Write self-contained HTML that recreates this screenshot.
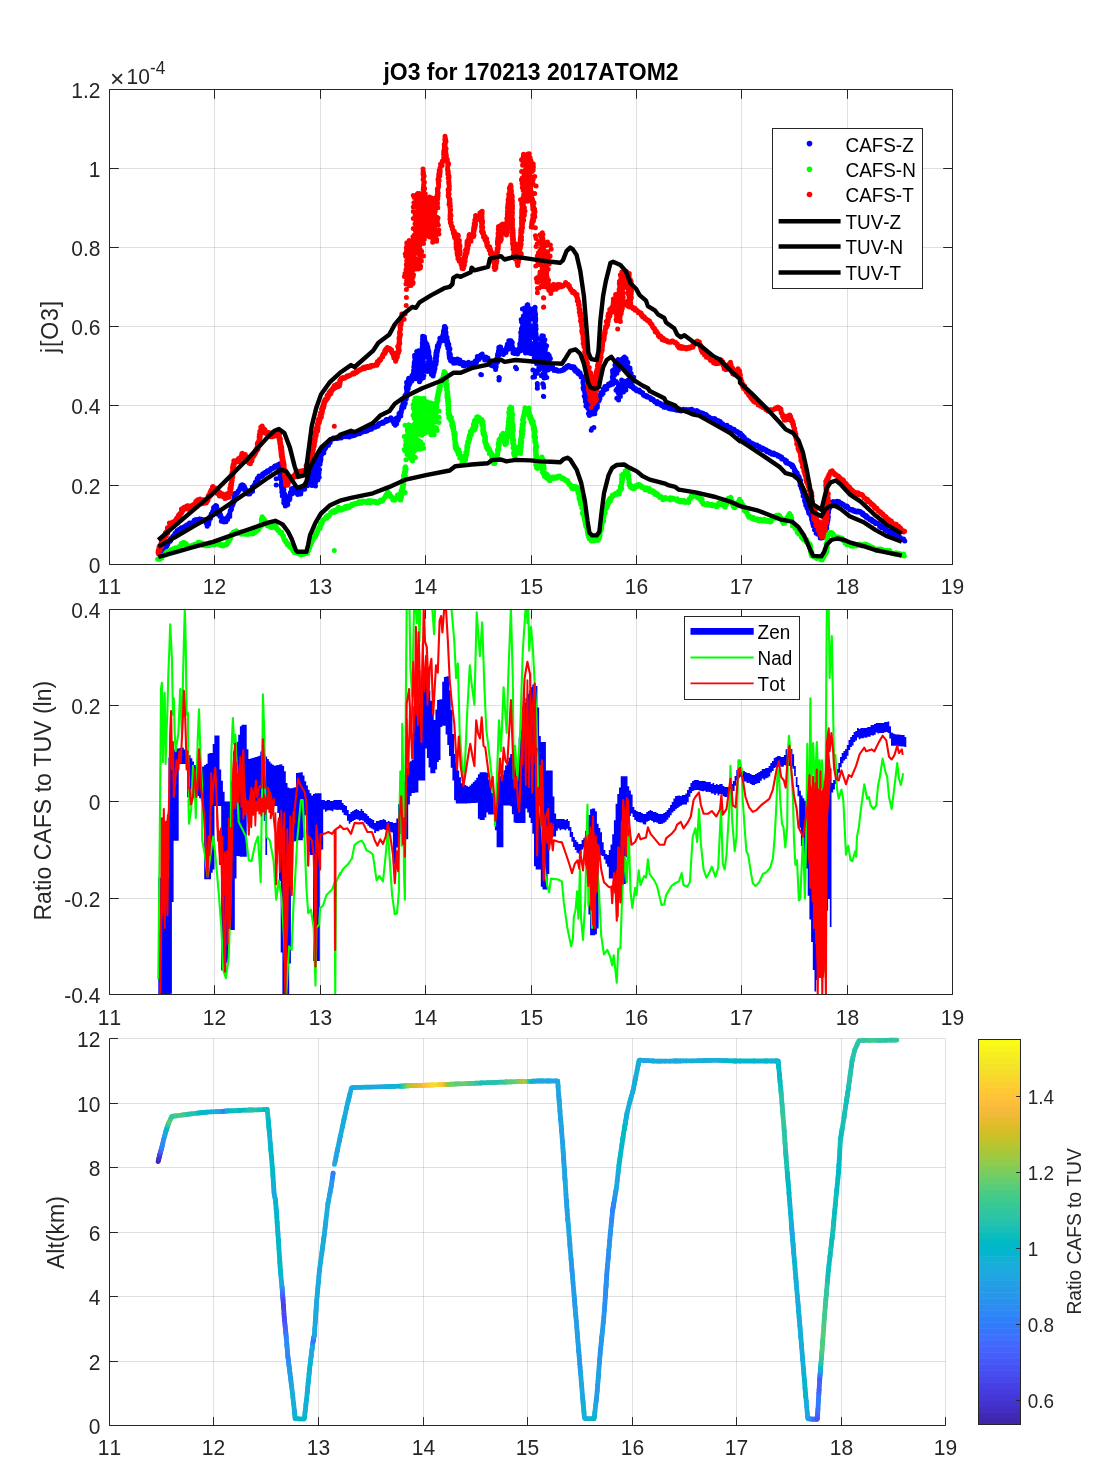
<!DOCTYPE html>
<html lang="en"><head><meta charset="utf-8"><title>jO3 for 170213 2017ATOM2</title>
<style>html,body{margin:0;padding:0;background:#fff}body{width:1094px;height:1484px;overflow:hidden}</style>
</head><body>
<svg width="1094" height="1484" viewBox="0 0 1094 1484" font-family='"Liberation Sans", sans-serif' style="display:block;font-kerning:none">
<rect width="1094" height="1484" fill="#fff"/>
<path d="M109.5 89.5V564.5M214.5 89.5V564.5M320.5 89.5V564.5M425.5 89.5V564.5M531.5 89.5V564.5M636.5 89.5V564.5M741.5 89.5V564.5M847.5 89.5V564.5M952.5 89.5V564.5" stroke="#262626" stroke-opacity=".15" stroke-width="1" fill="none"/>
<path d="M109.5 564.5H952.5M109.5 485.5H952.5M109.5 405.5H952.5M109.5 326.5H952.5M109.5 247.5H952.5M109.5 168.5H952.5M109.5 89.5H952.5" stroke="#262626" stroke-opacity=".15" stroke-width="1" fill="none"/>
<clipPath id="c1"><rect x="109" y="89" width="844" height="476"/></clipPath>
<g clip-path="url(#c1)">
<path d="M158.8 553.1h0m-.1 .7h0m.3-1.3h0m1-.1h0m-.5-.4h0m1.6-1.3h0m.5 .3h0m.1-.9h0m0 0h0m1.6-.4h0m-.2-1.8h0m0 0h0m1.3-.6h0m.3-.7h0m1.6-.7h0m-.3 1.1h0m-.3-.4h0m1.2-.6h0m0-1.2h0m.9-.6h0m.2-.6h0m.4-.9h0m0-.7h0m1.4-.5h0m-.1-1.1h0m.5 0h0m.5 .1h0m-.1-1.2h0m.1-.9h0m.5 .1h0m1.1-1h0m.3-.6h0m0-.1h0m.3-.6h0m.3 .1h0m.5-.5h0m1.1-.8h0m.1-1.6h0m.4-.5h0m.6 .1h0m0-.5h0m1.1-1.3h0m.2-.7h0m1.2 .3h0m.4-.6h0m.4-.9h0m.8 1.3h0m.2-1.2h0m.3-.7h0m1.1-.8h0m-.4-.1h0m1.9 .8h0m-.6-.8h0m1.7-.4h0m.1-.8h0m1.5-.8h0m.2 1.3h0m.6-2.1h0m.6-.2h0m0 1.2h0m.8-1.5h0m.8-.3h0m.6-1.1h0m.7 1.4h0m-.4-1.1h0m.9 .2h0m1-.5h0m0-.4h0m1-.2h0m1.2 .1h0m.4-2.3h0m.2 1.3h0m1.2-1.3h0m.4 .7h0m.1-1.5h0m2 1.2h0m.2-.8h0m.8 0h0m.1-.9h0m.5 0h0m.7 1.3h0m1.2-1.1h0m.5 .5h0m.2 .2h0m.8 1.1h0m.9 0h0m.6-1.2h0m0 .3h0m.5-.1h0m0 1.3h0m1.5 .4h0m-.2 1.7h0m.8 2.9h0m.2-2.6h0m-.1 .8h0m1.4-.3h0m-.4-1.7h0m.2-2.2h0m.3 2h0m-.3-1.4h0m.5-2h0m0 2.9h0m.2-4.3h0m1.3 .9h0m-.8-1.5h0m.5-.3h0m.6-.7h0m1-1.6h0m-.3 1.1h0m-.3-1.5h0m.8-.2h0m1 1h0m.1-1.3h0m-.5-1.9h0m.5-.7h0m-.3 .7h0m1.4-1.7h0m-.7-2h0m.9 1.9h0m.2 .2h0m.5-.7h0m-.7-2.4h0m1.4-1.3h0m0 1.3h0m0 1h0m.8-1.8h0m-.4 2.5h0m.8-.8h0m.1 3.8h0m.7-.5h0m0-1.2h0m0 3.4h0m.5 1.4h0m1.1-2.8h0m0 2.3h0m.4-1.3h0m-.8 1.1h0m.8 1.4h0m.3 1.3h0m.6-1.7h0m1 3.8h0m.3-.2h0m-.7 2.8h0m.3-3.8h0m.5 3.6h0m1.5-2.1h0m.4 2.9h0m-.8-.5h0m1.5-.5h0m.2-.2h0m.5-.3h0m-.3-1.6h0m1.4 1.4h0m-.5 1.5h0m.9-2.5h0m.7-.1h0m-.2-.3h0m.2 .7h0m.4-2.8h0m-.1-.2h0m.9-.6h0m.3-1.5h0m.5 1.5h0m.2 .6h0m0-2.5h0m0 .1h0m.3-2.9h0m.9-1.5h0m-.7 .8h0m.7-.5h0m.5-.7h0m-.1-2.8h0m.9-.7h0m-1.1 2h0m.2 .8h0m0-3.1h0m1.3-.6h0m.2-2h0m.3 .9h0m.3-1.9h0m-1.2 1.4h0m.3-1.4h0m.6 .1h0m1-.4h0m.1-3.1h0m-.5 .4h0m1.1 0h0m-1-.5h0m0-3.9h0m.1 1.3h0m1.6-2.1h0m-.8-.1h0m.8 3.3h0m0-2.2h0m.3-.7h0m1.6-1.5h0m-.3 .7h0m.9-1.4h0m0-.7h0m.6-.2h0m.5-.8h0m.7-2h0m.5-.4h0m.6 1h0m0-.9h0m-.1-2.4h0m1 .1h0m.2-.8h0m-.1 .6h0m.7 2.7h0m.7-2.8h0m1 1.4h0m.8 1.9h0m-.5 1.7h0m.5 .6h0m.3 .4h0m1.1 1.1h0m.3-1.7h0m.1 .3h0m.8 1.1h0m.1 1.9h0m1.2-1.3h0m.6 1.4h0m.6-1.2h0m-.2 .2h0m.3-1.4h0m0 .5h0m1-.4h0m.8-2.1h0m.4 1.7h0m-.3-4.2h0m-.3 2.6h0m.9-2.8h0m.5-.7h0m.7 .1h0m.2-1.4h0m.5 .1h0m-.3 .4h0m.6-1.9h0m.9-.4h0m.6-.3h0m-1.3-.2h0m1.2-1.4h0m-.7 .5h0m1.1-1.2h0m.3-2h0m.8 .6h0m.6-.3h0m.1-1.6h0m-.3 .3h0m.6-1.6h0m1 1h0m1-.2h0m.1-1h0m1.9-.4h0m-.7 .5h0m.4-2h0m1.3 .1h0m.3-.2h0m.5-1.2h0m.5 1h0m.8-1.1h0m.3 .3h0m.3-1h0m.6-.9h0m.9 .9h0m.5-.6h0m.8-.8h0m.6 .3h0m.2-1.4h0m.8 0h0m-.2-.6h0m1.2 .2h0m.6-.5h0m.8-.7h0m.6 .4h0m.9-.6h0m-.2-1.5h0m1 1.2h0m.8-1.1h0m.5-.8h0m.3-.1h0m.6 0h0m1.7-1.3h0m-.8 1.3h0m1.5-.5h0m-.9 .8h0m-.3 .1h0m0 2.5h0m-.2-.9h0m.7 2.3h0m-.2-.1h0m.7-1h0m-.6 1.6h0m.6 .7h0m-.6 1h0m.2 3h0m1-2.1h0m.4 1.8h0m-.5 2.7h0m-.4-2.9h0m.1 2.9h0m-.2 .1h0m1.7 .8h0m-1.2 1h0m.7-2.1h0m.4 3.2h0m-1.2-3.1h0m1.1 4.8h0m.8 1.2h0m-.5 1.3h0m-.5 3h0m-.1-4.7h0m-.3 2.7h0m.7-.1h0m1.3-1.8h0m-1.3 5.8h0m1.1-4.8h0m-.2 1.2h0m.9 2.2h0m-.9-.5h0m-.3-1.7h0m-.6 6.5h0m.9-.8h0m1.2-1.4h0m-1.1 3.7h0m-.4 1.2h0m1-5.7h0m-.2 2.3h0m-.2-.8h0m-1.1 1.3h0m.1-3.3h0m1.7 6.4h0m0-3h0m-1.4 4.2h0m.8-4.7h0m.1 2.2h0m.6 3.6h0m-.8-6.6h0m1.6 4.5h0m.7 .6h0m-1-1h0m-.5 5.4h0m-.6-6.4h0m-.3 2.3h0m2.7 1.1h0m-1.2 3.4h0m.3 1.5h0m0-8.1h0m.1 5h0m.3-2.1h0m.8 2.5h0m-1.3-3.3h0m-.9 6.8h0m2.2-1h0m-.6 .3h0m.7-3.5h0m-1.3-.7h0m.2-.3h0m.3 5.7h0m.5-2.2h0m-.7 3.4h0m.1-1.2h0m0 1.3h0m.2 .5h0m1.7 0h0m-.9-1.6h0m1.1 1.1h0m.4-2.2h0m.2 2h0m-.3 0h0m.7-4.6h0m-1 2h0m.2 1.7h0m1-4.7h0m-.7 1.8h0m.9-2h0m.2-.4h0m-.7-.7h0m1.4 2.2h0m.4-2.5h0m0 1.4h0m.6-4.2h0m-.1-1.9h0m.2 2.3h0m-.7 .2h0m1.9-.9h0m-1-.3h0m.7-5h0m.5 .2h0m.3-.2h0m.1 .8h0m.4 3.5h0m1.8-5.5h0m-.7 1.5h0m0 3.5h0m1.6 .2h0m.4-.3h0m1.7-1h0m.1 3.1h0m-.3-2.2h0m.9-1.4h0m.5 3h0m.9-2.3h0m1.2 1.4h0m-.2 .9h0m0-2.6h0m.9-2.8h0m1-.5h0m0-.7h0m.5-1.4h0m.4 .6h0m-.9 3h0m.7-3.1h0m.9-1.1h0m.4 3.9h0m.2-3h0m.7-2.7h0m.9 1.2h0m-.5-1.3h0m1.5 2.3h0m.4-2.1h0m1.2-3h0m-.4 4.3h0m-1.3-.8h0m.1-1h0m2.6-1.2h0m-2.8 0h0m3.7 1.4h0m-1.1 .5h0m-.9-7.9h0m.4-.5h0m2.2 5.8h0m-1.8-1.7h0m-.9-3h0m1.6 4.9h0m1.7-1.7h0m.6-1.1h0m-1.4 .6h0m-.6 3.5h0m-.1-1.5h0m1.6 .5h0m-.2 3.6h0m-1.9-4.5h0m2.3-.2h0m1.8-6.1h0m-1.5-.6h0m-2.1 5.2h0m.5-1.4h0m.6 6.1h0m3.7-6h0m-4.4-1.3h0m3.2-.7h0m2 1.2h0m-4.2-7.6h0m1.8 5.8h0m-1.5 5.9h0m3.5-14.4h0m-3.9 8.8h0m.1 8.1h0m2.3-8.4h0m.4 8.9h0m2.6-13.2h0m-4.2 4.5h0m3.1-7h0m-1.6-2.1h0m2.2 10.8h0m-3.4-.5h0m3.2-12h0m-.6 8.3h0m-2.4-5.3h0m3.4 1h0m-2.8 .4h0m1 9.4h0m.7-.2h0m-.6-4.9h0m.3-.7h0m2.7 .4h0m-1.6 .2h0m-3.1 .1h0m2.2-4.9h0m2 11.4h0m-1-1.7h0m-.5-1h0m2.9 .1h0m-2.6-4.8h0m2.4 .7h0m-1.2-3.2h0m-.5-7.2h0m.9 5.3h0m-.7-.8h0m2 2.2h0m-4.5 5.3h0m3.5 0h0m-.1-11.5h0m-2.1 11.6h0m-.5-6.5h0m1.6-1.3h0m-1.4 .6h0m-.6 6.8h0m1.3-10.9h0m-1.1 1.2h0m1 1.4h0m-.5-.8h0m2.9 5.9h0m-3-11.8h0m1 7.9h0m1.1-3h0m-1.5 6.6h0m2.7-7.2h0m-1.5 1.4h0m-1-1.1h0m2.4-1h0m-.6-5.3h0m-1 2.5h0m.3 1h0m.2-2.4h0m1.2 5.2h0m.8 .1h0m-1.8-1.4h0m.3-2h0m1.2 1.6h0m.7-1.1h0m-1.5-3h0m1.6 2.5h0m.3-5.6h0m-1.6 2.8h0m1.7 1.3h0m-.9-4.4h0m.2 4.1h0m.6-2.1h0m-1.1-.6h0m.7 .9h0m1.2-2.7h0m-.2-.9h0m.2 .1h0m.6-1.5h0m.2-1.1h0m0-.4h0m1.3 2.4h0m-.1-.7h0m1-3.2h0m-.3-.6h0m.1 .3h0m1.1-.8h0m-.2-.3h0m.2-1.9h0m.9 .3h0m.2-.8h0m.2-1.3h0m1.6 1.2h0m-.9-2h0m1-.3h0m-.3-.7h0m.7-.6h0m1.2 .7h0m-.5-.6h0m-.3-.9h0m1.2-1.4h0m.3 .1h0m1.4-.7h0m.9 .2h0m1.2-.7h0m-1.1-.4h0m1.4-.1h0m.7 .5h0m.5-.3h0m1.1 .4h0m.5 .1h0m.9-2.1h0m.6 1.4h0m.6 0h0m.4-.2h0m.3-.6h0m.2 .9h0m.7 0h0m.4-1.4h0m.5 .2h0m1.4 0h0m.7-.3h0m.9 .1h0m.5-.1h0m.1 .2h0m1.2-.3h0m.5-.8h0m.9 .1h0m.7 1.2h0m.3 0h0m.5-.9h0m.9-.2h0m.1-.9h0m1.3 1.2h0m.3-.8h0m1.1-1h0m.9 1.2h0m0-1.9h0m1.3 1.2h0m.4-.9h0m.4 .2h0m1.4-.6h0m-.4-1h0m1 1.3h0m1.1 0h0m.4-1.1h0m.4-.9h0m1.3-.1h0m.7 .5h0m.1-1.3h0m1.3 .4h0m.2-.7h0m1 .1h0m.3 .6h0m.4 .2h0m1.4-.4h0m1-1.2h0m-.4-.8h0m.8 .2h0m.9 .5h0m1-.9h0m-.5 0h0m1.6 .3h0m0-1.7h0m1 .4h0m.4-1.2h0m1.6 0h0m-.5 .3h0m1.1 .3h0m1-1h0m-.5-.4h0m1.2 .5h0m1-.2h0m.6-.6h0m.2-1.8h0m.8 .5h0m.5-.8h0m1.8-.4h0m-1 .5h0m.9-.2h0m.8-1.3h0m1 1.1h0m0-.3h0m1.8-2h0m-.2 .5h0m1.2 .2h0m-.1-.7h0m.1-1.3h0m1.2 .1h0m.4 1h0m1-.4h0m1.7-1.7h0m-1.1 .4h0m1.3-.1h0m.2-1.2h0m.9 1.9h0m0-.7h0m-.5 1.1h0m1.7-.5h0m.2-.2h0m.7 4.5h0m-.6-1.8h0m1.4 1.5h0m.6 1.8h0m-.1-1h0m0-1.7h0m.8 .9h0m.7 .2h0m-.6-3.5h0m.3-2.1h0m1.7 1.5h0m-1-.7h0m1 1.4h0m.7-2h0m.1-2.6h0m-.2 .5h0m.6-2.3h0m-.3-.5h0m1.1 1.8h0m.7 .7h0m.1-2.2h0m-.2-2h0m-.5 2.7h0m.4-1.5h0m.9-4.1h0m-.1 3.3h0m.3-3.4h0m.5-.6h0m-.3-1.5h0m.3 2.3h0m.6-1.2h0m0-3.3h0m1 .1h0m.1 2.8h0m.7-2.8h0m-1.4-2.3h0m1-.5h0m-.6 1.9h0m1 1.1h0m.7-1.8h0m.5-5.1h0m-.4 1.3h0m-.2 .5h0m.3-2.5h0m.7 1.9h0m.5-1.9h0m.3-2.6h0m-1.9 .8h0m1.1-.2h0m.3-2h0m1 1.5h0m-.7-5.1h0m-.5 6.2h0m.1-1.2h0m.3-2.4h0m.7-1.4h0m-1.1-3.6h0m.1 1.7h0m1.2 1.4h0m.6-5.8h0m.1 4.1h0m-1.7-6.3h0m.1 .9h0m2.3 2.2h0m-1.9-.1h0m.9 .9h0m1.1-3.5h0m.6-.3h0m-1.3-2.8h0m.3-1.3h0m-.1 1.8h0m141.9-12.8h0m.7-.2h0m.1-.4h0m.8-.3h0m.1 2.4h0m.4-1.7h0m-.1 1.1h0m1 .8h0m.5 1.5h0m.8-1.2h0m.4 1.1h0m1.4-.5h0m-.4 .3h0m1.1 1h0m.5-.7h0m.7 .8h0m.9-.3h0m1.2 .1h0m.9-.3h0m-.3 0h0m.3-.4h0m1.6-.8h0m-1 1.1h0m1.6-.6h0m.4-1.5h0m.5-.6h0m0 .9h0m1-.3h0m.6-1.4h0m.3 .4h0m.6-1.6h0m.4 .7h0m1.3-1.2h0m.1 1.5h0m.4-.6h0m.5 .5h0m1.9 .1h0m.6 .2h0m-.9 .7h0m.4-1.3h0m2.1 .3h0m.1 .9h0m.3 .2h0m.2 2.1h0m.8-1.4h0m.1 2.7h0m1.1 .3h0m.7-1h0m.4 2.1h0m.5-1.7h0m.1 1.6h0m.4 1.5h0m1.4-1.3h0m-.4 1.7h0m.9-.3h0m.4 1.7h0m.2 1.2h0m.1-1.1h0m.7 .5h0m1 .3h0m-.1 .6h0m.8 1.2h0m.4 1.8h0m.5-1.6h0m-.7 1.8h0m-.7 .4h0m.2 1.7h0m.4-2.1h0m-.8 1.8h0m.3 1.4h0m.9 2h0m-1 1.9h0m.5-1h0m-.4 1.9h0m.8-1.9h0m-.3 2h0m0 1h0m1.7-.4h0m-.3 .9h0m-.6 1.5h0m.7-.7h0m-.4 .4h0m-.6 4.7h0m.5-3.9h0m1.8 1.5h0m.2 1.5h0m.3-2.8h0m-.1 5.9h0m-1.8-1.7h0m.1 2.1h0m.2 2.9h0m.9-3.5h0m-.8-2.7h0m.6 3.2h0m.6 .3h0m.3 2h0m-.2-1.5h0m-.7 1.8h0m1.2 .5h0m-1 0h0m1.1-2h0m-.8-2.2h0m-.6 3.5h0m2.7 1.9h0m-2.8 3.2h0m1-3.1h0m.9 4.7h0m-1.8-1.6h0m.7-2.3h0m1-.1h0m-.3 1.6h0m.1 2.4h0m.4-4.6h0m1.8 6h0m-2.5-7h0m.2 .1h0m1.7 7.6h0m.4-.6h0m-1.1-3.4h0m.6 .9h0m0-3.1h0m.4 4.4h0m1.2 4.2h0m-2.4-3.7h0m.2 5.1h0m.1-.2h0m.5-4.1h0m1-.8h0m.8 1.7h0m.8 .7h0m-1.3 1h0m1.8 1.9h0m-.1-5.3h0m-.4 5.8h0m-.4-3.5h0m1.1 1.2h0m.9-1.3h0m1 3.1h0m-.9-4h0m1.5-3.8h0m-2 3.9h0m.9 1h0m.3-1h0m.4 1.2h0m1.5-6.2h0m-1.3 7.3h0m.9-2.4h0m.4-.8h0m-1.4-4.1h0m1.9 3.2h0m-1.9 .7h0m1.6-3.8h0m-.3 4.5h0m-.9-3.5h0m.4-3.2h0m-.2 4.1h0m2.3-1.6h0m0 1.9h0m-.3-2h0m-.9-1h0m.5 1.8h0m.4-3.4h0m-1.5 5h0m1.6-5.2h0m-.5 3.8h0m-.4-6.1h0m.5 2h0m0-4.2h0m.4 7.4h0m-.3-4.7h0m1.1-.8h0m.3-2.3h0m-.1 3.6h0m0-4.7h0m.9 4.4h0m.8-2h0m-.1-2.3h0m-.3-1h0m.4-.4h0m1.3-.5h0m.3 .5h0m-.5-2.6h0m.5 2.6h0m-.1-2.7h0m1.6 1.1h0m-.6-1.2h0m.8-3.3h0m-.1 2.7h0m1.5-4.3h0m.1 2.6h0m-.2-1.7h0m.4-1.8h0m1.6-.2h0m.2 .7h0m.1 1.9h0m1.3-2.9h0m-.3-.1h0m.7-2h0m.2 .2h0m.7-.4h0m.5 1.6h0m1.5-1.8h0m-.4-1.1h0m.9 .5h0m.1-.7h0m.7 2.1h0m1.2-2.2h0m.1-2.4h0m-.9-.6h0m-.3-.2h0m-.3-1.6h0m.2 1.8h0m.2-2.6h0m-.5 .2h0m0 .7h0m1.5-2.1h0m-1.3-2.3h0m.9 2.1h0m-1-4.6h0m2 4.8h0m.3-3.7h0m-1.5-1h0m.9-1.4h0m-.2 3.2h0m2.6-2.9h0m-.9-1h0m1.2 1.8h0m0 3h0m.6-4.3h0m-2.6-4h0m2 4.6h0m.2-1.9h0m1.3 2.5h0m-.8-1.6h0m-.3-.7h0m-.7-1h0m.8 .3h0m1.8-5.5h0m-.5 4.6h0m-1.1 1.4h0m2.6-2.9h0m-1.9-1.3h0m.1 5.1h0m-.3-6.9h0m.6 0h0m-.6-2.2h0m2.5 5.2h0m-.7 .4h0m1.3-2h0m-.1 .8h0m-.2 1.9h0m0 .8h0m.6-2.1h0m0 1.4h0m.4-6.6h0m.5 .5h0m.4 5.2h0m-.6-4.8h0m-.3 2h0m.6-2.1h0m2-3h0m-.9 .6h0m.2 3h0m2.2 2.8h0m.1-5h0m-.2 3.8h0m0 .7h0m1.1 .5h0m.9-.9h0m-1.5 4h0m.9-4.9h0m-.3 2.7h0m.2 3.6h0m.6-1.4h0m1.6 2.9h0m-.9-.8h0m.4 0h0m.6 .6h0m.5-1.3h0m-.9 4.9h0m1-3.7h0m-.3 2.2h0m.4 1.5h0m-.1 3.1h0m.6-.4h0m.5-2h0m-.1 3.6h0m.8-.8h0m-.5 1.4h0m1.4 1.8h0m-.7 0h0m1.1 1.7h0m.5-4h0m-1.7 2.8h0m-.3-1.3h0m-.8 2.5h0m-.7-1.6h0m-.5 1.6h0m.8-1.1h0m-2 3.4h0m-.5 1.6h0m.1-5.1h0m-1 3h0m-1.1 3.7h0m-.9-3.1h0m1.2 .7h0m-2.5-1.5h0m.5-.1h0m-.5 1.6h0m.5-3.1h0m-1.7 3h0m.4 3.8h0m-.3-4.2h0m1.6 4.9h0m-.5-6.9h0m-1.7 3.2h0m.7 4.5h0m.7-7h0m-1.6 3.5h0m-.9-.9h0m.6-5.1h0m-.2 6h0m-.4-.9h0m.8-2.7h0m-2.8 6.1h0m-.8-1.6h0m2.1 0h0m-.6 1.6h0m-2.8 .5h0m2.1-4.2h0m-2.2-2.1h0m-.5-1.4h0m1.8 7.3h0m.3 4.8h0m.2-3.4h0m-.8 1.8h0m.6-3.6h0m-2.4 1.9h0m2.1 2.2h0m-.2-3.5h0m2.2-3.7h0m-2.4 5h0m1.4-1.5h0m.5-2h0m1.2 3.4h0m-.2 3.1h0m-.2-2.5h0m-.9-1.7h0m2.7-2.8h0m-1.9 3.6h0m2.6 .5h0m-.4 1.4h0m-1.7-4.7h0m2.8-.8h0m-1.3 4.3h0m.8-.8h0m.4 2.2h0m-1.9-.6h0m3.5-5.2h0m-1.7 5.8h0m-.2-3.9h0m.9-2.7h0m1.5-.3h0m-1.1 3.5h0m.2 1.9h0m.5-5.7h0m.3 4.4h0m1.4-5.6h0m-.4 2.5h0m.6-1.4h0m.6 .6h0m-.4-.2h0m1.4-1.8h0m.7 1.7h0m0-.8h0m.2-.1h0m1.1 2.5h0m.6-1.6h0m.7 1.8h0m1 .5h0m.2 .8h0m0-1.4h0m.8 2.2h0m.8 .2h0m.8-.5h0m.1 1.4h0m.7 .7h0m1 0h0m-.3 .5h0m1.9-1h0m-.2 .6h0m.9 .1h0m.5 1.4h0m.8 .1h0m-.1 0h0m1.3 .7h0m.5-.2h0m-.1 .2h0m.8 2h0m.4 .3h0m1 .6h0m.8 0h0m-.3-.3h0m1.2 .8h0m.5-.7h0m-.1 1.3h0m1.1 .3h0m.8 .2h0m.1-.2h0m1.6 .5h0m-.1 .4h0m.6 1.2h0m1 .4h0m.6-.7h0m.3 .6h0m.4-.1h0m.9 1.4h0m1.3 1h0m-.5-.1h0m1.1 0h0m1-.3h0m0 1.2h0m-.1 1h0m1.9 .3h0m.7-.8h0m.5-.1h0m.3 .2h0m1.1 2h0m.1-1.3h0m1.3 .9h0m.3-.2h0m1.2 1h0m-.5 1.5h0m1.2 .2h0m.6-1.4h0m1 .6h0m.6 .8h0m-.4-.2h0m2.3-.3h0m-.5 1.5h0m1.1-.9h0m.4 .2h0m.2 1.1h0m1.8-.6h0m0 1h0m1.7 .3h0m0-1.3h0m.5 .4h0m-.3 .5h0m1.5 .5h0m.8 .5h0m.8-1.1h0m.7 1.2h0m1.1-1.5h0m0 1.6h0m.7-.1h0m1.4 .7h0m-.1-.1h0m1.1-1.3h0m1.3 0h0m.1-.4h0m.3 1.4h0m.4-1h0m1 1.5h0m1.1-1.7h0m.3 1.7h0m.1-.9h0m1.7-.5h0m-.3 1.3h0m1.8-.1h0m.3-1.3h0m.3 .8h0m1.3-1.1h0m0 1.5h0m1.3 .1h0m.5-.5h0m1 .5h0m.2 0h0m1 0h0m1-.3h0m.3 1.4h0m1 .3h0m-.7-.5h0m1.1-.3h0m1.8 1.7h0m-.4-.3h0m.9 .1h0m.8-.3h0m.5 1.1h0m-.2-.3h0m1.6 .1h0m1 .9h0m.5 .3h0m.1 .6h0m.9-.8h0m.9 1.3h0m.1-.4h0m.9 1.1h0m.6 .6h0m.3-.3h0m.2 0h0m.4 1.3h0m1-.3h0m1.2 .8h0m.5-.2h0m.7 .8h0m1 .8h0m.8-1.6h0m.4 1.7h0m.3 .4h0m.5 .7h0m.7 .1h0m.5-1.1h0m1 .3h0m1 .5h0m-.5 1.2h0m1.7-.7h0m0 .8h0m.1 .3h0m.7 1.3h0m1.7-.3h0m-.2 .7h0m.9 .8h0m.5-.2h0m-.2 .6h0m.6 .8h0m1.3-.1h0m1.4-1h0m-.3 .8h0m.3 1.5h0m.7-.1h0m.9-.6h0m.6 .8h0m1.2-.2h0m-.7 1.8h0m1.8-.8h0m-.2 .9h0m.7 .6h0m.6 .5h0m1.5-1.2h0m.2 .2h0m.2 1.2h0m.9 .6h0m1.5 .7h0m.4 .6h0m-.1-.8h0m.6-.1h0m.8 1.2h0m1.3 .2h0m.6 .1h0m-.9 1.3h0m.6-1.2h0m.9 2.2h0m-1-.5h0m1.7 .9h0m.5-.6h0m-.4 1.2h0m1.3 .1h0m1.1 .7h0m.3 1.2h0m.7 .9h0m-.3 .6h0m.5-.1h0m1.7 .2h0m-.5 .3h0m.4 1.1h0m.6 .7h0m1.2-1.3h0m-.6 1.7h0m1.8-.2h0m.2 .1h0m.9 1.3h0m-.2-1.1h0m.8 1.3h0m1.6-.1h0m.3 .2h0m.5 .7h0m.7 .2h0m.4 1.1h0m.3-.8h0m1.3-.2h0m0 1.2h0m.8-.3h0m.3 .5h0m1.5 1.6h0m0-1.5h0m.9 2h0m1.1 .3h0m0-.4h0m1.3-.6h0m-.1 1.9h0m.6 0h0m.7-.7h0m.8 .2h0m1.2 .5h0m-.2 .6h0m1 1.1h0m.5 .6h0m.1-1.1h0m1.3 .3h0m1.5 1.9h0m-.1 .1h0m0-1.4h0m1 1.1h0m.9 1.2h0m1-.5h0m.6-.6h0m.5 1.5h0m.2-1h0m.1 1.1h0m2.1-.2h0m.2-.1h0m0 .1h0m1.2 1.8h0m.3-1h0m.5 .5h0m.8 .3h0m.3 .4h0m.5 .8h0m1.3-.2h0m.1 1.8h0m.1-.9h0m.7 1.3h0m.6-.2h0m1.8 .7h0m.4 1.5h0m0-1.3h0m.4 2.2h0m.9-1.1h0m-.1 1.8h0m.8 .2h0m.8 .3h0m0 .2h0m1.3-.2h0m-.2 .6h0m1-.1h0m.8 1h0m.5-.5h0m.8 1.8h0m.3-.9h0m-.4 1.4h0m1.4 .3h0m-.1 .3h0m.5 1.1h0m.5 .8h0m-.1 1.5h0m.4-1.1h0m.2 1.3h0m.4 1h0m.6-.1h0m.7 .6h0m.1 1.1h0m.4-.4h0m.2 2.4h0m.8 .2h0m.2 .5h0m.8 1h0m-.7-.4h0m.6 .1h0m0 .9h0m.3 .8h0m.3 1.9h0m.1 .6h0m.8-.5h0m-.5 2.1h0m.5 .2h0m-.5 .3h0m.9 .7h0m-.9 1.3h0m.2-.2h0m.7 1h0m.3 .8h0m.4 .2h0m-.4 1.2h0m1 1.4h0m0-.1h0m-.4 .2h0m.5 .5h0m.6 .3h0m-.4 1.8h0m0-.4h0m1 1.2h0m-.1 1h0m-.2 1.5h0m-.2 .3h0m.9 .2h0m.2 0h0m-.1 .6h0m.6 1.1h0m.5-.1h0m-.3 1.6h0m-.4 1h0m.8 1.1h0m-.4 .4h0m.6 1h0m.1-.4h0m.4 2h0m-.1 .6h0m-.2 .3h0m.6-.4h0m1.1 1.7h0m-.4-.4h0m0 1.8h0m.5-.1h0m.7 1h0m-.6-.1h0m1 .8h0m-.6-.3h0m.3 1.9h0m1.1-1h0m-.6 3h0m.4-.8h0m.9 1.3h0m.5 1.2h0m.1 .3h0m.5 .6h0m0 .7h0m.7 .1h0m-.1 3.3h0m-.2-1h0m.1-.8h0m1.2 1.7h0m-.8-.6h0m.5 4h0m.6-.4h0m-.7-.8h0m1.3-1h0m-.6 4.8h0m.5-.7h0m.1 .5h0m1.1 1.1h0m0-.3h0m-.2-.3h0m-.2 3.7h0m.3-3.3h0m1.2 2h0m-.4-.3h0m.6 3h0m-.1 2h0m.7-3.7h0m.9 3.6h0m.1 .8h0m-.1 .4h0m1.8-.8h0m-.8-.3h0m1.7 .8h0m0 3.5h0m-.2 .6h0m.8-1.1h0m-.2-1.2h0m.9 2h0m.2 .1h0m1.2-1.4h0m-1 .7h0m.5-.9h0m1-.9h0m-.3 2h0m.6-4.5h0m.1-1.7h0m-.3 1.7h0m.2-2.8h0m1-.4h0m.4 .7h0m0 .8h0m.5 1h0m-.5-2.8h0m.4-1.1h0m-.3-.7h0m1.1-.7h0m-1-1.9h0m1.3 3.2h0m-.4-2.9h0m.2-1.4h0m.6-2.6h0m.3 .8h0m-.4 2.3h0m.2-3.4h0m.2-1.3h0m.1 1.2h0m-.4-3.1h0m.8 2.1h0m-.2-1.9h0m.3 .4h0m.3-1.6h0m-.6-.6h0m-.4-1.7h0m.1 .9h0m-.2-1.6h0m.2 .1h0m1-2.3h0m0 1.2h0m.1-2.4h0m0-.2h0m.3-1.2h0m-.2-.1h0m0-.8h0m.7 .3h0m.4-1.6h0m-.4 .3h0m.8-2.4h0m-1.4 1h0m1.4-1.7h0m-.2-.3h0m-.1-.5h0m.4-1.3h0m.5 .7h0m1.6 .1h0m.6-1h0m.1-.1h0m1.4 .9h0m.5-.6h0m.8 .8h0m.8-.9h0m.2-.5h0m.2 1.6h0m1.9-1.3h0m0 1.1h0m.4 .9h0m1.1 .2h0m1 .3h0m-.3-1h0m.9 1h0m.7 0h0m.3 1.1h0m.5-.6h0m1 1h0m.6 .2h0m.4 1h0m.5-.3h0m.9-.5h0m.7 .7h0m.1 1.5h0m-.2-.8h0m1.4 1.1h0m.9 .4h0m.4 1h0m.6-.6h0m.8 .3h0m.6 0h0m.2-.1h0m1.3 .4h0m-.4 1h0m1.2 .7h0m.6-.8h0m1.4 1.2h0m.6-.2h0m.9-.4h0m0-.3h0m.6 .7h0m.8 .5h0m.9-.7h0m1.2 1.2h0m.5 1h0m.7-.9h0m.1 1.8h0m.1-.3h0m1.2 0h0m.4 1.3h0m.2-.7h0m1.4 .5h0m0 .4h0m-.2 1.4h0m1.5-.6h0m.4 1.6h0m-.1-.1h0m.3-.3h0m1.7 1.6h0m-.3-.8h0m1.5 .4h0m-.5 .8h0m1.4-.3h0m.7 1.8h0m.2 .1h0m.8-.6h0m0 .3h0m.9 .3h0m1 1.9h0m-.4-.6h0m1.6 .5h0m.4-.2h0m.8 .2h0m.1 .4h0m.7 .3h0m1 1.2h0m0 1.2h0m.9-1.2h0m.2 1.9h0m.8 .6h0m-.1-.1h0m1.9-.7h0m-.3 .3h0m1.2 .6h0m.8 .4h0m-.1 1.8h0m1 .2h0m.1 .2h0m.5-.9h0m1.8 2h0m.1-.6h0m.7 1h0m.5-.4h0m0 1.3h0m.9-1.3h0m.9 1.1h0m1 1.3h0m-.3 .6h0m.7 .1h0m1.5-1.3h0m.4 1.2h0m1.2-.1h0m-.4 .6h0m.4 1.5h0m1.5-.9h0m-.3 1.2h0m.3 .3h0m1.1 0h0m.4-.2h0m.7 .6h0m-.3 1.3h0m1.1-1.3h0m.9 1.3h0m.8 .6h0m.1 .1h0m1.5-.5h0m.3 1h0m.8 1h0m-496.1-158.3h0m.1-.2h0m.5-.8h0m-.2 1.8h0m1.5-1.4h0m-.6-.2h0m0 1.5h0m.1-2.6h0m.7 .3h0m.8-.4h0m.2 .4h0m-.5-1.2h0m.4-1.4h0m.5 .2h0m.3-1.4h0m-.5-1.7h0m.9 1.6h0m.4-.2h0m.1-.8h0m.6-2.4h0m-.6 1.5h0m1.1-1h0m-.2 .7h0m-.6-.8h0m-.2-.7h0m1 1.6h0m-.3-3h0m.7-.5h0m-.6-.5h0m-.4 .2h0m-.3-.8h0m.1 .7h0m1.4-2.1h0m-.2 .3h0m-1.1-2.5h0m1.3 2.6h0m-.2-1.8h0m0 .4h0m-.5-1.8h0m.7-.2h0m-1.1 0h0m.5-1.2h0m-.3-1h0m.7-.4h0m-.6-1.3h0m1.1-.6h0m-.6 .9h0m.5-.5h0m-.3-1.9h0m-.3 1.1h0m.8-1.9h0m.1 2.2h0m-.5-3.8h0m-.5-.5h0m1.1 .1h0m.5-1.3h0m.4-.5h0m-1.3 2.2h0m.7-.3h0m.5 .2h0m.2-2h0m.1 2h0m.9-2.9h0m-1.2 2.3h0m1.5-2.8h0m-1.3 .7h0m1 .4h0m-1.1 1h0m.4-2.5h0m.2 2h0m.2 2.2h0m.6-.8h0m.2 1.2h0m-.5-.3h0m-.4 2.9h0m.1-2.8h0m.2 1.5h0m-.5 2.7h0m.5-1.6h0m.5 .8h0m.6-1.7h0m-.8 1.1h0m0 2.3h0m.9-.5h0m-.1 1.4h0m-.1-.3h0m.1 1.1h0m0 1h0m-.2-.2h0m.5-.1h0m-.8 3.8h0m-.1-3.9h0m.4 2.5h0m.1-1.3h0m.1 0h0m.7 3.4h0m0 .3h0m-1.3-2.4h0m1.1 2.6h0m.3 0h0m-.4 .8h0m-.6 1.6h0m1-.1h0m.1 2.3h0m-.3 .1h0m.3 .8h0m-.2-3.2h0m-.4 1.8h0m.6 .8h0m-.9 1.4h0m.4-.8h0m.8 .3h0m-.8-.9h0m.1 2.7h0m.1 3h0m0-.5h0m.5-2h0m.6 .5h0m-1 1.8h0m.7-.4h0m-.5-.6h0m-.1-.4h0m.6-.2h0m-.6-2.3h0m1.4 1.2h0m-.5-2.3h0m.3 2.6h0m.1-3.4h0m-.5 .6h0m-.2 1.6h0m.5-.8h0m0 .1h0m-.5-2.5h0m.5-.6h0m-.3-.7h0m.6 1.5h0m-.3-3h0m1-.7h0m-.1 1.7h0m0-2.1h0m0-.8h0m.2 1.5h0m-1.2-3.4h0m.2 1.7h0m.9 .2h0m.1-2.9h0m-.3 0h0m.6 .2h0m-.2-1h0m-.4-.2h0m.4-2.4h0m.2 1.5h0m-.3-.5h0m.3 1.5h0m-.1-1.3h0m-.5-3h0m1.1 .7h0m-.5 .2h0m-.4-1.4h0m-.3-1.9h0m.7 1.4h0m.5-.1h0m-.7-3.3h0m.8 .2h0m-.9 .5h0m.7-.2h0m-.2-3h0m.5 3.3h0m-.4-2h0m-.8-1.2h0m.2-.7h0m-.1 2.2h0m.6-1.2h0m-.3-1.4h0m-.1-.7h0m.9-.4h0m-.2-3h0m-.4-.3h0m-.2 1.4h0m.8 1.3h0m.2-.8h0m.4-2.1h0m-1.2-1.2h0m.2-.1h0m.8 1.5h0m-.3-1.6h0m.1-1h0m0 .1h0m-.4-.7h0m-.1-.7h0m.8-.9h0m-.1 1.5h0m-.8-3.1h0m.6 2.3h0m.4-1.5h0m-.1-1.5h0m-.7-2.5h0m.4-.1h0m.8 .1h0m-1-.3h0m.4-1h0m.2 2h0m.4-1.6h0m-.2-1.5h0m-.8 1h0m-.1-2h0m1.8 .5h0m-1.1 1.8h0m.6-.8h0m.1 .8h0m.2 .6h0m.4-.9h0m.5 3h0m.2 1.7h0m-.5-2.7h0m.6 1.8h0m.4 3.2h0m.7-.6h0m-.1 .7h0m.5-1.3h0m-.4 3.2h0m.4-2.3h0m-.4 .8h0m.3-1.4h0m1 2.6h0m-.4-1h0m.2 .6h0m.2 2.8h0m.3-.4h0m-.4 1.1h0m0 .7h0m.3 .8h0m.3-.5h0m-.1-.8h0m.6 1h0m-.7-1.1h0m.6 2.7h0m-1-1h0m.2 3.4h0m1-2.3h0m-.7-.2h0m.7 2.3h0m-.5-1.3h0m0 1h0m1.1 1.7h0m-.4 2.1h0m-.3 .6h0m0 0h0m1.1 .5h0m-.7-2.1h0m.7 4.4h0m-.5-1.4h0m.8 .2h0m-.1-1.7h0m-.1 3.1h0m.7 1.4h0m-.7 .2h0m.6-1h0m.9 1.3h0m-1.1-.8h0m-.2 .6h0m0 .8h0m.5 1h0m.9 2h0m-1 .4h0m.7-1.3h0m.5 .7h0m.3-.1h0m-.8 .8h0m.4-1.2h0m.8 1.1h0m-.6 1.5h0m.3 1.9h0m-.1-3h0m-.5 3.8h0m.3 .2h0m-.1 2.2h0m.2-4.5h0m0 3.4h0m.5-.9h0m.8 2.5h0m-.2 1h0m-.2-3.2h0m-.4-.4h0m.4 .8h0m.2-1.2h0m.5-.2h0m.4 .6h0m.3-2.4h0m-.7-.5h0m.3-1.6h0m.2 3.1h0m.1-5.1h0m.2 4.4h0m-.1-3.1h0m.8-1.2h0m.1-2.3h0m-.2 4.6h0m.5-4.1h0m-.9-1.2h0m.4 1.1h0m-.3 .2h0m.2-2.5h0m1.1 2.2h0m0-1.3h0m-1 .9h0m.1-.4h0m1-2h0m-.3-1h0m-.5-2.2h0m1.1 1.2h0m.1 1.6h0m-.8-1.2h0m.1-3.4h0m-.1 .9h0m.2-.9h0m.5 1.8h0m.4-2.8h0m-.6-.5h0m.7 1.3h0m-1-3.1h0m-.1 2h0m.7-1.9h0m.5 .1h0m-.9-.5h0m.8 1.4h0m.5-2.6h0m-1.1-.4h0m.4-.3h0m1-.7h0m.2-2.4h0m-.7 .7h0m.6-1.9h0m-.3 1.7h0m-.3-1.2h0m1 .3h0m.2-.1h0m-1 .1h0m.1-1.8h0m.3 1h0m1-.2h0m.1-3.4h0m.5 .6h0m-.6 2.2h0m.4-3.2h0m-.2 .1h0m.4-.1h0m0 1.2h0m.4-5.4h0m.2 2.1h0m.1-.3h0m0 1.3h0m1.6-3.1h0m.2 .5h0m-.5-1h0m1.2 3h0m.7-2.7h0m-.5-1.1h0m-.3 2.1h0m1.1-3h0m-.7 2.2h0m0-3.2h0m.2 1.1h0m.9 0h0m.1-1.5h0m-.5 1.2h0m.4-2.8h0m-.9 2.2h0m.6-1.9h0m-.5 .5h0m1.3-1.2h0m-1.1-1.5h0m1.3-.6h0m.1 1h0m-.6-2.9h0m-.4 3.4h0m1-3.6h0m.2-.2h0m-1 1.7h0m.7-3.1h0m-.2 .9h0m-.1-1.3h0m1.1 2.9h0m-.6-3h0m-.2 1.3h0m.5 .8h0m.6-.4h0m-1.3 2.8h0m1-2.4h0m-.2 2.5h0m.4 1.3h0m.3 .3h0m-.6 .1h0m-.6-.9h0m.5 3.8h0m.6-2h0m-.5 .5h0m.6 .9h0m-.3 1.5h0m-.6-.5h0m.5 2.1h0m.1-3.5h0m-.1 1.8h0m.7 3.4h0m.1-1.1h0m-.6 .3h0m.3 .8h0m1-2.3h0m-.9 3.3h0m.7 0h0m-.1 0h0m-.2-1h0m1.2 2.8h0m-.8 2.5h0m-.2-2.1h0m.8-1.9h0m.2 5.2h0m-.1-1.3h0m1.1-.8h0m-1 3.7h0m.7-2.2h0m.3 .2h0m-.6 .8h0m-.2-.2h0m1.4 2h0m-1.2-.5h0m.9-.4h0m-.6 .9h0m.2 .4h0m1.2-.2h0m0 .6h0m-1.1 3h0m.4 .4h0m0-.5h0m-.1 2.1h0m0-.1h0m1.3 .2h0m-1.4 0h0m1 .4h0m.1-.8h0m.4 3.2h0m-1.2 0h0m1-.1h0m-.6 1.5h0m1.1 2.1h0m-.3-.1h0m1 0h0m0-1.7h0m.4-.1h0m-.4 2.5h0m.6-.9h0m1.2-.4h0m.3 3.3h0m-.2-3.6h0m1.2-.2h0m0 2.5h0m.8-.7h0m-1.1-1.7h0m1.8 2.4h0m.1 1h0m1.3-2.6h0m-.7 2.1h0m1.6 .2h0m-1-3.7h0m1.2 2.1h0m.1-.3h0m1.6 .8h0m-.7-.4h0m.3 2.5h0m0-3.7h0m.8 3.5h0m.8-.2h0m.2 .2h0m.6-1.1h0m.2 .2h0m-.1 .3h0m.9 2.9h0m.4-1.5h0m.1-1.8h0m.3 3.5h0m.4-2.5h0m.1 1.1h0m1.5 .6h0m.7-.4h0m.7-1.8h0m-1 1.6h0m1.4 .8h0m1 .3h0m-.4-3.4h0m.9 2.5h0m1.3-.2h0m-.3 .6h0m1.2-.9h0m-1 .9h0m1.7-2.2h0m.4 2.1h0m.7-2.1h0m-.6 .7h0m1.7-.5h0m-.1 .3h0m.8-2.6h0m.5 4.2h0m.4-3.7h0m-.5-.7h0m1 1.2h0m-.3 .2h0m0-.3h0m.5-2.3h0m.5-2.9h0m-.2 2.4h0m1.2-.9h0m-.1 .3h0m.8-2.1h0m-.1 3.1h0m.7-2.5h0m1.2 .6h0m-.1-2.6h0m.3 .5h0m1.2-1.4h0m-.2 3.3h0m.2-.7h0m.6-.4h0m.4 1.1h0m.3-.2h0m1.2 2.9h0m-.8-3.1h0m1.8 .1h0m-.9 3h0m.8-1.5h0m.1 .3h0m1.1 0h0m-.3 1.1h0m1.6-.3h0m-.5-.3h0m.3-1.4h0m.1 1h0m1.4 2.3h0m-.3-.3h0m1.2 3h0m-.3-.5h0m1.1-1.2h0m-1.2 .5h0m1.4 2.7h0m0-2h0m.6 .5h0m.6-.5h0m.7 1.9h0m-.1-1.5h0m1.1 2.4h0m-.8 .1h0m.5-.3h0m-.2-2.4h0m1.3 3.4h0m.1-.8h0m.3 1h0m-.2 .1h0m.6-1h0m-.3-1.5h0m.6 2.2h0m-.8-2.1h0m.3-1.3h0m.6 2.8h0m.3-5.2h0m-.3 2.3h0m.9-.9h0m-1.1-1.5h0m.9 .6h0m.2 .8h0m.5-.5h0m-.8-1h0m-.2-2.2h0m1.2-.9h0m0-1.9h0m-.8 2.6h0m.5-3.2h0m-.2 3.1h0m.3-4.2h0m.2 3.2h0m0-.2h0m.9-1.9h0m-.9-.2h0m0 1.4h0m.6-5.5h0m-.1 1.7h0m.5-1.1h0m-.5 .8h0m.7-.8h0m-.2 1.2h0m.3-4.3h0m-.2-.1h0m-.2 1.9h0m1-1.3h0m-.9-1.5h0m.6 1.6h0m.1-1.9h0m-.4 0h0m.1 .4h0m.3 0h0m1.1-.7h0m-.6 1.1h0m.8 2.3h0m-.4-2.9h0m1 1.9h0m.3 1.4h0m-.1-.4h0m.2 2.5h0m.9-1.5h0m-.9-.8h0m.5 .4h0m1.4 2.1h0m.2 .3h0m-.4 .3h0m-.1 .8h0m0-2.2h0m1.1-2.2h0m.6 2.4h0m.1-2.2h0m.2 1.3h0m.5 .8h0m-.1-1.9h0m-.3 .6h0m.3-.9h0m.9-1.1h0m-.2 .3h0m.1-2.4h0m1.3 .8h0m.3 1.5h0m-.8-1.8h0m.5-.6h0m-.6-2.6h0m.3-.1h0m.6 1.2h0m.3 .9h0m.6-3h0m-.1-.8h0m.4 1.7h0m-.6-3.4h0m.3 .2h0m.8 2.1h0m-.1-.1h0m.1-2.1h0m.2-.2h0m1.1 2.3h0m-.2-2.3h0m-.1 .3h0m.6 3h0m-.1-1.8h0m.3-.4h0m.3 2.4h0m-.5 1.5h0m.8-3.1h0m.1 4.6h0m-.4-1.8h0m.3 1.6h0m.1 0h0m-.4-1.4h0m1.1 3h0m-.6-1.3h0m1.2 2.3h0m-1.4-.8h0m.5 1.5h0m0-.5h0m.5-.8h0m-.3 3.9h0m1.9-.4h0m-.1 .7h0m.9-3.2h0m-1.3 3.4h0m1.5 0h0m.5-1.8h0m.7 1.4h0m.4 .9h0m-.2-1.2h0m1-.5h0m.2-1.6h0m0-1.4h0m1.9-.4h0m-1.1 2.3h0m.8-.7h0m.4-.1h0m.3 .5h0m-1.1-2.1h0m.4 .5h0m.4-1.2h0m.1-1.3h0m-.4 .9h0m-.2-1.6h0m-.3-1.9h0m1.4-.9h0m-1.3 3.1h0m.4-3.2h0m-.1 2.5h0m.6-4h0m.3 2.4h0m.5-.4h0m-.2-1.7h0m.1 1.8h0m.2-.9h0m0-4.6h0m-.9 1.3h0m.6-1.7h0m.7 1.8h0m-.9 .9h0m.5-1.4h0m.6-4h0m-1 1.8h0m1.2 2h0m-1-1.6h0m-.3-3h0m1.3 1.2h0m.3-1.1h0m-.7-2.3h0m-.2 .5h0m.6 2.9h0m-.7-2.1h0m.1-3h0m.2 1.1h0m.4 .2h0m.5 1.2h0m-.6-2.4h0m.8-2.1h0m0 1.2h0m0-3h0m-.7 .3h0m-.2 .6h0m.8 .3h0m-.4-2.6h0m1.1 2.5h0m-.3-.5h0m.4-1.2h0m-.4-1.1h0m-.6-1.9h0m.2-1.4h0m.7 2.4h0m-.2-2h0m-.5-1.6h0m.1 1.2h0m.5 .7h0m.4-3.4h0m-.5 2.2h0m.8-1.4h0m.3-1.8h0m-.2 .5h0m-.6-.2h0m1.1-1.4h0m-1.1 1.8h0m.6-2.3h0m.2-.4h0m-.4-.3h0m.1 .6h0m.2 .1h0m0 .4h0m1.3-4.5h0m-.1 .8h0m.4 2h0m-1-3.4h0m.5-.1h0m-.5-.8h0m1.3 1.6h0m-.5-2.5h0m.7-2.5h0m-.4 1h0m.2 2.9h0m-.4-2.5h0m.7-1.5h0m-.8 1.1h0m1.6-3.5h0m-.3 3.6h0m-.3-.1h0m.3-3.2h0m.6-.3h0m-.4 .7h0m-.7 2.1h0m1.1-1.6h0m-.1 3.1h0m.4 .6h0m-.9-1.7h0m.4-.2h0m.9 2.1h0m-1.2 1.4h0m1.4 1h0m-1 .6h0m.1-.8h0m.9-1.5h0m-1.1 3.8h0m.2-3.1h0m0 2.5h0m.3 .4h0m.2-1h0m.5 0h0m-.5 3.8h0m-.4-.9h0m.6-.1h0m.3 .1h0m.7 2.4h0m-.8-.8h0m0-.5h0m1 1.8h0m.2 .7h0m-1.4-1.4h0m1.4 .9h0m-.4 .4h0m0-1.2h0m-.2-1.7h0m1 2.1h0m.3-1.1h0m-.9-.4h0m.4-.4h0m-.1-1.4h0m.4 .2h0m1-.9h0m-.2 .3h0m-.7-.1h0m1.4 1.2h0m-.2-3.9h0m-.4-.3h0m1.1 .6h0m-.8 1.4h0m1-3h0m-.7 1.1h0m1.7-2.6h0m-.8 2.1h0m1.3-2.2h0m-.5 1h0m.1-1.9h0m.8 2.1h0m-.4-.9h0m1-2h0m-.5 1.4h0m.4-1.9h0m-.6 3.8h0m.5-.7h0m.1 .9h0m-.5-1.9h0m.5 3.1h0m.1 1.1h0m-.9 .2h0m.6-.7h0m.8 1.6h0m-.9 .5h0m-.4-.1h0m.9-2.1h0m.4 4.5h0m-1.4-1.4h0m.7 3.1h0m-.6-1.9h0m.6 2.4h0m.6-1.1h0m.2 1.7h0m0-1.8h0m-.3 .1h0m-.3 2.8h0m0-.8h0m.5 .5h0m-.8 0h0m.2 2h0m.3 1.7h0m-.5-2.7h0m-.3 2.9h0m.3-.9h0m-.1 3.5h0m0-1.3h0m1.2-.8h0m-.5-.4h0m.1 2.4h0m-.6 .3h0m1.2 1.2h0m-1.4 .8h0m.1 .2h0m1-.5h0m.2-.8h0m-.4 3.5h0m-.5-1.7h0m0 .3h0m.1 3.8h0m0-1.8h0m.1-1.7h0m.7 2.6h0m-.9 .8h0m.7-1.7h0m0 1.8h0m-.1-.3h0m-.6 2h0m1-1h0m-.4 2h0m-.2 .7h0m-.3 1.2h0m1.2-2h0m-.4 2.7h0m.3-2.8h0m-1 3.1h0m0-1.8h0m.6 2.7h0m-.1 .4h0m-.5 1.3h0m0-.1h0m-.5-.1h0m.7-.9h0m-.8 3.2h0m.9-.5h0m-.4 .7h0m-.8 1h0m.8 2.6h0m-.9-.7h0m.6-.7h0m-.9-.8h0m1.1 2.9h0m-.1-2.7h0m-1.2 3.1h0m.9-1.2h0m-1.2 2.4h0m0-.4h0m.2 .8h0m-.3-.5h0m.9 1.5h0m-.9 0h0m.6-.8h0m-.7-.2h0m-.5 2.8h0m1-.3h0m0-.8h0m0-.5h0m1.3 3h0m-.6-2.1h0m.5 3.4h0m.3 2h0m-.4-.8h0m1-1.9h0m-.3 4h0m1.1-1.4h0m-.9-.2h0m.5 .7h0m.2 .6h0m0 1.2h0m1.1 .3h0m.1-2.4h0m.7-2.1h0m0 3.7h0m-.8-4.7h0m0 4.3h0m.2-2.9h0m.3 1.9h0m-.2-2.5h0m1.2-.3h0m-.5-1.9h0m.3-.5h0m1-1.3h0m-.8 1.1h0m.3-1h0m.8 .1h0m-.8-1.1h0m.9 2.6h0m.2-3.9h0m-1.2-.2h0m1.5 1.6h0m-.1-1.3h0m-.7-1.3h0m.9 .2h0m-.1 .2h0m.1 1.3h0m-.3-4.4h0m.8-1.2h0m.1-.2h0m0 1.2h0m.5 1h0m-.6-2.6h0m.4 .3h0m-.4-.7h0m.6 0h0m-.9-2.7h0m.5 1.3h0m.7-.7h0m-.3 1.6h0m.7-.8h0m.2-1.7h0m-.1-1.5h0m-.8-.1h0m0-2.3h0m0 2.7h0m-.2-3h0m.1-1.4h0m.2 3h0m1.3-2.8h0m-.7 .6h0m0 .3h0m-.3 .8h0m.2 2.7h0m0-3.8h0m.9 2.6h0m0-.1h0m.2 0h0m-.8 .7h0m.8 1.8h0m-.6 1h0m.4-2.4h0m-.5 3.5h0m.5-2.6h0m-1 1.3h0m1 2.5h0m0-.9h0m.2 0h0m-.8 .7h0m.2 3.2h0m.2-.9h0m.6 1.6h0m0-3.3h0m.3 4.8h0m0-2.3h0m.1-.5h0m-.8 4.2h0m0-.7h0m-.3 .3h0m1.1-.9h0m-1.2 1.1h0m1.5 2.7h0m-1.1-2.3h0m0 2.8h0m1-1.2h0m.2-1h0m0 1.2h0m.2 .1h0m.4 1.2h0m.7 .4h0m-.6-.8h0m.6 3.2h0m1.1 .6h0m.3-1.3h0m-.1-.5h0m.4 2.4h0m1.2 .4h0m.7-1.7h0m-.4-1.8h0m1.2 2.8h0m-.2 .3h0m-127.3-1.7h0m-6.2-5.6h0m5 3.7h0m-2.2 5.4h0m2 4.4h0m.1 1.2h0m6.8-4.3h0m-5.1 15.9h0m-4-15.7h0m-1.4 15.3h0m1.2-12.9h0m2.7 .4h0m-1.2 4.7h0m-.7 9h0m4.1-10.5h0m-.1 7.4h0m-1-13.3h0m-1-.3h0m-8.4 11h0m8.7-8.2h0m-.9 6.7h0m2.4-5.2h0m-2.5-6.1h0m-1.3 8.4h0m3.5-6.6h0m-1.7 8h0m-3.2-4.9h0m4.5-4.9h0m-3.2 13.3h0m6.3-2.2h0m-8.9-4.5h0m6.5-9.4h0m-2.5 14.2h0m.6-6.3h0m-4.4-10.8h0m4.5 20.7h0m-5.7-1.3h0m-.2-10.1h0m-.9 15.2h0m-.5-6.4h0m7.2-.1h0m-3.4-21.5h0m3.7 6.4h0m-2.5 8.3h0m6.6-11.6h0m-10.8 12.9h0m11.1-9.7h0m-8.1 20.2h0m1.6-24.5h0m-.7 11h0m3.4 .9h0m4.1 .5h0m-5.9-1.4h0m.6-10.2h0m5.9 18h0m-3.2-6.4h0m3.1 4.3h0m-5.9-5.6h0m5.9 3.3h0m-9.1 2h0m-3.6-14h0m6 12.6h0m5.2 1.7h0m-3.5-12h0m-4.3 .8h0m.3 11h0m1-9.9h0m2.4 19.1h0m111.4-41.1h0m-6.8-6.8h0m2.5-21.8h0m3.4 17.9h0m-3.7-12h0m1 25.5h0m-.3-14.4h0m4.9-15.5h0m-8.4 31.5h0m-2.1-25.5h0m5.7 1.6h0m-8.6 14.5h0m4.3 1.2h0m1.2-5.6h0m-1.7 12.5h0m1.1-22h0m3.1 32.2h0m1.2-31.3h0m-5.2 22.9h0m5.7 3.5h0m-4.6-31.1h0m-4.6 4.8h0m5.8 3.4h0m-.5 18.2h0m2.3-6.9h0m-1 3.5h0m-.9-.6h0m-6-.6h0m4.9 6.1h0m2.8-14.7h0m.4-11.3h0m-4.8 3.5h0m6.2 30.3h0m4.9-3.8h0m-7.2-15.4h0m.4-12.4h0m.2 11.4h0m-3.2 4.4h0m4.3-24h0m.1 18.3h0m-1-16.3h0m-3.2 16.2h0m3.9 1.6h0m.5 5.2h0m-1.9-21.2h0m6.5 29.3h0m.5-6.9h0m-3.9-3.4h0m-4.5-3.7h0m3.6-1.5h0m-1.4 13.1h0m-.8-17.2h0m-.3-13.8h0m-2.7 40.6h0m.3-9.5h0m5.5-13.4h0m3.5 25.8h0m-7-38.1h0m-.2 28.8h0m3-13.5h0m-8.9-2.3h0m4-18.2h0m-4.1 20.8h0m7.6-19.8h0m-1.6 21.7h0m1.9-23.7h0m-2 32.5h0m3.8 1.6h0m-.5 9.8h0m-7.1-25.7h0m-1.9-6h0m6.9 10.9h0m3.8-15.5h0m-9 9.1h0m5.6 8.5h0m-6.5-11.9h0m.1-13.8h0m1.1 21.6h0m6.7-11.3h0m-5.7 18.6h0m3.4-.6h0m.1-24.8h0m3.1 2.7h0m-1.9-7h0m-3.2 31.1h0m3 3.5h0m.9-12.1h0m-1.1-4h0m-3.7-13.9h0m-1.8 22.3h0m8.2-2.2h0m-7.3 4.6h0m4.3 4.3h0m.9-16.9h0m-8 25.4h0m7.9-19.7h0m-8.2 6.1h0m5.8 10.9h0m-5.9-2.3h0m3.1-37h0m3.2 44.5h0m1.6-21.4h0m2.6 13.5h0m3.7-1.8h0m-5.2-33.1h0m-7.9 23.3h0m3.4-1.8h0m.3 4.1h0m.3 10.7h0m4.6-17.7h0m-1.8 21.1h0m-5.6-33.7h0m2.4 5.8h0m.1 9.2h0m3.5-7h0m-7 20.7h0m5.4-13.1h0m-.3 5.2h0m-.3 15.6h0m3.1-26.1h0m0 1.5h0m2.4 9h0m-6.3-17.8h0m7.6 12.7h0m-1.8 20.5h0m-4.3-34h0m7.5 28.3h0m-14.8-1.9h0m5.1-1h0m.1-13.3h0m1.8 5.5h0m-.4-11.4h0m2.5 5.9h0m-6.7-6.8h0m.6 24.1h0m2.8-10.6h0m.8-7.5h0m.6 10h0m-1.2 7h0m1.3-24.8h0m-1.8 8.7h0m3.8 4.1h0m-3.2 1h0m3.2-21.3h0m-4.3 38.7h0m2.4-4.9h0m3.4-19h0m-.7 19.9h0m-2.6-28.7h0m2 5.8h0m-2.9-1.8h0m.1 24.1h0m-1.5-2.2h0m10.9 5.4h0m4.5-8.2h0m-1.7 12.5h0m5.7 15.8h0m.4-15.2h0m2.6 13.6h0m-4.1-16.4h0m-4.7 16.1h0m1.8-22.9h0m-.3-1h0m3.9 20h0m-3.2-14.8h0m2.6 7.3h0m.5 13.3h0m-5.8-3.7h0m9-13.8h0m-11.7-15.5h0m11.4 19.7h0m-3.5-.2h0m3.5 4.8h0m-6.5-.9h0m6.9 1.4h0m-12.4-5.6h0m9.4-11.2h0m-2.4 17.1h0m.2 10.2h0m-9.8-3.8h0m8.6-12.1h0m6.5 4.9h0m-1.9 2h0m-8.1-20.5h0m5.4 24h0m1.5-28.6h0m-4.6 25.2h0m5-9.5h0m-.2-.6h0m-1.9 .6h0m-2.5-1.2h0m2.2 5.6h0m-4 3.5h0m6.2 11.1h0m1.5-28.7h0m.6 8.8h0m-5.2 .9h0m-6.7 2.3h0m10.8-11.1h0m-8.4 9.7h0m9.5-1.8h0m-6.7 .1h0m2.8 8.9h0m-.2 .9h0m2.8-4.6h0m-1.6-11.2h0m-2.6-4.5h0m6.6 22.9h0m-9-3.3h0m2.4-16.3h0m4 .1h0m1.2 11.8h0m-6.6-6.1h0m3.6 5.5h0m.9 16.1h0m-7.5-1.7h0m4.8-6.7h0m1.7-9.2h0m-4.9 1.3h0m-.7 5.4h0m7.2-14.6h0m3.1 20.1h0m-15.6-15.6h0m7.2 5.2h0m3.4 7.6h0m-9.1-8.7h0m.2 18.9h0m1.6-29.1h0m7.9-5.2h0m-4 10.8h0m3.5-8.8h0m-1.5 10.6h0m-7 18.8h0m11.8-5.4h0m-6.2-4.9h0m-2.9-6.8h0m4.5-5.4h0m6.4 3.7h0m-6.3 4.3h0m-7.4-7.8h0m4.8-12.9h0m-6.9 38.4h0m8.4-18.3h0m-4.5-4.2h0m5-7h0m2.5 9.2h0m-2.2-6.8h0m-2.2 8.5h0m3.6-1.7h0m-6.9 6.9h0m4.8 12h0m-4.1-31.6h0m-1.2 5.5h0m4.4-4.1h0m6.3 31.8h0m-65.4-2.7h0m18 3.4h0m17.1-9.4h0m-20.9 .7h0m41.7 14.1h0m0 4.7h0m6.1-3.4h0m0 11.5h0m.7-18.2h0m-.4 9.2h0m0 9.2h0m-1-12.8h0m46.7 31.9h0m5.4-1.8h0m-2.7 14.6h0m1.8-.9h0m-2.7 2.8h0m25.6-32h0m3.6-1.8h0m-1.8 3.6h0m7.3-10h0m-145.1-15.5h0m18.2 2.8h0m16.5-10.1h0m20.1 3.7h0m-104.2 3.6h0m67.6 5.4h0m38.4 5.5h0m0 2.7h0m-117.9-6.4h0m-143.3 103.3h0m0-6.4h0m9.1 27.4h0m30.2-20.1h0m0-3.6h0m.9-14.6h0" fill="none" stroke="#0000ff" stroke-width="5.0" stroke-linecap="round" />
<path d="M157.6 559.2h0m1.9 0h0m-.3-1h0m.9 1.1h0m0-.7h0m1.5-1.8h0m.1 1.2h0m.2-1.6h0m1.1-1h0m.2 .5h0m1-1h0m.3-.2h0m.3 0h0m1.3 .3h0m.5-1.8h0m-.7-.6h0m1.5 1.4h0m.5-2.3h0m.2 .5h0m-.2 .8h0m1.2-2.3h0m.2 .4h0m1.5-.5h0m.3-1.2h0m1.1 .1h0m-.3 .9h0m.9-1.1h0m.9-.8h0m1.1 .3h0m.2 1h0m.5-2h0m.9 .7h0m.5 .5h0m.9-1.4h0m.4 .6h0m.8-1.5h0m0-.1h0m1.5-1.1h0m-.6 .8h0m1.2-.9h0m0-1.7h0m.4-.4h0m.6 .9h0m.5-.9h0m1.1-.5h0m-.2-.6h0m.6 .4h0m.6 1.8h0m1.1-1h0m.3 1.6h0m.2-1.3h0m1 1.6h0m.5 .9h0m.3-.2h0m.1 0h0m.7 .7h0m1.4-.7h0m-.4 .6h0m1.5-1.1h0m1.1 .5h0m-.3-.8h0m.8 1h0m.5-.4h0m.7-.2h0m.6-1.3h0m.2 .9h0m1.3-.3h0m.3-.7h0m.7 0h0m.7-1.7h0m.4 1.1h0m1.1-.8h0m0-.6h0m.6 1.1h0m1.6 1.1h0m.6-1.3h0m-.5 1.7h0m1.2 .7h0m.8-1.7h0m.4 .1h0m.8 1.9h0m.6-1.3h0m1.3 1.3h0m.1-.7h0m.8 0h0m.6-.6h0m1.2 .9h0m-.6-2.1h0m1 .9h0m.5-.8h0m1.4 1h0m.7-.8h0m1-.2h0m.7 1.5h0m.2-1.8h0m.9 1h0m.7-.5h0m.8-.4h0m.2 .5h0m1.2-.3h0m.9 .2h0m.3 1.5h0m1.3 0h0m0 .5h0m.2-.6h0m1-.5h0m.7 1.1h0m.2 .3h0m1.9-1.5h0m.1 .3h0m-.3 .1h0m1.3 .1h0m-.2 .4h0m1.8-1.4h0m-.1-1.7h0m.2 0h0m.5 .4h0m-.3-.8h0m1.4-.7h0m-.5-1h0m.8 .3h0m.3-2.4h0m.5 1.1h0m-.3-.3h0m.5-.7h0m.5-1.4h0m0-1.6h0m.5-1.1h0m.2 .8h0m1.3-1.8h0m.2 .9h0m-.2-.3h0m.9-.9h0m0-.1h0m-.4-.6h0m1.2-.1h0m.7 .4h0m.5-.1h0m.4-1.4h0m.3 .2h0m.8 1.4h0m1.2 .9h0m1.2-.1h0m-.8-.2h0m2-1h0m.4 2.3h0m.5-.7h0m.2-.7h0m1.3 0h0m.6 .5h0m1 .9h0m1.4-1.8h0m-.2 .1h0m.4 1.4h0m.8-1.2h0m.3 1.8h0m1.2-.7h0m1.2-.1h0m.4-1.4h0m.2 .6h0m1.4 .6h0m-.3 0h0m.9 .3h0m1.3-1.3h0m-.1-.4h0m.8 0h0m.4 .3h0m-.2-1.7h0m1.4 .4h0m-.1 .1h0m1.3-1.3h0m.1 .4h0m.5-2.5h0m.5 1.5h0m.2-.8h0m1.2-1.9h0m-.2-.1h0m1.4-.4h0m-.2 .1h0m.4-1.9h0m-.7 0h0m.5-1.7h0m.6-.1h0m-.4-1.4h0m.4 .5h0m-.4-.1h0m-.1-2.4h0m.5 .8h0m.2-1.3h0m0-1.2h0m.5 .6h0m-.2-.2h0m0-.9h0m-.1-.2h0m.5 .9h0m1 1.2h0m.2 1.1h0m.2-.7h0m.8 1.3h0m-.3 .7h0m-.2-.6h0m.6 2.7h0m0 0h0m1.3-.3h0m.2 1.6h0m.6 .6h0m.3 .4h0m.4-.4h0m-.3 .2h0m1.4 .7h0m.4 .2h0m.3-.3h0m1.5 1.3h0m.3-1.3h0m.9-.4h0m0 1.7h0m1.3-1.4h0m.1 .4h0m.5-1.2h0m1.2 .2h0m.5 2.8h0m.2-.2h0m.4-.6h0m.8 2.2h0m0-.5h0m.8 .3h0m-.1 1.2h0m.6-.7h0m.5 1.3h0m1 1.9h0m.2-.5h0m1.3-.3h0m-.2 1.1h0m-.4-.2h0m1.1 1.2h0m0 .2h0m.9 2.1h0m0-.8h0m.6 .4h0m.1 1.8h0m.6 1.2h0m.1 .7h0m1.3 .5h0m-.5 .3h0m.3 .6h0m.6 0h0m.4 1h0m-.8-.3h0m1.4 .9h0m.2 1.6h0m.1-1.5h0m.1 1.7h0m1.7 1.1h0m.6 1h0m.2-1.7h0m.1 .7h0m1 1.8h0m.2 .2h0m.7 1h0m.2 .6h0m1 .1h0m0 .4h0m.1 1.3h0m.9-.7h0m1.2 1.7h0m-.1-.8h0m-.8 1h0m1.7-.8h0m.1 .8h0m1.4 1.1h0m.3-.1h0m.2 0h0m.8-.4h0m.5 1.2h0m1.5 .3h0m.3 .2h0m.8-1.4h0m.1-.1h0m1.6 .9h0m.2-1.2h0m.8-.4h0m.4 0h0m1 1h0m-.1-1.3h0m.5 .2h0m.9 .5h0m-.5-1h0m.3-.4h0m1.4-1.1h0m-.2-.4h0m-.3-1.9h0m1.2-.1h0m-.2-1h0m.9-.8h0m-.3 .8h0m-.5-2.4h0m1 .1h0m.4 0h0m-.6-1.6h0m.1-1.2h0m1.3-.9h0m.3 1.1h0m-.4-.1h0m.9-2.6h0m.4 .8h0m.4-.5h0m-.5-1.2h0m1 0h0m.1-.8h0m1.2-.9h0m.4-1.8h0m.1-.6h0m.6 .7h0m.1-.5h0m.1-1.8h0m.6 .9h0m.1-1.4h0m.3-.7h0m.4 .1h0m.2-.7h0m.9-1.8h0m-1 .3h0m1.3-1.4h0m0-.6h0m1.1 .9h0m.6-2.5h0m-1.1 1.1h0m.6-1.7h0m.1-1.5h0m0-.3h0m.9 .9h0m.4-.9h0m.5-.3h0m.2-1.6h0m.4-1.6h0m.5 0h0m.3 .2h0m.4-.8h0m.8-1.1h0m.7 0h0m.4-1.3h0m-.9 1.3h0m1.9-.1h0m.3-.7h0m.4-2.2h0m1.1 1.1h0m0-1h0m0-.1h0m.9-.1h0m.7-1.1h0m.5-2h0m.5 .3h0m.4-.8h0m1.2 .2h0m.2 .3h0m1.4 .4h0m-.4-2h0m1.3 1.5h0m.8-.5h0m.3-.2h0m.4-1.2h0m.1-1h0m1.1 .8h0m-.1-1.7h0m.7-1h0m1.1 1h0m-.4 .8h0m1-.1h0m-.4 0h0m1 1.3h0m-.4-1.4h0m1.1 1.1h0m.9-1.5h0m.9-.7h0m.5 1.3h0m.7-.7h0m.6-.9h0m.2-1.1h0m1.6 1.9h0m.3-1.3h0m.2-1h0m1.5 1.5h0m-.1-1.3h0m.4 .7h0m-.1-.3h0m1.9-1.3h0m.8-1h0m.6 1.3h0m.3-.4h0m1.2-1.4h0m.5 .8h0m.6-.8h0m.2 .1h0m1-.7h0m.7 .1h0m.6 .4h0m.8-1.8h0m.1-.1h0m1.5 1.5h0m-.7-1.6h0m2.1 1.5h0m-.3-1.7h0m.7 .9h0m1.1-.4h0m-.3-.9h0m2.2 .5h0m.3 0h0m.4 .7h0m1.5 .4h0m1-2h0m-1 1.1h0m1.6-.5h0m.8-.5h0m1.1 2.1h0m.2-1.8h0m.8 0h0m.5 0h0m.4 .5h0m1.7-.3h0m.5 .1h0m.5 1.1h0m.9-.5h0m-.1-.4h0m1.2 1h0m.5 .3h0m.4-.2h0m1-.9h0m.8-.8h0m.3 .7h0m.4-1.8h0m1.2 0h0m.6 1.4h0m.4-1h0m.3 .3h0m.6-1.4h0m.8-1.4h0m-.1 .1h0m1.1-1h0m0-.8h0m0 .3h0m1.3-.8h0m-1.2 .5h0m.7-1.7h0m1.2-.3h0m.5-.3h0m-.3-2.4h0m.5 .9h0m.1 .4h0m1.3 .8h0m-.2 1.9h0m.3 .5h0m.9-.5h0m.3 1.5h0m.6-.3h0m-.4 .6h0m1.1 .9h0m.7 .1h0m1 .6h0m-.9 1.2h0m1.8 .2h0m0-1.1h0m.3 .7h0m1.2-1.8h0m-.3-.5h0m.5 .8h0m.8-1.1h0m.4-1.5h0m-.1-.6h0m1.1 .2h0m.8-.6h0m-.3-.2h0m.9-.3h0m.2-.5h0m.7-.8h0m1-1.1h0m.6 .9h0m.9 .3h0m.6 .2h0m.5-.6h0m.7-.1h0m133.9-28.4h0m1.3-2h0m-.3 .2h0m1.2 3.1h0m-1.1-.3h0m1.1-.2h0m.4-2.6h0m0 3h0m-.2-5.3h0m-.4 3.2h0m1-2.3h0m-.1 1.6h0m-.4-.9h0m1.1-.8h0m.2-.9h0m-.2-.4h0m.3 .1h0m-.7 .2h0m-.3 5.1h0m1.5-5.2h0m-.6 3.8h0m-.7 .7h0m.7-1.3h0m.2 .7h0m.1 .7h0m-.7 .8h0m.2-.1h0m.8 1.4h0m-.6 .6h0m.8-3.5h0m-.4 2.4h0m.1 .9h0m.1 .4h0m.4-.9h0m-1 1.4h0m.5-.7h0m-.1 2.7h0m.5-1.2h0m-.1-.7h0m-.9 2.7h0m.7 .2h0m.4-1.1h0m.2-1.2h0m-.8 4.1h0m-.4-.5h0m1-1.8h0m-.8 .1h0m.5 2h0m-.3-.4h0m.4-.8h0m.6 3.6h0m-1.1-1.3h0m1 1.8h0m.1-1.6h0m.3 1.2h0m.2 .9h0m.7-.3h0m1.1-.1h0m.3 1.6h0m-.3 1.1h0m1.4-1.1h0m.7 .7h0m.2-.3h0m.1 .5h0m.2 1.9h0m1.2-1.9h0m.3 .5h0m1.3-.6h0m.9-.6h0m.7 .5h0m.4 1h0m.5-1.5h0m.4 1h0m1.7-1.3h0m.1 1.4h0m1.4-1.9h0m-.2 1h0m1.9-.5h0m.1 .3h0m-.2-1.1h0m1.8 1.8h0m.1 .7h0m.3-.6h0m.6 .8h0m.7-.6h0m.4 .5h0m.9 1h0m.8 .8h0m.6-.6h0m.3 .4h0m.7 0h0m.4 .2h0m.4 .4h0m.3 1.9h0m1.3 .5h0m-.1 1.4h0m.6 0h0m.1-.1h0m.7 .4h0m.5 1.9h0m.4-1.2h0m.9 1.7h0m-.3 1.1h0m.8-.4h0m.4 .7h0m1.4-.6h0m.2-1.7h0m.3 0h0m.5 0h0m1.2 .6h0m-.6-.2h0m1.3 1.8h0m0 .2h0m-.1 .4h0m.2-.1h0m0 1.9h0m.4-.3h0m.1 1.1h0m-.2 1.2h0m.5 .6h0m.6-1.3h0m.1 1.5h0m-.3-.2h0m0 2.3h0m.9 .4h0m-.4 1.1h0m-.4 1h0m1-.6h0m.4-.1h0m.8 1.3h0m-.8 .7h0m-.5 1.2h0m.4 1.3h0m.5 .2h0m-.1 1.2h0m1.2-1h0m-1 1.1h0m-.2 .9h0m.8 .1h0m.8 .7h0m-.5 2.6h0m.8-1h0m-.4 .4h0m.3 .9h0m.8 .7h0m-.1 2.1h0m1.1-.6h0m-2 2.5h0m.1 .3h0m.9 .6h0m-.2 .6h0m1.1 1.1h0m-.2-1.4h0m-.2 1.1h0m.2 2.2h0m.2-.8h0m.1 2.4h0m.3 .6h0m-.1 .3h0m.1-.3h0m0 1.1h0m.9 .9h0m.1-.7h0m-.4 2.7h0m.5-.4h0m.4 .2h0m-.2 1.3h0m0 1h0m-.3 .2h0m.6-.3h0m.6 1.2h0m.2 .4h0m-.2 .6h0m.4 2.2h0m.5 .7h0m-.6-.9h0m.3 2.4h0m.3-.4h0m-.2 .1h0m.8 2.2h0m-.5 .4h0m.3 .2h0m.3 1.1h0m0-.1h0m1.3 2.4h0m-1.2-1.5h0m.8 2h0m.2-.4h0m.2 .2h0m1 .3h0m.7 2.2h0m.5-1h0m.8-.6h0m-.1 1.5h0m1.2-.9h0m.6 .7h0m.6-2h0m.4 1.2h0m1.3-1.3h0m1 1.8h0m.7-.6h0m0 .2h0m-.1-1.9h0m.2-.4h0m1-.3h0m.6-2.2h0m-1.2-.4h0m1.2-.1h0m0-1.8h0m0 1.3h0m.1-1.6h0m-.5 .2h0m.1-1.1h0m.2-2.1h0m.9-.6h0m-.3 .2h0m.8 .2h0m-.7-.4h0m1.1-1h0m-.2-.6h0m-.2-.8h0m.6-1.6h0m-.3 .4h0m.7-2.7h0m-.1 .8h0m.5-1.4h0m-1.1-.9h0m.8-1.3h0m1.2 1.1h0m-1.4-2.1h0m.5 .6h0m-.7-1.5h0m1.5 0h0m.3-.6h0m-.8-1.2h0m.9-.1h0m.1-1.2h0m.3-.4h0m-.6-1.7h0m1.4 .2h0m-.2-1.8h0m-.6 1.1h0m1-2.5h0m.5-.8h0m-.4 .8h0m-.3 .1h0m1.7-2.8h0m-.7 1.3h0m1-2.1h0m-.5-.6h0m1-.2h0m-.5-1.3h0m0 0h0m1.1-.1h0m-1.1-.6h0m1-2.3h0m.4 .1h0m.6 .7h0m1.2-1.1h0m-1.5-1h0m.3-.2h0m.5-1.3h0m1.1 .5h0m.2-1.1h0m.3-.5h0m.6 .3h0m.5-2.7h0m.5 .5h0m.1 .5h0m1.3-.8h0m.3 .2h0m.8-1.8h0m.5-.2h0m0 .8h0m1.1-.9h0m1.5 1h0m.8-.3h0m-.5-.7h0m-.1-2.1h0m.9 .4h0m0-.9h0m0-.2h0m.9-1.9h0m.5 1h0m.6-.9h0m-.2-.5h0m-1.1-1.9h0m1.1-1.3h0m.1-.7h0m.2 1h0m0-.6h0m0-1.2h0m.4-.7h0m-.7-.7h0m.4 .2h0m-.1-.1h0m.7-1.8h0m0-1.2h0m-.2-.2h0m-.6-.2h0m.5-2.2h0m-.5 2.2h0m.1-3.4h0m1.1 3h0m-.3-3.7h0m.3 1.9h0m-.4-.6h0m.5 0h0m.9-1.6h0m-.2 1.2h0m-.3-1.4h0m1.1 .3h0m-.5 1.1h0m.7-2h0m-.5 1.3h0m.5-.8h0m.7 .4h0m.1-2.6h0m.1-.6h0m-.3-.2h0m.9 .9h0m.2 .4h0m.1-.8h0m-.3 .2h0m1.6-.5h0m-1.1-.3h0m.7 .6h0m.8-.7h0m-.9-1.8h0m.1 2h0m.7 .7h0m-.6-.2h0m.1 .9h0m.3 .4h0m.1 .2h0m.6 1.7h0m-.6-.1h0m0 .3h0m1 .7h0m-.4 1.2h0m.2 1.6h0m-.4-.5h0m.2 .2h0m.4 1.5h0m-.5-1h0m.8 .8h0m0 1.9h0m-.1-.4h0m-.2 1.9h0m.5 .3h0m.1 .5h0m0 .4h0m-.4 .9h0m1.5 1.9h0m-.2 .5h0m.5-1.7h0m.7 2.5h0m.4-1h0m.5 1.3h0m.9 .4h0m.9-.3h0m.3-.3h0m.6-2.3h0m.8-.3h0m.7-.4h0m.8 1.4h0m-.2-.3h0m.9-1.8h0m.5 .1h0m1.1 1.3h0m.5-.9h0m.3 .9h0m1.4 1.6h0m.6-.7h0m-.1-.2h0m.5 1.5h0m.9 .5h0m1.1-.4h0m.2 1.7h0m.6-2h0m.6 .2h0m1.1 1.2h0m.7 .2h0m1.2-.9h0m-.3 1.9h0m.9-.6h0m-.5 1.5h0m1.6 .2h0m0-.2h0m1-.7h0m.7 1.7h0m.6-1.3h0m.6 1.6h0m.3 0h0m.8 1.8h0m.8-1.7h0m-.8 .4h0m1.7 .4h0m.5 1.3h0m.6-.6h0m.5 1.6h0m.6 .2h0m.8 1.3h0m.3-1h0m.9 .2h0m.2 1.2h0m.9 0h0m.4 .8h0m.3 1.1h0m.6-1.8h0m1.2 1h0m.8-1.3h0m.5 1.2h0m-.5 .1h0m1.9-.5h0m1 0h0m-.6 .4h0m2.6 1.2h0m.1-.2h0m-.3-2h0m1.8 .3h0m-.7 1.3h0m.8-.4h0m1.5-.8h0m.7 .7h0m1.1 .4h0m0 .3h0m1.8-.9h0m.2 2.4h0m0-.3h0m1.5 0h0m-.5 .1h0m2.2-.5h0m-.5 1.6h0m1.3-.9h0m.2-.6h0m.3 .7h0m1.6 .9h0m.3-1.7h0m.6 .2h0m.5 1.2h0m.3 .6h0m1.6-1h0m.4-.1h0m0 .1h0m1.3 1.1h0m.4-.2h0m0-2.3h0m.6-.7h0m-.1-.5h0m1.5-.4h0m-.1-.1h0m.4-.5h0m-.1-.9h0m.3-.9h0m.9 1h0m.5-1.3h0m1-.2h0m.3-.1h0m1.3-.2h0m.6 .7h0m.4 .7h0m.5-.6h0m.3 1.5h0m.8 .5h0m.8-1.1h0m.5 .1h0m.7 1h0m1 1h0m-.8 .8h0m2-.7h0m-1 .5h0m.4 2.1h0m.5-.6h0m-.3 .7h0m.8 .1h0m.5 2.2h0m-.1-.5h0m1.3 .3h0m.2-.2h0m1 1.2h0m.6-.6h0m1.6 .6h0m.4-.3h0m.1-.6h0m-.2-.5h0m1.4 .7h0m.4 .7h0m2 .9h0m.1-1.5h0m.1 .7h0m.7-.6h0m.8 1.4h0m.3-.7h0m1.8 1h0m1 .7h0m0-.1h0m.7-.3h0m.1-.7h0m.2-1.3h0m1.2 .5h0m0-1.9h0m.9-.6h0m.5-.1h0m.5 .5h0m.3-.7h0m.9 .8h0m.9 1.7h0m-.3 .2h0m.8-.7h0m0 .8h0m.7 1.4h0m.3-.1h0m.9 1h0m-.2-1.7h0m-.1-.3h0m1.3 0h0m-.2-1h0m.6-1.2h0m-.2-.5h0m.9 .6h0m.1-2.2h0m.2 1h0m1.1-.5h0m-1-1h0m.4-2h0m.9 1.2h0m1-1.2h0m.2-.5h0m.5-.7h0m.4 .6h0m-.6-.2h0m1 2.5h0m-.6-1.3h0m.5 .8h0m.4 2.1h0m.3-.9h0m1.1 2.4h0m-.8 .7h0m.2-1.2h0m.6 2.1h0m-.1 1.2h0m1.1-.9h0m.5 .2h0m-.6 2.3h0m0-1h0m.7 1.2h0m-.3-1.1h0m1.3-.8h0m-.4 .3h0m.7 .4h0m1-2.3h0m.2 1h0m.6-.7h0m-.4-1.8h0m1-1.2h0m.3 .3h0m.1 0h0m.6-.7h0m.2-1.9h0m.1 1.2h0m.5 .8h0m.9 .2h0m-.6 .6h0m.6-.5h0m-.1 1.3h0m1 1.6h0m.1-.8h0m-.2 1.9h0m1.2-.7h0m-.3 1.3h0m0 .3h0m1 .8h0m-.4 .6h0m1.1 .1h0m.2 1.5h0m-.6 1h0m1.5-.4h0m-.1 1.6h0m.4-.1h0m.4-.5h0m.8 2.1h0m.3-.1h0m-.2 .6h0m.1 .5h0m1.3 1.4h0m-.3 .2h0m.7 .8h0m.2-.6h0m-.4 1.2h0m2.1-.4h0m.4 .3h0m.5 .4h0m.4 1.2h0m1.3-1.3h0m.6 2.2h0m.3 0h0m.7-.1h0m.5 .3h0m1-.4h0m.6-.7h0m.5 .3h0m.8 1.7h0m.8 .2h0m1.3-1.6h0m-.1 .1h0m.4 .6h0m1.3-.1h0m1.1 .8h0m-.4 .2h0m1.3-1.6h0m.4 .7h0m.5 .8h0m1.4-.4h0m-.2 1.1h0m1.4-1.3h0m.8 1h0m.9-.2h0m.4 .7h0m.4 .2h0m.7-.9h0m.4 .2h0m.4-2.4h0m1.5-.6h0m0 .3h0m-.2-.5h0m1.3 .3h0m.4-1.9h0m.9 1.8h0m.1-2.2h0m.8-.8h0m.4 .5h0m.8 .3h0m-.2-.6h0m1.1-.4h0m-.3 .3h0m1.2 1.3h0m.7 .7h0m-.5-1.6h0m.9 2.3h0m.2-.6h0m-.9 1.3h0m2.1 .8h0m-1.2-.4h0m1.2 1.3h0m.7 .4h0m-.3 1h0m.6 .7h0m.3 .7h0m.1 .3h0m1.2-.7h0m0-.4h0m.4 .5h0m-.1-2.8h0m.8 1.5h0m-.3-1.2h0m1.6-.5h0m-.2-2.3h0m1.1 .4h0m0-1.5h0m.1-.2h0m.6-1.1h0m.1 1h0m.2-1.8h0m.7-.9h0m-.6 1.4h0m.2 .2h0m-.1 1.9h0m1.9-1.3h0m0 2.1h0m-.5 .4h0m.9-.2h0m.4 .5h0m-.3 2.7h0m-.1-1.4h0m-.1 1h0m1.1 1.7h0m.2 1.1h0m.2 .8h0m0-.3h0m-.4 1.7h0m.9-1.1h0m.5 0h0m.3 .6h0m.7 .7h0m.1 2.3h0m.3-.7h0m1.3 2h0m.1 0h0m.4 1.2h0m.7-.7h0m-.4 2.1h0m.3 .3h0m.8-.2h0m.1 .8h0m.1 .8h0m1 .2h0m.2-.4h0m.6 .7h0m.9 1.8h0m0 .9h0m.8-1.4h0m.2 2.6h0m.6-.7h0m.2 1.7h0m.4 .5h0m.9-.6h0m-.1 1h0m1.4-.2h0m.7-.5h0m-.3 2.3h0m.8-1.7h0m1 2.2h0m-.2 .2h0m1.3 .7h0m-.3 .7h0m1.4 .4h0m0 .1h0m0 1.5h0m-.7 .2h0m1.2-.1h0m-.9 .5h0m.5 2h0m-.1 .3h0m.4-.5h0m-.4 .5h0m.7 1.3h0m-.3 .9h0m-.2 .5h0m1.6 .5h0m-1.1 .5h0m.3 2.1h0m.2-.2h0m.4 1.5h0m.7-.5h0m.3 .8h0m1.1 .5h0m.1-.1h0m.1 .5h0m.2-.9h0m1.3 1.4h0m1.1 .8h0m1.2-.8h0m-.2 .7h0m.8-1h0m1 .1h0m1.7 2.3h0m-.6-1.6h0m1.4 1.6h0m.2 .2h0m.1-1.8h0m.7 .3h0m.2-1.1h0m.3-.6h0m.2 .2h0m.2-1.4h0m1-1.3h0m.3 .1h0m-.3 .6h0m.2-1.9h0m1 .3h0m.2-.6h0m-.3-1.9h0m1 .5h0m-.3-1.4h0m-.1-.2h0m1-2.2h0m-.8 .3h0m.5-1.6h0m-.2-.3h0m.1-.4h0m0 .3h0m.1-2.5h0m.2 1h0m-1.3-.5h0m.9-1.5h0m.6 .3h0m.2-1.8h0m-.7 .1h0m-.5-2.6h0m.3 .8h0m.8-.8h0m-.3-1.4h0m0-1.4h0m.5 .5h0m.1-1.1h0m-.1-1.1h0m1.3 0h0m.2-.4h0m.7-1h0m.8 .2h0m.3-.1h0m.9 .2h0m.1 1.2h0m.8-.1h0m.8 2h0m-.8-.3h0m.9-.4h0m.8 2.2h0m-.5-1.1h0m1 .8h0m.7-.2h0m.6 1.9h0m1.1-1.9h0m.3 1.3h0m1.6-.6h0m-.3-.1h0m.7 .3h0m.8 .3h0m1.1 0h0m-.4 1.5h0m1.1-.4h0m1 .7h0m-.2 1h0m.3-.2h0m1.5 1.7h0m-.1-.9h0m.1 1.9h0m.1-.5h0m1.8 2h0m.1-.1h0m.4-1.5h0m1.8 .6h0m-.3 .5h0m.6-.6h0m.3 .5h0m.9-.1h0m.1 1.8h0m1.8 .1h0m.2 .2h0m.7-1.5h0m.6 .5h0m.6-.6h0m1.2 .6h0m.4 .7h0m1.2-.5h0m.4-.1h0m.8-.6h0m.8-.6h0m.1 .6h0m1.9 .6h0m-.7 .5h0m1-1.1h0m.9 1.1h0m.7-.8h0m.8 .6h0m.3-.9h0m.3-.8h0m.9 .3h0m1.3 1.5h0m.7 .7h0m0-1.3h0m1.4 1.1h0m.4-.4h0m.3 1.6h0m1-.4h0m.5 .8h0m.3 .1h0m1.1-.6h0m.7 1.4h0m.6 .5h0m.4-.4h0m.7 .3h0m.1 0h0m.9-.2h0m.4 1.6h0m1.4-1.5h0m.4 1h0m1.1 .8h0m.1-1.8h0m.8-.1h0m.2 .3h0m1.7 .2h0m.1 1.1h0m1.5 .8h0m.2-1h0m-.3 .8h0m1.1 .1h0m1.3-.6h0m.9 1h0m-.2-1.4h0m1.4 2.3h0m1.3-1.9h0m0 1h0m.4-.6h0m1.5 2.2h0m-.3-.1h0m1 .2h0m1 .3h0m.8 .1h0m.6 .2h0m.6-.9h0m.7 0h0m.2-.2h0m1 1h0m.7 .4h0m1.4-.7h0m.4 .5h0m0-.3h0m.9 1.4h0m.4-1.2h0m.9 .8h0m1.3 .6h0m.5-1.3h0m.4 2.1h0m.3-.2h0m-504.2-56h0m.7 .1h0m.1-2.5h0m-.9-1.3h0m1.1 1.6h0m-.9 1.4h0m1.3-1.6h0m-.4-.5h0m.2-.4h0m0-.4h0m.2-.9h0m-.4-2.3h0m1.1 .7h0m-1.5 .2h0m1.7-3.3h0m-.6 3.8h0m-.7-4h0m.9 3h0m-.4-.2h0m.8-.2h0m.2-3.3h0m.3-1.4h0m-.6-.3h0m-.5 1.3h0m.5 .3h0m-.3-1.7h0m.3-.6h0m1.1-.2h0m-.4 .1h0m-.5-1.4h0m1-2.8h0m-.1 3.8h0m-.1-2.3h0m-.4 1.5h0m.6-1.8h0m.4-.1h0m-.7-4.7h0m-.3 3.6h0m0-2.2h0m.6 2.8h0m-.3-2.6h0m1.3-3.4h0m-.6 .5h0m.3-.9h0m.3-.5h0m-.9-.7h0m1 2h0m-.8-3.2h0m.4-.9h0m-.7 1.8h0m.7 1.2h0m-.1-2.4h0m1.3 1.5h0m-1.3-1.7h0m.6-1h0m.9-2.6h0m-1.4 1.5h0m1.2-1.8h0m.2 1.3h0m-.8-3.1h0m1 2h0m0-2.6h0m-1 1h0m.6 1.7h0m-.2-2.8h0m.3-1.2h0m-.5 .6h0m1.2 1.5h0m29.4-56.2h0m-.6 3.5h0m.2-2.8h0m0 1.1h0m.9-2.6h0m-.4 1.8h0m-.2-2.3h0m.6-.4h0m-.8-.4h0m.2 .3h0m.5-.1h0m.4-1.5h0m.1-.3h0m-.8 1.5h0m.1-4.6h0m1.1 1.3h0m-.9-.7h0m-.2-.8h0m.5 0h0m0-2.1h0m.1-1h0m-.3 2.7h0m1.2-3.7h0m-.9 4h0m.2-3h0m0-.9h0m-.1 1.8h0m.5-.6h0m0-3.1h0m-.2-1.1h0m.3-1h0m0 2.5h0m.4-3.6h0m.6 3.4h0m-.1-.7h0m0-1.9h0m0 .1h0m-.4-.9h0m.1-1.6h0m-.1 .6h0m.1-1h0m.7 .7h0m-.4-.6h0m.4-1.6h0m0-2.2h0m-.2 1.6h0m1.1-2.5h0m-.3 1.7h0m-.1 1.1h0m-.2-1.9h0m.3 0h0m.3-.2h0m.8-1.2h0m-1.2-1.4h0m.9-.6h0m-.1 .3h0m.5-1h0m.4-.9h0m-.9-.8h0m.3-.5h0m-.1 1h0m0-.2h0m.7 .7h0m-.4-.7h0m.3-3.7h0m.9 .8h0m-.7-2.4h0m.5 2.2h0m.8-1.2h0m-.3 1.3h0m.2-3.3h0m-.4 1.3h0m.5-1.2h0m.2 0h0m.1-.9h0m.2-.1h0m.8-1.9h0m-.2 2.2h0m.2-2.1h0m.1-2.1h0m.5 3.2h0m-.4-2.5h0m.7 .2h0m.6-1h0m0 .2h0m-.6-2.9h0m.6 3h0m.3-1.9h0m.4 .4h0m.1 1.3h0m-.9 0h0m-.1-.2h0m.6 1.6h0m0 0h0m.5 1h0m-.2 .1h0m-.2-.7h0m.3 1.6h0m.1 1h0m-.6 1.3h0m.8-1h0m.1-.6h0m-.3 3.4h0m.2-3h0m.7 1.8h0m-.5 1.2h0m.7 2.5h0m-.5-3.7h0m-.5 2.1h0m0 1.4h0m1.3 .5h0m-1.2 1.9h0m1.1 .1h0m.1 1.2h0m-1-1.9h0m1 2.4h0m-.8-1.6h0m.3 3h0m-.1-.8h0m.5 0h0m.1-1.5h0m-.6 .6h0m.4 2.6h0m.4 0h0m.1 1h0m-.3-.4h0m-.2 2.6h0m.8-1.7h0m0 2.4h0m.1-1.1h0m-.8 2.4h0m-.1 .9h0m.2-.8h0m.7 1.5h0m.3-.7h0m0 1.8h0m0-.7h0m.4 1.1h0m-1.2-.6h0m.2 .3h0m.9 1.9h0m-.1-1.3h0m-.8 1.4h0m.8 .3h0m-.4-.2h0m.3 1.7h0m-.5-.2h0m.5 .5h0m.6-.8h0m-.1 3.1h0m-.5-1.9h0m-.4 1.2h0m.6-.7h0m-.5 1.8h0m.2 2.1h0m.3-.9h0m.6-.7h0m-.5 1.7h0m-.2 1.2h0m0 .8h0m.6 0h0m-.9-.1h0m.2-.4h0m.3 2.8h0m.1-1h0m-.5 2.1h0m.4-1.2h0m.1-.1h0m.1 2.7h0m-.2-2.1h0m-.2 1.7h0m.1 0h0m.9-.3h0m-.6 3.7h0m1.1-2.7h0m-.1 3.9h0m.9-1.2h0m-.7 1.7h0m-.1-.9h0m.2-1.9h0m1.2 4.3h0m.2-3.1h0m-.5 3.6h0m.2-3.1h0m.1 2.3h0m.5 1.8h0m.4-1.2h0m-.3 1.9h0m.4 .1h0m-.5 2.3h0m1-2.5h0m-.4 3.3h0m-.2-1h0m.7-1.5h0m-.5 .8h0m1 1.6h0m-.8-.1h0m.2 1h0m-.1 .6h0m0 .5h0m.5 .9h0m.5-1.8h0m.2 2.2h0m-.2 1.6h0m-.1-1.4h0m-.2 1.2h0m.6 .9h0m-.1 1.9h0m.5 1.5h0m.5-2.5h0m.1 2.6h0m-1.1-.6h0m1.4 .1h0m-.3 .5h0m-.5-.1h0m-.1 1.2h0m.8 2.7h0m.1-1.9h0m-.8 .8h0m.6 2.3h0m-.4-2.4h0m-.2 1.1h0m.8 3.3h0m.1-1.9h0m0-.5h0m-.6 .4h0m1 3.3h0m-.5-.9h0m.6 .6h0m-.9-.5h0m.2 3.4h0m-.2-1.4h0m1 .2h0m0 2.1h0m-.7 .9h0m.2-.9h0m.6-1.7h0m.6 1.4h0m-.4 3.1h0m.3-2.4h0m.4 1.2h0m-.1 .3h0m.5 2.8h0m-.3-1.5h0m.7-1h0m.1 1.7h0m.8-1h0m.1 2.6h0m0-.1h0m-.7 .4h0m.5-1.2h0m-.3 2.9h0m1.2 1h0m.4-2.5h0m-.6 2h0m.3-.6h0m0 1.6h0m.1-2.1h0m.2 4.4h0m1.2-1.3h0m.4-.6h0m-.4 .9h0m.8 2.2h0m-1.1-1h0m1.5-.5h0m-.1 2.2h0m.4-1.5h0m-.5 3.4h0m.3 .2h0m.4 1.4h0m-.1-4.3h0m.1 .3h0m.8-.5h0m-.3 1.4h0m1.8 .2h0m-.7-1.9h0m.5 1.2h0m.2 .2h0m-.2-2h0m.9 1.5h0m-.8-3.8h0m.9 1.3h0m-.2-.8h0m.7-.3h0m-.2-.1h0m-.7 .5h0m.9-3.7h0m.1 1.1h0m.2-2.7h0m-.8 1.2h0m.4-.1h0m.7 2.1h0m0-4h0m-.1-.9h0m.6 .6h0m-.2 1h0m-.2-1.3h0m-.1-.9h0m-.2-1.1h0m.6 1.3h0m-.3-3h0m.8 .9h0m-.9-1.1h0m.7-1.6h0m0 2h0m.3-.7h0m-.1-1.3h0m.2-1.7h0m-.1 .7h0m-.2-1.5h0m.9 .9h0m.2-.4h0m.4-1.6h0m-.4 .7h0m.3-2.6h0m.1 .5h0m-.5-.9h0m.2 1.2h0m.4-.1h0m.4-.2h0m0-2h0m-.4 1.1h0m.6-1.2h0m-.6-1.5h0m.6 2h0m-.3-2h0m1.3-.7h0m-.5-2.3h0m1 1.2h0m-1.1 1h0m.2-3.6h0m.4 2.9h0m.5-3.3h0m-.1 2.7h0m.6-3.5h0m.4 .4h0m-.3 .7h0m.2-.7h0m.8-1.8h0m-.8 .3h0m.7-.8h0m.5-.5h0m-1 1.3h0m.8-2.1h0m.6-1.8h0m-.4 1.5h0m.3-.6h0m.7-2.2h0m-1 .6h0m.1 .1h0m1.4-1.3h0m-.5 0h0m.7 .4h0m-.8-2.4h0m.3-.7h0m.8-.7h0m-1.2 10.5h0m1.4-2.9h0m-.3 1.1h0m-.8-1.8h0m.7 1.7h0m.3-1h0m-.8-2.1h0m.2 .1h0m.2-2h0m.8 1.3h0m-.7-.3h0m.9 1.9h0m-.2-3h0m-.3-1.2h0m-.6-1.4h0m-.1 1.4h0m.8-1.8h0m-.5 .7h0m.1-.1h0m.1-.9h0m.2-.1h0m1 .1h0m-.4 .5h0m-.1 .2h0m.6-3.5h0m.3 .9h0m.5-.7h0m.2 .1h0m.3-.7h0m.7 2.2h0m.2 1.4h0m.4-2.7h0m.7 3.8h0m-.1-.9h0m.6 1h0m.9-1.3h0m-.4 .6h0m.9 .9h0m.6 1.2h0m-.7-3.4h0m.3 2.8h0m-.3 2.4h0m1.2-3.2h0m-1.1 1.3h0m1.1 2.2h0m-1 .1h0m1 2.2h0m-.1 .4h0m.4-2.5h0m-.6 2.7h0m.4-1.4h0m-.2 .8h0m.5 0h0m-.4 1.9h0m.5-1.8h0m-.9 3.4h0m1.3 .7h0m-.5-2.3h0m.4 1.7h0m-.5 1.2h0m-.3 1.7h0m.7-1.6h0m.3 2h0m0-1h0m0 1.9h0m.6-1.4h0m-.6-.4h0m.2 .9h0m.5 3.9h0m-1-3.7h0m1.4 3.3h0m-1.2-2.2h0m1.6 1.3h0m-.3 1.6h0m0 .5h0m-.5 .9h0m-.1 1.7h0m.9-1.4h0m.1 2.9h0m0-3.5h0m-.2 1.9h0m.6 3h0m-.2-1.8h0m-.2 1.3h0m1.3 1.8h0m-.7-1.1h0m.9 .2h0m.1 2.5h0m-1.1-.9h0m.3-.7h0m.6 2.8h0m-.6-1.2h0m.9 .2h0m.8 .2h0m-.8 .3h0m.6 1.7h0m1.1-1.3h0m-1.4 1.1h0m1.1-1.5h0m-.5 1h0m1.3 .3h0m0 1.4h0m-.3 .4h0m0 2.5h0m1-1.9h0m0 1.8h0m.2-2h0m.7 3.6h0m.8-1.2h0m0-.1h0m-.2 1.8h0m.2-.2h0m-.2 1.7h0m.7 1.4h0m.5-.9h0m0-1.9h0m-.2 3.7h0m-.3-3.2h0m.6 2.9h0m-.8 .2h0m1.2 2.1h0m.2-1.3h0m-.6 1.3h0m1-2h0m-.1 3.3h0m-.4 .4h0m.4-.6h0m.1-.3h0m-.5 1.4h0m1.4-1h0m0 1h0m-.7-2h0m.2 1.2h0m-.3-.3h0m.5-1.1h0m1-1.6h0m-.7 .1h0m.5 .7h0m.2-1.8h0m-.6 2.8h0m.2-4.6h0m.3 1.6h0m1.3 .9h0m-.8-1h0m0-1.9h0m.8 1.5h0m-.7-2.6h0m1.2 .6h0m-.1 .9h0m.5-2.5h0m-.2 .4h0m.3-1.8h0m.1-.3h0m-.5-2.4h0m.6 1.4h0m-.3 1.7h0m.1-3h0m.1-.7h0m-.4 0h0m.3 .3h0m.7-2.8h0m-.1 .7h0m-.4 1.6h0m.7 .1h0m-.6-5.1h0m.8 2.9h0m.1-.7h0m-.4-1h0m-.3-2.3h0m.8 .2h0m.1 1.2h0m-.2-1.5h0m-.2-1.7h0m.1 1.4h0m-.4 .2h0m.5-.5h0m.8-2.5h0m-.8-.5h0m1-.4h0m.3-1h0m-.5 .4h0m1.1-.9h0m0 1.1h0m.6-.7h0m-.2-3h0m.7 3.1h0m.1-1.3h0m.3 1.1h0m-.3-2.8h0m1-.1h0m-.1-2.1h0m.2 1.3h0m-.5 2h0m-.1-.7h0m.2-2h0m.2 4.5h0m.9 1.3h0m.6-3.3h0m-.7 2h0m-.2-.7h0m1.1 2.6h0m-.7 .5h0m1.4 .8h0m-.6-3.6h0m-.4 4.9h0m1.3-3.4h0m-.4 2.6h0m-.3 2.4h0m.8-1h0m.5-.8h0m.1 .9h0m-.8-1.8h0m-.2-2.5h0m1.4 1.2h0m-1.2-1.5h0m.8 1.6h0m-.1-3.4h0m.6 1.2h0m-.6-3.1h0m.5 2.7h0m.2-2h0m.2 1.1h0m.4-2.7h0m-.5-1h0m.3 .8h0m.6 2.8h0m-.2-3.3h0m-.7 .7h0m.5-3.4h0m.5 1.6h0m-.5-3.1h0m1 2.6h0m-.7-2.8h0m-.3 3.7h0m.8-2.9h0m-.1 2h0m.3-.8h0m.1-3.5h0m-.4 2.2h0m-.4-1.6h0m.4-2.6h0m.3 2.4h0m-.2-3.1h0m.8 .5h0m.2 .7h0m-1.4-.5h0m1.3-3.2h0m-.6 1.3h0m.4 1h0m.5-1.1h0m-.6-1.1h0m-.8-.6h0m.8 .6h0m-.3-2.5h0m-.1-1.7h0m.8 .1h0m-.1-.3h0m.1 2.8h0m-.4-1.3h0m.1-.2h0m.8-4.1h0m-.4 3.1h0m.1-3.5h0m.5-.4h0m-1.4-2.2h0m1.2 3.7h0m-.8-.4h0m.3-2.1h0m.8-3.2h0m.1-.1h0m-.2-.8h0m-1 2.9h0m.5-3.2h0m.3 .7h0m-.6-1.2h0m0 .2h0m1.3-.2h0m.6-1.2h0m-.6 2.3h0m-.1-2.8h0m1.2 .4h0m.1 1.6h0m.1 .7h0m-.5 1.8h0m0-3.4h0m.4 1.7h0m-1 2.4h0m.9 .9h0m-.9-1h0m.2 1.6h0m0-.9h0m1.2 .2h0m-.8 1.4h0m.4 .1h0m.4 1h0m-.5 .2h0m.9-1.3h0m-1.1 4h0m.1-1.3h0m.2 2.3h0m.5-1.3h0m-.8-1.7h0m.6 4h0m.1-1h0m.1-.7h0m-.3 1.6h0m.3 1.7h0m-.5-2.4h0m.1 3.4h0m.5-1.3h0m-.3 1.6h0m.9 2.5h0m.1-.8h0m-.4-.6h0m-.8 1.4h0m1.2-.4h0m-.4 1.3h0m0 .7h0m.1-.3h0m.1-1.7h0m.1 1.4h0m-.1 1.3h0m.3-.2h0m-.7 1.7h0m.9 .7h0m-1.2-1.9h0m.1 4.9h0m0-.7h0m.1-.5h0m.3 .3h0m-.6 3.3h0m.7-1.1h0m-.1-.2h0m-.3-1.6h0m-.2 3.2h0m.6-1.1h0m-.3 3.5h0m.5-.8h0m-.5-2.7h0m-.1 4.2h0m.1-.1h0m-.1 .5h0m.3 2.1h0m-.3-2.3h0m1.2 .4h0m.2 1.1h0m-.9 1.3h0m-.3 1h0m.6-1.4h0m-.1 .8h0m-.1-1.2h0m.5 3.9h0m.3-.6h0m-.6-1h0m.7 3.7h0m-.4 .5h0m0-2.1h0m-.5 2h0m.3 .4h0m.1-1.4h0m-.2 1.3h0m.4-1.9h0m.5 2.4h0m.3-1.2h0m-.3 4.1h0m-.5 1.1h0m1.1-1.7h0m-1.1 2.8h0m.8-1.3h0m.2 .2h0m-.3 .9h0m-.2 1.5h0m1 1.8h0m-1.2-1.9h0m.2-.3h0m.7-.3h0m.7-2.7h0m-.2 .1h0m.7 2.3h0m-.6 .4h0m.1-.9h0m.4-2.8h0m.8 0h0m-.6 .4h0m.4 .1h0m.2-3.6h0m-.4 .7h0m1.2 .4h0m.1-.4h0m-.6 .1h0m1.4 1.4h0m0-1.3h0m.5 2h0m-.5-.2h0m.8 .3h0m.3-.3h0m.6 1.8h0m-.4-2.1h0m-.2 .3h0m1.1 3.4h0m-.9-2.7h0m-.2 .4h0m0 .2h0m.2 .3h0m1.2-1.6h0m-.5-1.9h0m.5-.4h0m-1 .5h0m.6-1.5h0m-.6 1.2h0m1.3-1.5h0m-.9-2.3h0m-.2 .1h0m1.2 2.7h0m-.6-3h0m.6 .8h0m-.7-1.6h0m1-.3h0m.1-.7h0m-1.2-2.6h0m-.1 2.1h0m.7-2.7h0m.1 .1h0m-.2 1.2h0m.7 .5h0m-1.1-.1h0m.6-4.2h0m-.3 1.4h0m1.1-1h0m.3-.3h0m0 .2h0m-.9-.4h0m0-.7h0m.1-1.6h0m.1-.2h0m-.4-2.5h0m.1 1h0m.8-.8h0m.6 2.3h0m.1-3.4h0m.1-.9h0m-1-1.2h0m-.1 .3h0m.3 1.6h0m-.2-2.6h0m1.1-.6h0m-.3 2.1h0m.5 .7h0m-.8-1.5h0m.9-2.7h0m-.2 1.2h0m0-2.7h0m-1 .3h0m.9-.1h0m-.1 .5h0m.5-1.3h0m-.3-.3h0m.7-1.2h0m-1.1-2h0m.3 1.5h0m.9 .5h0m-1.4-2.4h0m.4 2.1h0m.4-1.2h0m-.2-.7h0m.3-2.6h0m-.2-.6h0m.4-.6h0m-.2 2.2h0m.5-1.4h0m-.1-1.7h0m.1 0h0m.2-2h0m-.2 3.2h0m.3-3.8h0m.3 2.5h0m.1-4.4h0m.1 2.5h0m.9-2.5h0m-1.3 2.9h0m.5-1.6h0m.4 1.3h0m.2-1.9h0m-.5-3.7h0m1.8 3.2h0m-.9-.2h0m1.1-2h0m.3 .8h0m.6-.3h0m.6 0h0m.5-1.3h0m-.2 2.8h0m-.3 2.4h0m.6 0h0m-.7-.6h0m.4 .2h0m.7-.2h0m.4 2.6h0m-.5-.9h0m.2 2.2h0m-.4-1.2h0m.1-.2h0m.9 3.3h0m.5-2h0m-1.1-1.3h0m1 .7h0m.2 1.3h0m-.9 1.4h0m1.3 .1h0m-.3 .2h0m0 .8h0m.4-.2h0m.8 .3h0m-.8 2h0m.9 2h0m.2-2h0m.8 .6h0m-.5 1h0m.7-1.8h0m-.7 1.2h0m.6 1.7h0m.4 .4h0m.3 1.6h0m-.8 .3h0m1.1 .2h0m-1.1 .2h0m.9 .1h0m0 2.4h0m-.8-.5h0m1.4-.7h0m-.4 2.6h0m.3-1.3h0m-1.1-.3h0m1.3-1.5h0m-.4 3.8h0m.3-.8h0m.3 .6h0m-.8 .1h0m1.1-.4h0m-1.1 2h0m-.1 3.3h0m.6-4.4h0m-.2 3.5h0m.7 1.9h0m.1 .9h0m-1-1.1h0m1.4 .1h0m-.9-2.1h0m.6 3.6h0m-.4 1.2h0m-.2 1.4h0m1-4.1h0m-1 2.9h0m.2-.3h0m.4 2.4h0m-.5-3.5h0m.5 4.3h0m.6-.5h0m-.4 .6h0m-.3-2h0m.7 4h0m.3 .7h0m0-.8h0m.2 1.9h0m-1.1 1.4h0m.3-2.2h0m.8 .8h0m.1-.8h0m-.7 .8h0m.9-.7h0m-1.3 4.4h0m-.1 0h0m.9-1.7h0m-.4 1h0m.1-1.2h0m-.6 1.9h0m.7 3.8h0m-.4-2.2h0m.6-1.5h0m.5 4.3h0m-.2-.4h0m0 0h0m-.9-.1h0m.6-.9h0m.5 1.8h0m-.2 3.1h0m-1 .4h0m1.1-2.1h0m-.1-.7h0m-.5 .4h0m-.3 1.1h0m.6 2.1h0m-.2 2.3h0m.2-3.1h0m-.6 2.9h0m1 .5h0m-.5-1.1h0m.1-1h0m0 1.5h0m-.6 2.8h0m.7-.9h0m.2-.6h0m.8 3.3h0m-1 1h0m.6-2.8h0m-.5 2.8h0m.3-2.4h0m-.1 .1h0m1.1 .7h0m.2 2.3h0m-.6-.7h0m0 .2h0m.5-.1h0m-.4 .9h0m1.3-3.5h0m-.4-1.4h0m1.4 1.1h0m-1.4 2.1h0m1.1-3.7h0m.4 3.1h0m-.3-3.7h0m0 .6h0m.9-1.3h0m-.6 1.4h0m1.2-.5h0m-.2 .1h0m.2-3.2h0m.6 .9h0m.5-2.7h0m-.9 .6h0m.6-1.3h0m.2 1h0m-.7 2.2h0m.7-2.4h0m.5 1h0m-.3 1.9h0m-.1 1.9h0m-.6-.4h0m1.2 1h0m-.8-.9h0m.3-.1h0m-.2-.5h0m-.4 5h0m.7-3.1h0m.3 4.6h0m.1-3.5h0m-.2 .4h0m-.5 0h0m0 3.1h0m-.3-2.1h0m1.5 3.3h0m-.7 0h0m.4 3.2h0m-.3-3h0m-.2 0h0m-.1 2.6h0m.3 0h0m0-.8h0m0 1.1h0m.3-1.3h0m.7 .4h0m.2 .7h0m.6 4.2h0m-.2-3.8h0m1 .8h0m.2 3.3h0m.5-3.5h0m.2 1.3h0m1.1-.2h0m-.5 1.5h0m1.1-.4h0m-.5 1.6h0m1.4 3h0m-.4-3.8h0m.4 2.2h0m1.1 2.1h0m-.4-3.7h0m.8 .5h0m-146.1-27.9h0m6.2-19.8h0m1.1 8.5h0m-6.5-13.1h0m4.6 32.7h0m1.5-22.3h0m-3.1 16.6h0m2.2-15.7h0m5.2 21h0m-7.5-9.7h0m1 2.3h0m.1-4.1h0m-1.3-13.1h0m4.2 10.7h0m.1 16.7h0m0-14.4h0m.1-9.9h0m-1.5 6h0m.5-2.7h0m-.3-12.4h0m-.5 14.8h0m.9 6.1h0m-1.7 5.6h0m3-11.1h0m.4-16.7h0m-5.1 12.1h0m-.5-7.3h0m-2.4 20.4h0m8.1-1.7h0m-2.7 4h0m3.8-22.9h0m-6.5 21.9h0m-1.8-11.6h0m4.3-8.6h0m-3.2 15.8h0m8.5-1.9h0m-5.4 8.8h0m2.2 2.4h0m1.6-17.8h0m-3.2-13.6h0m-.9 14.1h0m1.1-9.6h0m-5.3 15h0m4.2 5.9h0m3.5 1.7h0m-6.1-9.2h0m1.7-13.7h0m.7 12.2h0m-.1-8.2h0m.5 4.1h0m.2 7.2h0m2.3-6.5h0m-4.7-9.6h0m2.1 7.9h0m2 22.3h0m-2.7-28.5h0m3 8.1h0m-7.9-2.4h0m6 21.8h0m3-10.6h0m-5.3-21.1h0m6.6 2.1h0m-2.5 .1h0m-.3 23.8h0m-3-7.2h0m6.7 5h0m-6.2 4.7h0m3.7 1.9h0m-5.5-28.9h0m4.1 19.4h0m.4-10.5h0m.4 23.6h0m-.8-28.6h0m-4.1 18.7h0m6.5-9.8h0m-5.6 2.9h0m1.4-5h0m-3.4 11.7h0m7 .4h0m1.8-25.4h0m-9.2 34.3h0m8.4-2.4h0m-7.3-2.7h0m4.2-21.9h0m-4.4 5.2h0m3.1-.2h0m3.9 12.9h0m-1.3 10.4h0m-4.2-11.5h0m.9-24.2h0m-.5-.6h0m3.9 18.6h0m-6.6-1.5h0m.8-2.1h0m5.7 3.7h0m2.9 4.5h0m-4.1-14.9h0m-3.3-.9h0m.6-2.3h0m4-1.9h0m-2.1 5.8h0m2.7-.5h0m5.6 11.6h0m-1-38.7h0m-2.6 30.8h0m8.2-26.9h0m-1.5-6.3h0m1.7 44.5h0m-6.5-31.6h0m0-7h0m5.7 38.4h0m-4.1-18.2h0m-.8-6.8h0m-.6-13.2h0m3.9-10.6h0m-2 23.5h0m1.2-24.1h0m-5.1 9.8h0m4.9 15.7h0m.2 19.1h0m3.7-19.6h0m-2.6-15.6h0m-1.6 24.4h0m-.3-5.1h0m3.4-24.2h0m-6.5 16.8h0m4.1 29.1h0m-.1-18.3h0m-1.4-14.1h0m-1.5-18.5h0m2.2 26.8h0m2.2-11.3h0m-2.5 11.8h0m-1.8-1h0m-.6 .5h0m.8-3.6h0m-1.6-15.1h0m3.5 8.3h0m-4 22.3h0m5.3-9.5h0m-3.8-16.5h0m6.8 7.7h0m-8.9-20.2h0m2.3 48.4h0m-1.3-48.8h0m2.8 3.3h0m4.5 18.7h0m-7.3 .7h0m.3 4.3h0m2.7 9.4h0m-4.9-.7h0m2.5 9.5h0m-3.8-27.8h0m6 5.5h0m1.9 14h0m1.7 9.5h0m-2.9-32.6h0m-3.5-2.5h0m1.1 12.9h0m-2.2 25.9h0m6.8-12.7h0m-2.6-16.2h0m-4.6 4.7h0m2.2 6.3h0m4.4-10.9h0m-5.7-19.3h0m2.7 29.1h0m-.2-22.3h0m1.1 24.1h0m4.9-32.5h0m-11.1 6.4h0m1.4 6.7h0m8.2 18.2h0m-4.5 10.2h0m2-24.8h0m-2.1-9.8h0m-4.7 3.1h0m4.8 8.1h0m1.6 9.6h0m-3.4-21.3h0m1.6 43.9h0m.9-16.1h0m-.2-25.9h0m-3.7 5h0m2.8 11.4h0m-1.1 24.3h0m-2.2-9.6h0m.8 3.4h0m3.2-29.7h0m3.5 2.3h0m-3.9-1.1h0m-1.6 20.3h0m-.3 10.8h0m3-32.3h0m0-10.9h0m1.7 31.7h0m-5.3-10.1h0m6.8-20.4h0m-2.6 47.6h0m4.4-32.4h0m-9.2 .2h0m.3-13.8h0m5.5 27.1h0m3.2-28.4h0m-5.2 13.9h0m-2.4-5.9h0m7.8-7.7h0m0 3.5h0m-7 12.9h0m3.6 23.1h0m-2.7-38.8h0m0 41.4h0m.8-22.1h0m.3 .5h0m1.5 4.2h0m-1.9-12.6h0m2.8 29.3h0m-.3-23.9h0m-.9 3.9h0m-2.7 9.7h0m1.7-5.3h0m-5.1-27.2h0m3.2 28h0m2 14.2h0m-.4-18.8h0m-2.7-7.2h0m4.9-14.3h0m-4.8 19h0m-1.2-8.2h0m4.2 9.6h0m.3-8.7h0m-5.6 3.7h0m6 9.5h0m-1.7 16.1h0m3.1-36.9h0m-2.2 7.5h0m-3.3-13.7h0m3.7 21.1h0m4.4-.9h0m4.2-2.3h0m3.4-1.5h0m-4.1-13.8h0m2.4 4.3h0m-.2-4.1h0m-.2 14.4h0m-4-2.2h0m10.3 2.1h0m-7.5 14.1h0m2.4-14.9h0m1-3.5h0m-6.8 6.6h0m5.2 1.8h0m-5.8 11.7h0m3.3-6.3h0m-1.4-8.2h0m2.2 1.5h0m4.5 11h0m-7.5-17.6h0m-1.1-4.2h0m5.1 8.5h0m2.7-11.5h0m.3 12.2h0m.6 14.1h0m-8.4-21.1h0m11.8 16h0m-12.4-9.5h0m7.1 11h0m-6.1-20.2h0m.5 8.7h0m3.2 5.5h0m-1.8-21.8h0m4.7 25h0m-2.3-9.4h0m.1-11.8h0m-.1 15.8h0m2.9 3.9h0m-.2 1.9h0m-3.8-7.6h0m4.3-7.3h0m-3.9 11.7h0m5.5-3.3h0m-2.8-5.9h0m-1.4 7.5h0m-.5-2.7h0m-3.7-13.4h0m2.5 23.2h0m4.8 1.1h0m-2 0h0m2.8 .2h0m-5.7-22.5h0m1.6 20.2h0m-2.7-2.7h0m6.8-5h0m-8.7 11.9h0m0-22.7h0m.6 8h0m-.9 .7h0m14.1-7.6h0m-6.1 .3h0m-1.5 6.3h0m2.3 .3h0m.1-5.2h0m-1.9 6h0m-4.2-.7h0m-2-6.6h0m1.9 9.1h0m.5-4.2h0m-1.3-6.5h0m4.4 8.9h0m4.7 9.3h0m.2-14.9h0m-11.3 8.7h0m7.2 5.6h0m-5.7-12.5h0m12.7 2.4h0m-6.5 8.5h0m-6.7-5.8h0m2-7.9h0m2.8 8.9h0m1.8-14.5h0m-4.9 11.3h0m8 9.8h0m-1.2 7.2h0m-4.5-13h0m4.2-14.1h0m-6.1 1.6h0m2.4 11.8h0m-7.1-4.3h0m9.2 1.8h0m-7-3.6h0m5.1-9h0m-5.8 17.4h0m9.7-7.1h0m-7.9 7.9h0m1.4 6.5h0m-4.1-5.5h0m7.1-10h0m-2.2 14.3h0m6.9-9.2h0m-14.6 2.2h0m10.2-4.4h0m-1.3 7.5h0m.2 4.5h0m.6-15.6h0m4.9 7.7h0m-1.9-4.7h0m-3.5 8.3h0m4-21.8h0m-7.2 25.3h0m-1.8-4.4h0m2-17.6h0m-.8 17.4h0m8.8-6.1h0m-3.1-15.1h0m-2.9 17.4h0m3.3-4.9h0m-.7-4.4h0m5.3 19.1h0m-15.1-12.3h0m7.9 .2h0m0-15.7h0m2.5 .9h0m-4.8 2.7h0m11.4 16.2h0m-8 12.2h0m.9-31.5h0m-1.5 26.5h0m-2.9-23.4h0m-1.9 23.2h0m6.3-8.1h0m.2-6.8h0m-4.9 17h0m3.7-24.5h0m-3.4 15h0m-93.2 128.2h0" fill="none" stroke="#00ff00" stroke-width="5.0" stroke-linecap="round" />
<path d="M158.6 553.7h0m-.6-1.4h0m.4-1h0m0-.8h0m.5-1.2h0m-.6 1h0m.8-.8h0m.4-.3h0m-.3-.8h0m-.2-1.1h0m.8 1h0m.3 2.2h0m-.7-2.7h0m.2-1.4h0m.1 2.7h0m.2-1.2h0m.4-2h0m.1 .8h0m.6-1.9h0m.2-.4h0m.5-.9h0m0 3h0m-.9-2.4h0m-.1 .3h0m.4-1.2h0m1-.2h0m-.8 .4h0m0 1.5h0m.3-4.2h0m.6 3.7h0m.7-1.4h0m-1-.4h0m.9 .6h0m.4-2.2h0m-.2 1.2h0m.3-2.5h0m-.3-.1h0m.8 2.6h0m-.4-3.2h0m-.4 1.2h0m1.2-2.7h0m-.5 2.1h0m.5-.4h0m-.1-3h0m.3 2.5h0m-.6-1.1h0m.2 1.2h0m.2-3.2h0m1.3 .7h0m-.3-1.6h0m-.6 1.7h0m1.2-2.6h0m-.8 2h0m.5-1.1h0m.7-1.3h0m0 2.8h0m-.6-2.9h0m-.1-.8h0m.5-.2h0m.2-.3h0m.8-1.1h0m.1 2.7h0m.2-1.2h0m-.9-.3h0m1.4 .8h0m0-1.5h0m.1-.8h0m.1 .5h0m-.2-1.1h0m-.3-.5h0m-.1-1.8h0m.1 .8h0m1 1h0m0-.1h0m0-.8h0m0-.8h0m.9 1.5h0m-.1-1.1h0m-.5 .5h0m.2-1.7h0m.7 .5h0m-.3 .4h0m-.1-.6h0m.7-.2h0m-.6-.2h0m0-3.8h0m1.3 1.8h0m.3-.3h0m0 .6h0m.6-.8h0m.5 .2h0m-.8 .3h0m.6-.2h0m.6-.1h0m.9-2.6h0m-.8-.1h0m.5 .7h0m.5 .8h0m.3-.4h0m.4-.8h0m.1-.3h0m.5-.3h0m1-1.5h0m-.2 3.2h0m.7-3h0m-.4-1h0m.8-.3h0m.3 .7h0m-.7-.6h0m1.1 .8h0m-.9-1.7h0m.2 1.5h0m1.2 .8h0m.1 .4h0m.3-2.5h0m-.4-1.7h0m.5 .3h0m.2 .7h0m-.3-2.1h0m.6 1.7h0m-.5-.4h0m.9 1.9h0m-.1-1.7h0m-.3-2.7h0m.8 1h0m.2 .8h0m-.3 .6h0m-.3-.6h0m.4 .1h0m.1-2h0m1.1-1h0m-.4 .8h0m-.1-1h0m.9 .1h0m.2-.9h0m.3-1.6h0m-.4 2.2h0m-.1-1.4h0m1-.4h0m-1-2h0m1.1 .6h0m.1 .9h0m-.1 .6h0m.6-3h0m.5 1h0m.1-1.2h0m-.8 .7h0m.8 .9h0m-.2-1.9h0m.9 .2h0m-.3-.7h0m.4 1.2h0m.9 .2h0m-.5-.6h0m1.3 0h0m-.3-.2h0m1.1 .3h0m-.8-.8h0m.9 1.6h0m-.3-2.9h0m1 .9h0m-.5-1.1h0m1.2 .2h0m.6 1.3h0m.2-1.3h0m.1 .4h0m.4 3.3h0m-.1-1.3h0m.8 .2h0m.2-2h0m.9-.6h0m.1 3.1h0m0-2.5h0m-.3 .7h0m.7 .2h0m.5-2.6h0m-.2 3.2h0m.2-1.8h0m.6-.5h0m.5 .8h0m-.5-1.4h0m.7 .1h0m.5-.8h0m.4 .8h0m0-1.2h0m-.5 .3h0m.7-1.2h0m.1 .3h0m.5 1h0m.4-1.5h0m-.1-1.7h0m-.2 1.9h0m.8-1.3h0m.2 .6h0m.3-.6h0m.7-.8h0m-.4 2.4h0m1-2.8h0m.3 .9h0m-.9-1.8h0m1.6 2.2h0m-.7-.7h0m1.6 .1h0m-1.3 .3h0m1 .1h0m.2-2.8h0m.3 4h0m.5-1h0m1.3-1.8h0m-.3 .6h0m.2 3h0m-.2-3.1h0m1.1 1.5h0m.3-2.5h0m.2 1.4h0m.7 2.1h0m.7-1.1h0m0 .4h0m-.3 .5h0m.9-.7h0m.1 0h0m.6 .7h0m.1-1h0m-.2-.1h0m.2-1.2h0m.4 1.2h0m-.3-2.7h0m.2 .9h0m.2-.1h0m-.1 1.6h0m.8-1.6h0m.5 .2h0m.2-2.6h0m-1 1.5h0m.8 .1h0m.3-.9h0m-.2-1.9h0m-.2 2.5h0m1.3-2h0m-.8-1.3h0m.6 .5h0m.3 .1h0m.4-.6h0m-.4 1.4h0m0-.7h0m.1-1.7h0m.2 0h0m.8-.1h0m-.4-2.1h0m.2-.3h0m.8-.2h0m0 3.4h0m-.6-2.7h0m-.3 .4h0m1.5 .7h0m-.8-2.4h0m1.2 2.2h0m0-.6h0m-.2-2.6h0m-.7-.4h0m1 .7h0m-.1-1.4h0m-.2 2.4h0m.6-2.1h0m.7-.3h0m-1 .1h0m.3-2.4h0m.6 1.8h0m-.1-2.3h0m0 3.9h0m1.3 .1h0m-.8 .4h0m.8-1.9h0m-.1-.1h0m1.4 2.2h0m-1-1.5h0m1.4-1.1h0m-.9-.4h0m.3 .9h0m.3 .6h0m1.2 .2h0m-.3 1.4h0m.2 .7h0m.2-.2h0m.2 1.8h0m.1-1.3h0m1.1 1.6h0m-.6-2.9h0m.7 .5h0m.1 0h0m0 2.9h0m.9-.1h0m0 1.9h0m.3-2.1h0m.3-1.3h0m.4 1.7h0m.1-.1h0m-.4 .3h0m1 1.5h0m-.2-2.4h0m1.4 1.3h0m-.9-.1h0m.4 .8h0m1-1.7h0m-.3 2.4h0m.8-1.1h0m-.1 1.4h0m.1 .1h0m.9 .5h0m.3-1.8h0m.4 1.3h0m.3 1.7h0m.5-1.9h0m-.8 2.1h0m1-1h0m-.3-.1h0m1.5-1.4h0m-.9 1.4h0m1.6-1.6h0m-.8-2.1h0m1.3 3.6h0m-.6-1.7h0m.5 .3h0m.3 .8h0m.6 .1h0m-.2-2.4h0m.3 .2h0m1-1.7h0m-.1-.1h0m-.7-.5h0m1 .8h0m-.8-.8h0m.4 1.5h0m-.4-1.2h0m1-1.2h0m-.5 .8h0m.4-2.6h0m-.6 .6h0m.8-1h0m-.8 .3h0m.8 .2h0m-.9-1.5h0m.1 1.5h0m.9-.5h0m-.4 .1h0m0 .1h0m-.4 .3h0m1.2-2.1h0m0-2.4h0m-.2 3.8h0m-.2-3.2h0m.1-.4h0m-.2 1.8h0m.6-2.6h0m-.7 .8h0m.2-.3h0m-.2-.9h0m.9-.1h0m0-.7h0m.1 1.4h0m-.7 .1h0m.6-2.3h0m.5-2.6h0m-.8 3.9h0m.3-1.3h0m-.1-.3h0m.6-1.3h0m-.4-1.2h0m.5 0h0m-.3 2.3h0m.4-1.8h0m-.6-2h0m.3-.4h0m-.2 1.9h0m0-2.5h0m.1-.7h0m.3 2.5h0m-.1-.1h0m.7-2.2h0m-1.1-.4h0m.4-1.2h0m.4 1.8h0m-.3-1.3h0m.4 1.3h0m-.2-1h0m-.3-2.9h0m.1 .4h0m0-1.1h0m.3-.8h0m.6 1.5h0m0 1.2h0m-.9-2.1h0m1.3 .4h0m0-3.1h0m-.5 .6h0m.5-1h0m.1-.4h0m-.9 1.8h0m.1-.2h0m-.2-2.6h0m.5 1.7h0m-.2 1.1h0m.6-2.3h0m-.1-.6h0m.3 1.5h0m-.7-3.7h0m.3 1.5h0m.4-.3h0m-.3-2.5h0m.6 1.7h0m-.7-.7h0m0-.8h0m.7 .4h0m-.4 1.2h0m.2-2.6h0m-.1 2.1h0m.7-3.4h0m-.5 2.7h0m.4-.4h0m.5-1.1h0m-.9-2.5h0m.1 1.6h0m.5-.1h0m0-.6h0m1.7-.8h0m-.7 0h0m.4 .5h0m.5-.8h0m.9 1.1h0m-.5-.4h0m1.5-.9h0m.1 1.3h0m-.6-1.2h0m1.2-.1h0m-.4-2h0m-.1 2.8h0m.6 .3h0m.4-.1h0m.1-1.9h0m.2-.2h0m-.1 .3h0m.3 1.1h0m.8-3.2h0m.1 1.2h0m-.2 .3h0m-.2-1.7h0m.8-.9h0m.5 1.5h0m.2-1.1h0m0-.4h0m-.2-2.3h0m.4 .8h0m.3 .9h0m-.2-2.6h0m1.2 1.6h0m-.4 .1h0m.8 1.1h0m-.7-.5h0m.6-1.1h0m.4 .1h0m.1 1.8h0m.4-.9h0m.7-.8h0m-.1 .3h0m.4 2.1h0m0-.8h0m-.1-.4h0m-.2-.7h0m.7 2.5h0m-.3 1.4h0m.8-1.4h0m.2 .1h0m.5-.2h0m-1 1.9h0m1.2 .9h0m-.1-.5h0m-.2 1.9h0m-.1-.1h0m1.6-2.2h0m-.7-.2h0m.2 2.2h0m.8-1.7h0m.3 1.7h0m.3 1.5h0m-.7-.7h0m.8-.7h0m-.4 1.7h0m1.2 .5h0m.1-2.1h0m-.1 0h0m.4-1.1h0m-.6 .5h0m.9-.6h0m-.7 1.3h0m.6 0h0m.3-2h0m.6 1.3h0m-.8-2.7h0m1 1.2h0m-.2-2.8h0m1-1h0m-.4 .2h0m-.3-.5h0m-.2 1.8h0m1.5-.7h0m-.3-1.2h0m.5-.6h0m-.6 1.8h0m.6-2.9h0m.4 .7h0m0 .5h0m0 .8h0m.9-1.5h0m-1.3 0h0m1.1-.1h0m-.1-.5h0m.8-1.5h0m-.3-.7h0m.4 1.7h0m-.3-.1h0m-.1 .5h0m.6-3.3h0m.5-.8h0m.1 2h0m.3-1.5h0m-.3 .2h0m.3-.2h0m.3 .5h0m.5-1.1h0m-.9-.9h0m.8-.9h0m-.4 1.4h0m.9 .2h0m-.1-.9h0m-.3-1.8h0m.5 3h0m.1-2.2h0m-.1-1h0m-.7 1.7h0m0-3.3h0m0-1.1h0m.2 2.5h0m.1 .3h0m1-1.5h0m-.2-1.8h0m.3 1.1h0m-.9-.8h0m1.1-.1h0m.2-2.6h0m-.6 2.6h0m-.5-.9h0m1.2-1.4h0m-.3 1.4h0m.4 0h0m-1-.3h0m.9-3.2h0m.3 .4h0m0 .2h0m-.4 .2h0m0 .8h0m.8-1.9h0m0 0h0m-.4 1.1h0m-.1-3.4h0m0 1.1h0m-.3-.1h0m1.2-1.9h0m-.2 .1h0m-.8-.6h0m0 2.8h0m.1-1h0m1.1-2.8h0m-.2 2.7h0m0-2.1h0m-.5-2.7h0m.4 1.9h0m-.3-.5h0m.1-1.7h0m1.1 1.5h0m-.5 .7h0m.4-1.2h0m-.1-.8h0m-.2 .1h0m.2-1.5h0m.3-1.2h0m-.6 2.8h0m.2-1.9h0m.6 0h0m.5 1.1h0m-1.1-3.6h0m0 2.5h0m.7 .1h0m-.1-3.2h0m.6 2.1h0m.6 1.5h0m-.4-4.2h0m.7 2.7h0m-.1 1.7h0m.7-.4h0m-.5-2.1h0m.8 2.9h0m0-1.3h0m.7 2.4h0m-1.2-3.7h0m1.6 2.5h0m-.9-1h0m.8-.4h0m.3 3.1h0m.7-1h0m-1.1 1.5h0m.6-.5h0m-.1 .6h0m.5-1.8h0m.1 2.2h0m.5-1.5h0m1.1 1.2h0m.2-1h0m.2 1.2h0m.1 .5h0m.4-.2h0m.7 0h0m-.2 0h0m1.2 1.2h0m-1.1-2.3h0m1.3 2.7h0m.4-1.2h0m-.3 2.6h0m0-3.4h0m1.6 3h0m-.6 .5h0m1.3-.1h0m-.4-3.9h0m.5 .4h0m-.1 .4h0m1.2-.4h0m-.4-.5h0m.4 3h0m.6 .6h0m-.1-1.4h0m.2 .1h0m1.1-1.9h0m.3 1.5h0m0-.8h0m-.2-1.4h0m1.8 .5h0m-.8 .8h0m1 .6h0m-.6-.8h0m.9 1.2h0m.8-3.6h0m.1 1.9h0m-.5 1.4h0m1.3-.5h0m-1.3-.4h0m.2 .9h0m-.1 1h0m.3-.3h0m-.1 .2h0m.3 2.7h0m0-3.5h0m-.2 1h0m.4-.7h0m.2 2.7h0m-.2-.9h0m.3 2.3h0m-.2-2.3h0m.4 2.5h0m-.6-.2h0m1.3 .1h0m0 .5h0m-.6 1.4h0m.1-2.7h0m0 2.9h0m-.5-.7h0m.3-1.1h0m.1 3.1h0m.1 1.4h0m.7-1.2h0m-.8 .1h0m.4 1.7h0m.1-.5h0m-.5-.6h0m.4-.4h0m.2 1.3h0m.1 2.8h0m.4-1.4h0m-.3-.9h0m-.1-1.1h0m-.1 1.5h0m.7 .1h0m-.7 1.8h0m0-.6h0m.7 .7h0m-.7 .7h0m.6 1.8h0m-.4-1.6h0m-.1 .6h0m1.2-1.4h0m-1.1 2.3h0m1.2 1.8h0m-.3-1.1h0m.4-.1h0m-.4 1.1h0m-.6 1.1h0m.9 .4h0m-.7-.9h0m1 .3h0m-.9 .6h0m.7 .5h0m-.1 1.8h0m-.5 .7h0m-.1-.8h0m.2-1.9h0m.8 .3h0m.1 1.6h0m-.4 1.7h0m-.2-2.3h0m-.2 2.5h0m.5-.1h0m.1 .2h0m.1 1h0m.6 .3h0m-.1-1.3h0m-.7 2h0m.9-.2h0m-.1 1.2h0m.1 1.4h0m-.7-1.1h0m.4 .7h0m.4-2.2h0m.4 2.3h0m-1.1 .4h0m.1 .3h0m1.2 .9h0m-.1-.9h0m0 .5h0m-.2-.7h0m-.1 .7h0m-.6 1.3h0m.9 1.1h0m-.4 .6h0m.6 .3h0m.2-2h0m.2 1.9h0m-1.1-1.3h0m.2 .4h0m1 .5h0m-1.1 1.5h0m.3-.1h0m.1-.1h0m.4 1.1h0m.2-.9h0m-.5 2.1h0m.8 .9h0m-.6-1.8h0m.7 2.2h0m-.7 1h0m.2-2.9h0m.5 1.2h0m-.2-.6h0m.5 2.3h0m-.9 .8h0m.1-1h0m.9 1.2h0m-.4 .7h0m0 .2h0m.8-.2h0m-1 .5h0m0 .8h0m.7-.3h0m.3-.2h0m-.8 0h0m.6 3.7h0m.5-2.1h0m-.8 2.2h0m-.2-1.1h0m.8 2h0m.3-3.5h0m-.2 1.7h0m.1-1h0m.1 2.8h0m-.9-1.4h0m.7 3.9h0m-.1-3.4h0m-.3 .3h0m-.2 1h0m.7 .4h0m-.5 .4h0m.7 .6h0m-.1 .9h0m-.2-1.2h0m-.1 2.3h0m.9 .4h0m-.3-.6h0m.3 1.5h0m-.9 .9h0m1.2-1.3h0m-.6 2.4h0m.4-3h0m.2 2.8h0m-.3-1h0m.9-2.4h0m.1 3.6h0m.6-.5h0m0-2.3h0m.6 .2h0m-.6-1.9h0m.8 .2h0m-.2 .7h0m0-.3h0m.8-.2h0m-.5 .3h0m1.2-1.4h0m-.8-1.1h0m1.2 .3h0m-.2 1.9h0m.2-3.2h0m.8 3.1h0m-.3-1.8h0m.5 0h0m.3 1.2h0m.5-1.8h0m-.1-.3h0m-.4 0h0m1.6-1.6h0m-1 2.2h0m1.1-3.2h0m-.2 1.2h0m.3-1h0m-.2 1.1h0m.3-.5h0m0-.2h0m1.4 .8h0m.1-2.6h0m-.1 .3h0m0-.6h0m.8 1.3h0m.1-1.2h0m.2 .4h0m-.3 0h0m.4-3h0m.1 1.6h0m.2-.5h0m0 .5h0m.8-2.4h0m-.6 .7h0m1.7 1h0m0 .9h0m0-.6h0m.1 1.2h0m1.1 0h0m.1-1.3h0m-.2-.8h0m.4-.7h0m.4 .9h0m0-.2h0m1.3-.1h0m-.4-.9h0m1.3 1.3h0m0-.6h0m.2-.9h0m-.3 .8h0m.6-.5h0m0 .3h0m1.9 1.3h0m-.4-1.3h0m-.1 0h0m.9-1.5h0m-.9 .4h0m.3 .7h0m.2-.3h0m.8-.6h0m0 0h0m.5-1.6h0m.3-.1h0m-.3 1.6h0m.6-2h0m0-1.1h0m-.7-1.1h0m.1-.4h0m1 2.7h0m-.1-3.3h0m-.2 3.2h0m.6-2.5h0m-.5-1.3h0m.6 1.1h0m.5-1.3h0m-.5 2.7h0m.7-1.1h0m-.4-1.5h0m1.1 1.2h0m-.1-3h0m-.7 0h0m.2 .5h0m1.4-.8h0m0 .5h0m-.8-2.3h0m-.2 1.7h0m.6-2h0m-.5 2.9h0m.2-1.8h0m.3-1.2h0m.5 1.1h0m-.5-1.5h0m.9-2.2h0m-.6 1.4h0m.5-1.3h0m.6 .8h0m-.1-1.5h0m0 2.2h0m.2-.8h0m-.1 .8h0m-.4-2.6h0m.7 1h0m-.1-2.2h0m.2 .4h0m-.3 .7h0m-.1-3h0m.1 2.7h0m.1-1.2h0m.5-2.6h0m-.4 2.9h0m.2-2.4h0m.8 .7h0m.2-1.8h0m-.5 .9h0m1 .5h0m-.6-1.4h0m-.2 .7h0m.2-2.9h0m.4 2.2h0m-.3-2.3h0m.3 .4h0m-.5-.1h0m1.3 .2h0m-.1-1.7h0m-.1 .2h0m0 1.5h0m0-1.5h0m.5-.8h0m-.8 1.1h0m1-2.8h0m-1.1-1.3h0m.4-.1h0m.8 1.1h0m-.5 0h0m.1 .9h0m.3-2.3h0m.3 2h0m-.5-2.5h0m.7-.2h0m-.1-1.3h0m.1 2.3h0m-.6-2.6h0m0 .2h0m-.2 1.4h0m.5-2.7h0m-.3 .6h0m1.3-.7h0m-.7 2h0m.6-1h0m-.7-2.2h0m.8-1.2h0m-.2-1.1h0m0 2h0m-.5 .7h0m.7-.1h0m-.5-.1h0m.3-4h0m.1 1.5h0m.3-.6h0m.1 2.2h0m-.4-2.7h0m.3 .1h0m.8-.9h0m-1.1-.4h0m1.2 .8h0m-1-2.8h0m0 .9h0m.5 2h0m.5-.8h0m.2-1.8h0m-.7-1.7h0m.1-.3h0m.7-.1h0m-.1-1.4h0m-.4 2.9h0m.9-3.5h0m.2 .5h0m-.8-.7h0m0-.7h0m0 1.6h0m.9 .8h0m.4 .7h0m-.5-4.3h0m.1 2.9h0m-.3-2.6h0m1.1-.5h0m-.7-1.7h0m.6 2.5h0m-.1 .1h0m.2 .8h0m.1-2.8h0m-.7-1.7h0m.6 2h0m-.6-1h0m.7 .7h0m-.2-1.8h0m.1-1.5h0m.4 1.3h0m.4-.2h0m.2-2.4h0m.4 1.6h0m-.6 .2h0m-.3-3.4h0m-.1 3.8h0m1.4-3.2h0m-.2 .6h0m.2-.3h0m.2-.6h0m-.2-.7h0m-.2 .5h0m.4-1h0m-.1 1h0m.7-1.9h0m-.2-.3h0m.3-.4h0m-.1-.9h0m.3 .9h0m-1-1h0m1.1 .3h0m-.3-2.2h0m.4 .9h0m.3 2.2h0m-.6-1.8h0m-.3-2.2h0m1 .3h0m-.3 1h0m.5-3.1h0m-.8 2.8h0m.7-1.8h0m-.3 1h0m0 .9h0m.6-.3h0m.5-4.4h0m-.1 2.4h0m-.8-2.8h0m.5 2h0m.6-1.3h0m-.6-.2h0m1-1.5h0m-1.1 1.9h0m.6 .6h0m.1-3.1h0m-.3-.3h0m1.2 .7h0m-.9 .3h0m.3-.9h0m-.2 1.6h0m.6-2.2h0m.4 .7h0m-.1-2.4h0m.7 .2h0m-.2-1.8h0m-.8 2.6h0m.1-1.4h0m.7-2.1h0m-.5 3.4h0m.2-3.6h0m.4-.2h0m.3-1.2h0m.2 .5h0m-.5 1.9h0m.8-1.2h0m0-2.2h0m.5 .4h0m-.1 .2h0m-.1 1.1h0m-.2-1.7h0m.5-.8h0m1.1 0h0m-.1 .2h0m-.1 0h0m-.3-.2h0m.1 1.1h0m.9-1.3h0m-.3-1.1h0m.6 .7h0m-.4 .1h0m0-3h0m1 2.2h0m-.7-2.4h0m.6-.1h0m.6 .1h0m.3-1.1h0m-.2 1.7h0m.5-1.3h0m-.4 .9h0m1.1-3.3h0m-.5 2h0m-.5-.9h0m.1-.8h0m.5-.2h0m.2-.5h0m.3 2.5h0m.9-.8h0m-.1-1h0m-.4-1.4h0m.4 .7h0m.5-.2h0m.6-1.8h0m-.2 .5h0m-.1 .3h0m.3-.3h0m.7-.9h0m-1.1 .5h0m.6 .6h0m.8-2.4h0m.6 .7h0m.1 .3h0m.2-1.2h0m-.2 1.3h0m.8-3.5h0m-.6 1.2h0m.9-.2h0m.1 .6h0m.7 .5h0m-.2-1.3h0m.5 1.2h0m.3-2.7h0m1.2 2.1h0m-.3-3h0m-.1 1.9h0m-.3-.1h0m1.3-.6h0m.3 1.6h0m.2-3.2h0m-.5 2.2h0m.7-1.4h0m1 0h0m-.1 1.3h0m.2-2.1h0m.2-1h0m.1 .9h0m-.1-.5h0m.5-1.6h0m-.5 .8h0m.1 .3h0m-.2-2h0m.5 .3h0m0-.9h0m.7-1.2h0m.6-.4h0m1-.1h0m.5-.7h0m.4 1h0m1.1-.9h0m.1 .6h0m.3-.5h0m1.8-1.7h0m-.2 .9h0m.6-.4h0m1.4-.3h0m-.4-.5h0m1.3 .1h0m.8-.7h0m.2 0h0m.9-.6h0m1-.8h0m.6-.7h0m-.2 1.1h0m1.2 0h0m.7-1h0m-.1 .2h0m1.2-1h0m.3 .4h0m.1-2h0m.5-.1h0m.8 1.1h0m1.7-1.1h0m.6-.5h0m.3-.6h0m.2 .4h0m1.4-.8h0m1-.1h0m-.4-.7h0m.6-.5h0m.9-.5h0m.9 1.5h0m.6-1.8h0m.6 .7h0m.8-.9h0m1.2-.2h0m.7 .9h0m.4-1.2h0m.4 .7h0m.4-.9h0m.3 1.2h0m1.5-1.8h0m-.3 .1h0m1.4-.4h0m.6 .5h0m.2 .4h0m.9-.9h0m.1 .3h0m1.9-1.7h0m.5 1.5h0m.1-2h0m.6-.7h0m.5 .6h0m-.7-1.7h0m.7 1h0m.9-2h0m.3 .3h0m.3-.1h0m-.2-1.1h0m1.4 0h0m0-1h0m.1-.1h0m1.6-1.6h0m-.3-.3h0m.4-1.7h0m.4 .8h0m-.3-.3h0m.9-.9h0m-.3-.5h0m1.5-.5h0m.2-.5h0m.5-.7h0m-.9-1.1h0m.6-1.1h0m.8 0h0m.2 0h0m0-1.4h0m1.1-1.3h0m.2 .2h0m.6 .3h0m-.6 .8h0m1.4 .4h0m.9-.6h0m.1 1.4h0m1.4 .4h0m.2-.6h0m-.2 1.7h0m.5 .8h0m.2 .5h0m1.1 .4h0m-.1-.3h0m.7 .7h0m-.6 .9h0m.4 1.5h0m.8-.8h0m-.2 1.7h0m-.2 1.2h0m1.1 .5h0m.4 .8h0m.1 .2h0m-.3-.3h0m.4 1.5h0m0 .5h0m.5-1.9h0m-.2 .3h0m.4-.3h0m1-2.2h0m-1.5 .6h0m.8-.9h0m.8-.6h0m-.7-1.3h0m.9-1.2h0m0 .4h0m-.2 .1h0m-.2-1.8h0m1.4 0h0m-.6-.2h0m.3-2.4h0m1 .7h0m-.8-.4h0m-.1-1.6h0m.6-.7h0m-.4-1.5h0m-.9 .1h0m.9-1.5h0m.8-.4h0m-.4-.5h0m0-1.2h0m.8 .4h0m-.5-1.7h0m0 .5h0m-.1-1.1h0m.3-.2h0m-.3-.8h0m-.2-1.8h0m.6 .6h0m.5-2.1h0m-.1-.3h0m-.5 .4h0m.3-2.1h0m-.1-.2h0m.8 .1h0m-.8-1.1h0m-.2-.2h0m.4-1.7h0m-.3 .4h0m.4-1.2h0m.5-1.6h0m-.1 .7h0m-.2-2.5h0m.2 0h0m-.3 .3h0m-.1-1.9h0m1.1-1h0m-.1-.4h0m.2-1.1h0m0-.1h0m-.1 .1h0m-.2-1.7h0m.1-.4h0m.9-.5h0m-.7-1h0m-.1-.4h0m.7-1.1h0m0-1.2h0m.2-.6h0m-.3 .8h0m.1-1.6h0m0-.2h0m0-1.4h0m22.1-117.7h0m.6-1.7h0m-1.8-.3h0m1.2-.9h0m-.2-3h0m-.5-.9h0m1.4-.9h0m-.9-.8h0m-.3 .5h0m.1-1.2h0m.3-1.6h0m-.2-.7h0m.3-1.8h0m.5-.7h0m-.5-.8h0m-.8-1.8h0m.1-.6h0m.4-1.6h0m0-.8h0m.5-.7h0m-.7-1.8h0m-.4-.2h0m.5-.5h0m-.2-1.5h0m-.2-.1h0m-.1-2.7h0m13.5 32.6h0m.1-.2h0m.9 1.5h0m-.1-2.7h0m0-1.9h0m.4 .1h0m-.1-.9h0m-.3-1.1h0m-.1-2.4h0m.8 1.7h0m-.4-.3h0m.5-2.5h0m-.7-1.6h0m.3-1.6h0m-.5-.9h0m.8-.4h0m-.6 .5h0m1.1-4.2h0m0 1.8h0m0-2.7h0m-.3-1.7h0m.1 .6h0m-.1-.2h0m-.3-3h0m1.2 .8h0m-.8-1.1h0m.2-1.8h0m.1-2.5h0m1.1 1h0m-.6-2.1h0m-.3-.4h0m.3-3h0m.9 2.4h0m-.1-2h0m.2 .1h0m0-.5h0m-.2-2.6h0m1.2-3.2h0m-.7-.4h0m.4 1.5h0m1.2-.4h0m0-2.9h0m.8-1.5h0m-.5-.1h0m1.2 .3h0m.4-2.1h0m.4-1.1h0m-.5-.8h0m-.2 .4h0m1-4.2h0m-1.1 .8h0m1.1-1.9h0m-1-.3h0m.1-.9h0m.2 .3h0m0-1.2h0m.3-2.6h0m.4-1.5h0m.4 1.1h0m0-1.8h0m.1-2.1h0m-1 1.1h0m1.2-3.4h0m-.1 .1h0m-.5-1.7h0m.6 1.2h0m-.4-4.3h0m0 2.5h0m.2-1.3h0m.4 1.7h0m.4 2.2h0m-.1 .3h0m-.8-.4h0m-.1 1.8h0m.1 1.7h0m.2 2.7h0m-.1 .9h0m.4 .5h0m-.1 1h0m.1-2h0m.5 .9h0m-.4 2.9h0m-.1-.5h0m.2 1.4h0m.1 3.4h0m.1 .9h0m.3-1.9h0m-.1 2.3h0m.2 0h0m.9 2.3h0m.4 2.9h0m-.1-.2h0m.4 1.3h0m0-.4h0m.3 1.6h0m.3-1h0m-.9 1.4h0m-.1 2.9h0m0 1.3h0m0 .6h0m.2 .9h0m.4 .1h0m-.4 .7h0m0 2.2h0m.5-1.1h0m.4 2.5h0m.2 .6h0m-.7 2.2h0m.8-.5h0m-.4 3.8h0m.2-1h0m.2 1.3h0m-.3 1.6h0m.4 .6h0m.1 2h0m.1 .3h0m0-.1h0m0 2.9h0m-.2-.5h0m-1 1h0m1.1 .3h0m-1 .4h0m.9 3.9h0m-.9 1.4h0m.2-2.6h0m.4 2.4h0m-.5 1h0m1.2 2.4h0m-.4-.4h0m.2 3.3h0m.6-1.9h0m-.3 2.4h0m.5 .9h0m-1.1 1.3h0m.4-.5h0m0 .2h0m.7 4.5h0m.3-2.5h0m-.5 1h0m.3 3.8h0m.4-.7h0m-.4 .9h0m-.1 2.8h0m.5 .7h0m-.6 1.4h0m.9-.7h0m.1 .6h0m-.4 3.1h0m-.7 0h0m.2 .1h0m.4 .2h0m-.2 1.7h0m.8 1.5h0m-.7 .3h0m1.4 3.6h0m-.5-.6h0m.5 .2h0m.6 1.2h0m.2 1.9h0m-.3 .1h0m.8 1.5h0m.2 2.4h0m.6-.1h0m-.1-1.2h0m.4 1.1h0m.2 3.7h0m-.3-1.6h0m.5 2.6h0m.6-.4h0m-.1 1.1h0m.9 .6h0m.1 4h0m.5-.6h0m-.5-.6h0m.5 4.2h0m-.6-1.8h0m1 1.3h0m-.2 3.6h0m-.7-1.9h0m.2 1.7h0m.7 1.5h0m.6 1h0m-.6 1.6h0m.3 2h0m-.2-1.2h0m.3 1.4h0m1 1h0m-.5 2.5h0m1.2 .6h0m.5-.2h0m-.4 2.3h0m.1-.2h0m1.2-1.2h0m.3 2.8h0m.3 1.9h0m-.3-1.9h0m.6 2.2h0m.4 2h0m.7 1.3h0m-.4 .5h0m1 .1h0m-.7-.1h0m1.2-.9h0m-.7-.3h0m.7-1.2h0m.4-1.3h0m-.6-1.1h0m.5 .8h0m0-3.3h0m.6 .6h0m-.3-2.3h0m.8 1.1h0m-.5-2.3h0m1.1-1.2h0m-.8-1.5h0m.4-1.9h0m0 1h0m1.3-1.5h0m.1 .3h0m-.1-2.6h0m-.2-1.9h0m.8-1.8h0m-.2 1.1h0m0-2.6h0m.4-1.4h0m-.4 0h0m.1-.5h0m0-.9h0m.1-1.7h0m.2-.1h0m1-1.1h0m.2-.1h0m.3-1.7h0m.2-2.7h0m.7 .3h0m.2 .4h0m-.5-1.7h0m-15.9-3h0m.8-.4h0m.1 2.1h0m.5 0h0m1.5 1.3h0m.3-.2h0m1.3 .7h0m.4 .7h0m-1 .6h0m.2 2.1h0m.1 1.1h0m1.4 1.1h0m.3-.3h0m-.2 2.6h0m-.1-.6h0m.2 2h0m.7 1.7h0m-1-.8h0m.4 2.4h0m0 .9h0m.2 .4h0m.2 1.5h0m-.4-.3h0m.7 1.3h0m0 .9h0m-.3 1.8h0m-.6 .1h0m3.8 10.8h0m.3 1.2h0m.2-1.4h0m-.4 1.1h0m1.3-3.1h0m-.4 .5h0m.4 1.6h0m-1.2-.3h0m1.1-1.7h0m-.3-1.2h0m.3-.2h0m.1 .2h0m-.6-.2h0m.6-1.6h0m.8 1.1h0m-1-.3h0m0-1.2h0m.4 1.6h0m.2-1.9h0m-.6-2.1h0m.4-.6h0m.5-.6h0m-.1 1.4h0m.5 0h0m.5-2.5h0m-.7-.2h0m-.2 1.1h0m.2-.2h0m.2-2.2h0m.6-.6h0m-.6-2.9h0m1.2 2.5h0m-.2-1.3h0m.6 1.5h0m.2-2.4h0m-.4 1.4h0m.8-2.6h0m-.2-.4h0m.3-.6h0m-1.1 .9h0m.3-.1h0m.5-3.4h0m1-.5h0m-.6 1.2h0m.7-2.7h0m-.6 2.3h0m.1-1.5h0m-.3 .1h0m.4-.3h0m.6-2h0m.7-.7h0m-.3 0h0m-.3-1h0m.9 1.3h0m-.2-.2h0m.4-1.7h0m-.3 1.8h0m.4 0h0m.7-1.2h0m.2 .9h0m-.3-2.8h0m.6-.4h0m.4-.4h0m.2-1.3h0m.6 .2h0m.1 .6h0m.9-1.4h0m-1.1-.7h0m.8-.3h0m.3 1.9h0m-.2-1.8h0m.7 .4h0m-.9-.5h0m.5-3.2h0m-.3 .2h0m.6 0h0m.1-.8h0m.2-1.9h0m.1 .8h0m-.8 .3h0m.1-1.3h0m.4 2h0m1-3.9h0m-1.2 .1h0m1.1 .7h0m.1-.9h0m.3-2.7h0m-.2 2.1h0m.1-1.3h0m0-1.2h0m-1 0h0m.6-1.5h0m.5 0h0m.3 2h0m-.1-2.4h0m-.7-1.6h0m0-.3h0m.3 1.2h0m.9-1.6h0m-.4 .1h0m-.5-.1h0m1-.7h0m-.4-3.1h0m.4 2.4h0m-.6-.1h0m.1-2.6h0m1.9 4.1h0m-.9-2.1h0m1.6-.2h0m-.5 2.4h0m.9-1.6h0m.1 .6h0m.5 .6h0m.4-.9h0m-.5-.7h0m-.2-.9h0m1.2-1.9h0m-.7 1.3h0m.5-3.2h0m1.1 1.8h0m.1 1.2h0m-.6-2.3h0m.1 0h0m.4-.4h0m.4 .2h0m.2-1.9h0m.6-.3h0m-.6 1.1h0m-.4 2.8h0m-.3-2.9h0m.9 .5h0m-.7 1.2h0m.1-.5h0m.9 .4h0m0 4.4h0m-.3-1.7h0m.2 0h0m-.9 .4h0m.5-.5h0m.2 1.8h0m-.2 2.2h0m-.4-.1h0m.6 .4h0m-.4-1.1h0m.9 3.3h0m.1 0h0m-.4 .9h0m.5-1.1h0m.1-1.4h0m-1.3 1h0m.9 1.7h0m-.4 .1h0m0 .4h0m.3 1.5h0m.6 1.3h0m-1-1.1h0m-.1 .7h0m-.1-.7h0m.4 3.1h0m-.1-1.2h0m.7 2.3h0m-.7-2.1h0m0 2.5h0m0-1h0m-.3 1.4h0m1.3 0h0m.2 1h0m-.6 .7h0m1.1-.2h0m-.4 .4h0m.5 2.8h0m-.2-2.6h0m.1 3.8h0m-.4-4h0m.6 3.5h0m1-.3h0m-.3 .9h0m.7-.6h0m.2 2.6h0m-.2-2.1h0m-.2 2.6h0m.9-1.3h0m-.5 1.3h0m.6 .1h0m.8-1.1h0m-1 1.5h0m.9 2.2h0m-.2-1.2h0m.5 1h0m-.7 .1h0m.6 2.9h0m.5-2.9h0m-.4 2.3h0m.5-2h0m-.1 3.6h0m.4 .9h0m.1-.6h0m.6 .8h0m.7-.9h0m-.6 1h0m.4 0h0m.3 2.6h0m.4-3.2h0m-.5 2h0m.2 .2h0m0-.6h0m.9 .7h0m.3 2.8h0m.1-.6h0m-.1-1.7h0m-.2 4.1h0m.5-2.3h0m.8 .8h0m-.2 1.2h0m.5-.5h0m-.1 .2h0m.1 3.4h0m.1-.7h0m.9-1.9h0m-.5 2.1h0m.1 .6h0m.8 .6h0m-.4 2.8h0m.5-.9h0m0-.1h0m-.7 .5h0m1-1.8h0m.2 1.2h0m-.2 1.5h0m.1 .6h0m-.3 .8h0m.2-.6h0m.3-.5h0m.9 .6h0m-.2 2.1h0m.4 2.8h0m-.1-2.5h0m-.9 3.5h0m1.1 .2h0m-.9-3.4h0m.2 1h0m.9 .2h0m.5 .8h0m0 1.9h0m-1.2 1.7h0m.7-1h0m.2-.9h0m-.8-.1h0m.9-2.7h0m.2-1.6h0m-.3 .9h0m.4 .4h0m.3-3.4h0m-.5 2.3h0m.5-2.3h0m-.8 .7h0m1.2-.3h0m-.7 1.3h0m.6-3.5h0m0 3.1h0m.3-2.2h0m-.1-1h0m-1-.6h0m1-1h0m-.2-1.8h0m-.4 1.7h0m-.2-1.7h0m.9 0h0m0-2h0m.4 .9h0m-.4-1.5h0m.5-.9h0m-.5 1.7h0m-.1-.5h0m.9-2h0m-.8-.7h0m.5-1.1h0m-.6 1.5h0m.5-3h0m-.1 1.7h0m0 .5h0m.1-.2h0m.6-2.8h0m.4 1.1h0m-1.1 .3h0m1-1.2h0m.1-1.3h0m0 .4h0m-.3-1.5h0m-.6-1.3h0m1 .5h0m0 .1h0m-.6-.9h0m.6-1h0m-1-.8h0m.1-.8h0m.3 1h0m.5 .4h0m-.5-2.2h0m-.2 .2h0m1-2.6h0m-.9 1.7h0m0 .4h0m1-.2h0m-.8-2h0m.7 1.5h0m.1-2.5h0m-.4-.5h0m.2-2.5h0m0 1.7h0m-.4-2.4h0m0 1.1h0m.3-1.8h0m.4-1h0m-.2 1.2h0m-.4 1.9h0m.5-2.6h0m.7 1.7h0m0-3.4h0m-.2-.5h0m.4 .8h0m-.5 1.3h0m-.8-2.6h0m1 0h0m-.8-2.6h0m.6 1.7h0m.6-2.3h0m-.3 2.2h0m1.5-.8h0m0-1.1h0m1.3-1.2h0m-.7-.4h0m.6 .7h0m.6-1.5h0m.4 3.3h0m.1 .1h0m.7-1.9h0m0 .6h0m.1 .8h0m-.6 .4h0m1.3-.3h0m-.4 2.8h0m-.4 .2h0m.8-.7h0m.1 .7h0m-.4-1.2h0m1.2 3.3h0m-.5-3h0m.4 2.8h0m-.7-.4h0m1.6 3.7h0m-.7-4.4h0m.5 1.6h0m-.6 1.4h0m1.3 .4h0m-.8-.8h0m.1 0h0m-.2 .2h0m.4-1.3h0m.9-.5h0m-1.2-1.3h0m.3 2.8h0m.7-3.5h0m-.1-.4h0m0 .6h0m-.6-.6h0m.7-1.1h0m-.1-1.4h0m-.6 .2h0m0 1.2h0m.7-1.7h0m.1 0h0m-.2-3.5h0m-.1 .9h0m.9-.6h0m-1.3 1.3h0m1-1.8h0m-.1 1.2h0m0-.6h0m-.6-1.5h0m.2-.6h0m.8 1.4h0m-.4-2h0m-.2-2.1h0m.4 3h0m-.8-3.2h0m.9 1.1h0m-.1-.8h0m.5-.6h0m.1 .7h0m0-1.2h0m-.7-1.3h0m.8-1.1h0m-1-.7h0m.1-2.5h0m.4 2.8h0m.5-2.5h0m-.7 2.1h0m-.1-2.3h0m.5 2.1h0m-.3-1.3h0m.7 .5h0m.1-5.1h0m0 2.7h0m0-1.8h0m-1-1.4h0m.7 1.3h0m-.5 .7h0m.1-2.4h0m.6-.3h0m.2-.8h0m-.9 0h0m.3-2.7h0m.2 1.9h0m-.2-.9h0m.9-.2h0m-.1-.2h0m.1-1h0m-.3 1.2h0m-.1-2h0m.5-1.4h0m-.7 1.1h0m-.2-2.4h0m.1 .5h0m1.2-2.1h0m-.4 3.5h0m-.1-3.2h0m-.1-1.4h0m.2 1.6h0m.5-1.1h0m-.2-.2h0m-.5-.2h0m.2-.6h0m.5-.9h0m-.8-1.3h0m.4 .2h0m.6-.4h0m.1 .3h0m-.1-.5h0m-.1-2.1h0m.6-.7h0m-.2-1.6h0m-.6-1.1h0m1.2 2.3h0m-1.2-2.5h0m.2-.6h0m.5 .8h0m.4 2.3h0m.5-1.5h0m0-2.1h0m.1-.7h0m-.6 2h0m-.4-1.6h0m.6-1.7h0m-.1 1.7h0m-.4 .7h0m.6 2h0m-.3-1.8h0m-.2 1.6h0m.5 .6h0m-.1 1.1h0m.7-.3h0m-1.1 .1h0m1.1 1h0m.1 2.8h0m-.4-2.1h0m.1 1.5h0m.2-.5h0m-.5-.4h0m0 1.9h0m1.1 .3h0m-1.3 .2h0m1.1 1h0m.2-.3h0m0 1.2h0m-.1 .8h0m.4-1.4h0m-.4 3.5h0m-.1 .6h0m-.3-3.5h0m.7 2.3h0m-.3 .3h0m-.4 1.1h0m.1-.3h0m.4 2.7h0m.3-.6h0m.1-1.6h0m-.3 3.3h0m.2 .9h0m.1-.3h0m.1 1.9h0m0-1.3h0m-.6 1.7h0m0-.2h0m.1 1.3h0m-.1-.4h0m-.6 1.6h0m1.2-1.1h0m-.4 3h0m-.1-3.8h0m-.6 2.4h0m.2-1h0m0 1.8h0m.3 .7h0m-.7 1.5h0m1.3-1h0m-.7 2.4h0m.3-.2h0m0-2h0m-.3 1.5h0m.5 .8h0m-1.1 2.3h0m0-.1h0m.4-1.5h0m.2 2h0m-.2 .6h0m.1 .9h0m.4-1.9h0m.5 2.3h0m-1 2.2h0m.1-2.4h0m-.5 1.4h0m.4 .1h0m.8 .8h0m-.8 1.4h0m-.4 .4h0m1.3-.7h0m-.5 .3h0m-.5 1.6h0m0 .1h0m.3 .7h0m.3-1.9h0m-.4 2.8h0m.8-1.5h0m-.1 5h0m.3-1.5h0m-.6 .9h0m.2-2.5h0m-.5 2.3h0m.8 1.4h0m.4 1.9h0m.1-1.6h0m-.7 2.2h0m.2-1.3h0m-.5 1h0m0 .4h0m1.1 0h0m-.2 .6h0m0 1h0m-1 1.4h0m.7-2.5h0m.5 1.9h0m-.6 2.7h0m.7-1.5h0m-.6 1.5h0m.5-.4h0m0 3.2h0m-.7-2.7h0m1 1.1h0m-.7 .4h0m-.3 .7h0m.4 1.9h0m1 .9h0m-.4-1.9h0m.6 2.7h0m.2 .4h0m0-1.1h0m-.7 .3h0m1.4 .7h0m-.4 1.6h0m.4 1.5h0m-.2-2.5h0m.7-1.1h0m-.3 1.8h0m.8 3.2h0m-.6 .2h0m1.7 .5h0m-.4-1.7h0m-.7 1.8h0m.6-2.8h0m.8 1.7h0m-.6 .2h0m.3 1.8h0m.3-1.8h0m-.8 4h0m.9-3.2h0m-.7 4h0m.5-2.1h0m0 1.5h0m-.2 1.7h0m.3 .1h0m-.9-.6h0m.4 2.2h0m.8-.9h0m-.4 1h0m0-.4h0m.5 3.5h0m-.1-4h0m-.1 3h0m-.7 .4h0m1.3 .1h0m-.4-.9h0m-.2 2.7h0m-.5 1.9h0m.7 .3h0m-.5-1.7h0m-.2 .8h0m0 .6h0m.4 2.3h0m1-3.2h0m-.5 1.8h0m-.2 2.1h0m.7-4.1h0m-.5 1.3h0m.1-2.5h0m.2 1.4h0m-.3 1.3h0m-.4-.3h0m.9-4.7h0m.6 .9h0m-.6 1.6h0m-.6-1.7h0m1.2-.5h0m-.6-.4h0m-.1-2.6h0m.8 3.3h0m-.2-1.4h0m-.2-1.5h0m.5-2.2h0m-.3 1.9h0m-.1-3.7h0m-.4 .4h0m1.3-.2h0m-.2-1.1h0m.3 1.1h0m-.7 2.1h0m0-1.1h0m.4-.6h0m-.5-2h0m1-2h0m-.5 1h0m.7-1.2h0m-.8-.5h0m.7-2.2h0m-.1 3.1h0m-.3-2h0m-.3-1.6h0m-.1-1.1h0m.7-.3h0m.3 1.8h0m.3 .6h0m-.6-.5h0m-.2-1.2h0m.4-2.4h0m.1-.1h0m.8 2.3h0m-.1-3.4h0m-.9 .6h0m.1-3.4h0m-.1 3h0m-.1-.7h0m1.4 0h0m-.2-3.3h0m-.6-1.2h0m.8 1.3h0m-.3-.3h0m-.5 0h0m.6 1.3h0m-.3-2.9h0m.1-2.1h0m-.2 0h0m.1-.5h0m.9-.4h0m-1.2 .7h0m1-1h0m-1-1.5h0m1.1 .9h0m0-.3h0m-.3-1h0m.1-1.5h0m-.6 .5h0m.6-.1h0m.8-1h0m-1.3 2.1h0m.8-2.9h0m.5 .2h0m-.1-1.2h0m.2 1.8h0m-.9-2.3h0m.6-.1h0m-.2-1h0m-.5-.8h0m.5 1h0m.6-1.1h0m-.6-1.3h0m0-.5h0m.6-1.4h0m-1.1 1.1h0m.2-1h0m.7-.9h0m.1-1.9h0m-.7 1.3h0m.1-1.1h0m0-2h0m-.3 2.2h0m.1-2.8h0m.5 1.1h0m-.4-1.3h0m-.1 1.2h0m.5-1.3h0m.7-.2h0m-1.3-1.9h0m.5 .2h0m-.3-1.7h0m1.2 1.5h0m-1.3-2.5h0m.1-.7h0m.1 1.5h0m.5-1.8h0m.4 .7h0m0 .7h0m-.3-1.5h0m-.5-.9h0m0-2.5h0m0 .4h0m.4 .8h0m-.5-2.7h0m.5 .2h0m.2-1.1h0m-.1 1.5h0m-.1 0h0m-.5 .8h0m1.2-4.3h0m-.7-.4h0m-.3 2.7h0m.8-2.3h0m.4-1.6h0m-.9 1.5h0m-22.2 40h0m-.1-.3h0m.8-.7h0m-.5-2.4h0m-.1 3.6h0m1-2.2h0m-.6-3.1h0m.3-.5h0m-.3 .3h0m.5 .6h0m0 1.6h0m-.7-2.3h0m1.5-3.3h0m-.9 4.5h0m.8-3.9h0m-.3 .8h0m0-3.3h0m-.7 .9h0m.6 .9h0m0-1.6h0m.1 1.1h0m-.2-2.1h0m.7-2h0m.6 1.1h0m0 .9h0m0-1.4h0m1.6 1.3h0m-.9-2.4h0m1.5 2.1h0m.4-1.1h0m.5 .6h0m0-1.3h0m7.1 15.3h0m-.4 .7h0m.7-3h0m-.1 1.5h0m.5 3.4h0m-.9-1.4h0m.6 0h0m-.3 .1h0m.2 2.6h0m0-1h0m.3-1.8h0m0 2.3h0m.5 2.4h0m-.2-2.3h0m-.7-.1h0m1.2 3.6h0m-1-.6h0m-.3-.1h0m.5-1.1h0m.6-.4h0m-.3 5.4h0m.6-2.4h0m-.1 3.1h0m.1 .6h0m-.2-3.4h0m-.7 4.2h0m1-2.3h0m0 2.1h0m-.7 .8h0m1.1-2.1h0m-.5 4.4h0m-.3-4.7h0m1.8 2h0m-.6 3.7h0m.5-.8h0m-.1-.5h0m0-1.2h0m1.3 3.2h0m.8-1.6h0m-.6 .1h0m.3 .4h0m-.2-2.1h0m1.5 .8h0m.1 1.4h0m-.4-5.3h0m.8 1.7h0m0-1.7h0m1.1 1.8h0m.8-.6h0m.1-.9h0m11.2-52.8h0m-.2 1.5h0m.2-2.5h0m.1 1.4h0m-.1 .6h0m.5 .7h0m.9-.2h0m-1.3 1h0m-.1 1h0m1.4-1.3h0m-.7 3.9h0m0-2.4h0m-.4 4.5h0m-.1-2.4h0m.8 .9h0m.1-.7h0m-.3 .9h0m-.2-.5h0m1.5 1.6h0m-1.1-.5h0m1.1 .6h0m-.5 2.7h0m0 2.3h0m-.5-3.8h0m.7 2.8h0m-.5 2.1h0m.4 .1h0m.8-3.5h0m-1 3.3h0m.5-.4h0m-.9-.6h0m1.2 2.6h0m-1.5 1.7h0m-.1-1.8h0m-.1-1.4h0m-.3-.1h0m0 5.3h0m1.1-2.4h0m-1.2 .2h0m.1 3.4h0m.7-.8h0m-.2-2.1h0m-.4 2.8h0m-.4-1.3h0m-.3 .2h0m.1 .8h0m-.5 1.2h0m0 1.1h0m.5 3.1h0m-.3-2.3h0m0 2.9h0m0-3.5h0m-.8 3.4h0m.4-2.6h0m11.3 10.1h0m-1.6 2.7h0m1-4.6h0m-.5 2.1h0m-.2-.3h0m-.1 2.9h0m.3 1.7h0m1.2 0h0m-.3-.8h0m-.1 1.7h0m-.5 2.2h0m.5-2.9h0m.5 4.1h0m-1-1.4h0m0-2.9h0m1.1 4.2h0m-1.2-2.3h0m1.4 2.2h0m-.6 .6h0m.1-.1h0m-.5 1.2h0m1.2 2.7h0m-.6-2.5h0m-1.1 .3h0m0 3.9h0m.8-5.3h0m-.7 2.3h0m.4 4.2h0m1.2-5.1h0m-.5 3.5h0m-1.5 .7h0m1.4-2.4h0m-1.1 2.3h0m1.3 0h0m-1.6 1.2h0m.3 3.2h0m0-3.1h0m-.1 1.7h0m1 1.3h0m-.8-2.1h0m-1.1 3.4h0m1.2 .5h0m-.6-.8h0m-.2 3.4h0m.6-3.5h0m.1 2h0m-.9 .3h0m-.8 1.8h0m0-1.1h0m1.5 1.6h0m-.5 0h0m-.2-.1h0m-.6 1.3h0m.8 1.6h0m.3-1.5h0m.1 .6h0m1 2.1h0m-.7-3.7h0m.2 4.8h0m-.7-1.4h0m1.2 .7h0m-.8 2.3h0m.9-2h0m.7 3.2h0m.4-3.9h0m0 5.5h0m.5-1.9h0m0 2.9h0m-.9-2.3h0m.6-2.7h0m-.5 1.9h0m.4 3.6h0m-.2-3.4h0m.2 2.8h0m1.7 1.8h0m-.4 .7h0m0 .7h0m.4-1.1h0m-.2 .8h0m-.9 0h0m.2 2h0m1.4 2.1h0m.3-2.6h0m-1 .4h0m1.3 1.3h0m-.5-.4h0m-.2-2.2h0m-.7 4.6h0m.2-.7h0m1.3-.7h0m-.8 .3h0m.3 4.6h0m.6-1.6h0m.3-1.5h0m-.1 1.9h0m-.7 2.2h0m1.1-1.1h0m-.1 .2h0m.6 1.9h0m-.9-1.1h0m.6 1h0m1.1 1.8h0m-.1 1.6h0m-.5 .1h0m.1 1h0m-.3-5.6h0m1.4 3.1h0m-1.1 .5h0m1 1.5h0m-.6-2.1h0m.4 3.1h0m-.2-2.7h0m.9 4.4h0m-1.1 .4h0m1.4-.5h0m.6-.1h0m.3 1h0m-.9 .4h0m.6-.7h0m0 3.1h0m1-4.3h0m-.9 .6h0m1.1-.1h0m.5 .3h0m.3-1h0m.7-1.3h0m-1-.6h0m1.3-2.5h0m.2 2h0m-.6-2.1h0m2.1 2h0m-.5-.2h0m1.2 1.2h0m-.1 1.7h0m.1-2.2h0m1.4-2.4h0m0 1h0m-.3 2.4h0m2.6-1.1h0m-.1-2.1h0m0-.3h0m-.7 2.6h0m-148.1-21.4h0m-6 7.8h0m3.3-6.6h0m.1-6.6h0m1.8 8.4h0m4-12.4h0m-5.6 20h0m1.1-10.2h0m.8-12h0m-.2 29.5h0m2.4-13.3h0m-1.7 15.3h0m1.9-22.3h0m-.7 5h0m-2.8-21h0m3.7 29.5h0m-1.2 1.8h0m-3.8-22.2h0m-3.7 20.1h0m6-22.2h0m-1.2 31.5h0m5.9-24.1h0m-3.5 5.1h0m1.9 7.9h0m-2.7 2h0m-4.5-12.2h0m2.3 15.3h0m-.5-32.1h0m1-1.3h0m-2.1 6.4h0m5.9 9h0m-5.2-7.2h0m5.5 12.5h0m-3.7 9.4h0m-1.6-33.3h0m6 12h0m-2.9 12h0m-2.8-16h0m-1.6 29.5h0m2.7-4h0m-1.4-2.8h0m.7-3.7h0m-1.6 .9h0m-1 12.8h0m5.3-19.8h0m0 16.8h0m-3.9-12h0m-2 4.5h0m1.6-29.3h0m3.7 24h0m-1.6 9.4h0m6-26h0m-4 29.2h0m-4.7-29.2h0m7 11.9h0m-7.1-15.6h0m1.5 14.8h0m-1.2 2.9h0m.7-20.4h0m0 20.6h0m1.2 .1h0m-.4-1.8h0m-.6 2.2h0m4.7-.6h0m-4.7 18.1h0m-.2-16.3h0m2.2-17.3h0m-4.3 3.9h0m6.6 23.5h0m-5.3-8.9h0m1.3-1.9h0m2-20.4h0m-4.1 10h0m5.7-8.9h0m-2.5 23.2h0m4.3-13h0m-4.5-7.9h0m4.4 32.8h0m-2.9-12.4h0m-.2-4.6h0m-2.6-.6h0m4.1-19.1h0m-3 22.6h0m3.6 11.1h0m-4.4-7.9h0m.8-27.5h0m3.4 19.5h0m.6-4.1h0m-6.5 10.2h0m3 14.6h0m5.7-24.4h0m-6.5 6.1h0m2 2.7h0m2.4-17.9h0m-5.9 9.9h0m2.8 5.9h0m2.5 6.2h0m-2.4 2.1h0m3.3 .7h0m-.9-1.7h0m1 9.5h0m-2.3-19.9h0m-.7-9.1h0m-1.4 .4h0m.7 20.3h0m-.9-3.6h0m-1.4-26.7h0m-.2-2.1h0m1.1 24.4h0m4.8-17h0m-2.1 30.1h0m3.7-31.5h0m-3.5 13.2h0m-3-3.8h0m.5-6.1h0m1.4 11h0m1.6-6.7h0m1 1.6h0m-3.7 18.8h0m-1.1-13h0m4.2-18.3h0m-3.6 20.2h0m3-21.7h0m-2.4 10.2h0m1.7 23.9h0m1.6-28.2h0m-.9 6.3h0m-1.3-8.1h0m-1.3 4.7h0m.5-3.1h0m1.2 4h0m-.5 .3h0m.9-13h0m-3.2 6.4h0m4.2 1.5h0m-1.3 3.1h0m-2.2-3.7h0m1.1-7.8h0m-1 6.8h0m-1.6 1.7h0m-.2 7h0m.6-8.9h0m2.1-5.5h0m-.6 8.5h0m.7-6.5h0m-2.4 11.2h0m3.3-10h0m8.5 2.2h0m-.1 12.9h0m-1.8-14.2h0m3-3.2h0m-1 11.3h0m1.2-14.3h0m2 .8h0m-2.2 14.3h0m1-16.9h0m-2.4 26.9h0m2.1-11.2h0m-2.1-7.6h0m-5.3-9h0m6.7 25.2h0m.1-16.6h0m1.9 6.1h0m-8.7 3.8h0m1.7-12h0m4 15.3h0m1.4 .6h0m.8-4.9h0m-1.2-8.5h0m-2.1 7h0m1.1 7h0m1.7-2.8h0m-7.4 2.7h0m3.3-9.3h0m4 17.8h0m-1.6-1.1h0m-2.7-15.4h0m.2-3.9h0m-.4 16.8h0m2.2-14.2h0m2.3 17.3h0m-.2-18h0m-1.6-5.4h0m2.1 6.1h0m.8 10.7h0m-5.4 8.1h0m3.4-28.3h0m1.2 11.2h0m-3.1-5.6h0m2.2 5.5h0m.3 5.7h0m-1.7-12.2h0m2.7 10.9h0m-4.3-9.5h0m-3.3-7.7h0m2.1 7.6h0m3.1 2.3h0m.7 3.9h0m-1.3 13.2h0m1.1-21.7h0m-3.1 8.3h0m-1.8-5.3h0m5.7-8.6h0m-2 12.7h0m0-8.6h0m1.8 7h0m-1.3 2.8h0m5.1-9.1h0m-2.9 22.7h0m-.9-15.5h0m-2.1-.2h0m.6 18.3h0m-1.6-25.4h0m2.4 9.4h0m4.5 3.1h0m-8.5-32.3h0m7.6-25.6h0m-.2 26.2h0m-2.3 13.6h0m-2.8-44h0m7.3 19.1h0m-5.6-14.8h0m4.6 16.3h0m3.7 2.3h0m-12.1 12.2h0m-.1-14h0m1 8.8h0m7.5 16.3h0m3.7-14.5h0m-9.3-3.3h0m1.7-10.9h0m2.7-3.8h0m-1.2 10.2h0m1.3-2.3h0m-1.8 24.5h0m-.2-5.1h0m.3-22.7h0m-4.9 20.6h0m5.5-37.6h0m.6 3.6h0m2.3 40.4h0m-6.2 1.4h0m-1-14.2h0m8.2-32.7h0m-9.6 46.8h0m5.3-6.7h0m-1 .4h0m-1.6-7.6h0m1.1-25.1h0m3 37.9h0m-2.5-26.2h0m2.4 7.8h0m-5.3-8h0m2.8-8.7h0m-4.3 11.3h0m3 21.4h0m5.5-4.8h0m-3.3-4.9h0m-.1 4.2h0m-3.1-11.4h0m3.9-3.1h0m.9-1.4h0m-3.1 2.3h0m.2 5.3h0m-1.8-27.5h0m3.6 41.5h0m-.8-12h0m-1.6-8.7h0m6.2-11h0m-4-1.5h0m1.6 4.3h0m.5-.3h0m-9.9 20.5h0m8-2.4h0m-1.4-11.1h0m.6 19h0m-2-37.4h0m3.2 6.1h0m-.9 21.3h0m-5.3 7.2h0m3.9-11.6h0m-2.4-15.9h0m-1.3 27.4h0m5.4-29.5h0m-2.9 4.2h0m-4.9-10.4h0m8.1 34.9h0m-1.3-13.6h0m-.8 18.3h0m2.8-17.9h0m-4.2-1.9h0m-.7 13.3h0m2.4-10.3h0m2.3-2.1h0m.2 22.3h0m-6.1-36.6h0m1.3 22.3h0m8.4-13.6h0m-12.4 1h0m5.8 2h0m-.3 3.3h0m2.3-5.2h0m-7 23.6h0m4.8-27.7h0m1.1 13h0m-4.2 7.4h0m-1.9-25.2h0m6.3 38.2h0m-.3-44.4h0m-2.2-3.1h0m2.7 23.7h0m-1.1-23.2h0m-2.3 13.3h0m7 24.3h0m-2.2 8.3h0m-5.4-33.7h0m2 21.5h0m3.9-24.7h0m-4 8.6h0m.7 8.8h0m2.1 5.4h0m-.7-14.9h0m1.7-14.9h0m-2.7 19.9h0m4.4 13.7h0m-3.1 1.7h0m3.2 4.6h0m-1.8-30.6h0m-2.8-7.5h0m2.7 17.6h0m-2.2 8.8h0m2.5-6h0m-2.4 6.9h0m6.5-10.6h0m-5.6 16.9h0m-2.9-16.7h0m3.9 2.1h0m.5 6.6h0m-4.4-24h0m4.2 2.7h0m-.3 15.8h0m5.5 9.5h0m-9.6-5.9h0m-4.4-2.9h0m5.7 2.9h0m-.8 15.6h0m8.8-6.5h0m-3.2 .5h0m-1-37.2h0m.7 22.4h0m-4.3 15.6h0m2.9-13.3h0m2.9 9.7h0m-3.7-11.7h0m.3-14.4h0m3.4 23.4h0m-2.7-23.9h0m-8-4.1h0m7 16.6h0m.9 4.9h0m-2.3-1.4h0m2-.9h0m-.3-20.6h0m-3.6 24.5h0m6.9 12.2h0m-8.2-6.9h0m0-24.4h0m1.7 24.7h0m3.1 13.1h0m-3-24.3h0m2 12.5h0m1 9.9h0m-3.4-14h0m.3-3h0m-5.1-13.5h0m7.6 22.5h0m-2.2-.3h0m-1.2-9.6h0m5.7 1.6h0m-3.8-27.6h0m3.4 44.1h0m-7.9 1.7h0m1.7-10.9h0m5.1-14.1h0m2.1-13.8h0m-1 13.3h0m-.7 14.1h0m-3.7-13.7h0m-1.3 2.4h0m3-14.5h0m5.5 34.1h0m-7.6-24.2h0m1.7 22h0m1.3-19.5h0m-1.8 17.9h0m-1.2 6.6h0m1.3-13.5h0m-1.3 1h0m-.2-16.7h0m3.7 7.8h0m.8-4.8h0m-6.3 8.6h0m15.4 14h0m.5-10.6h0m-.5 2.1h0m-3.4-10h0m2.8 15.7h0m.7-.6h0m-.5 .2h0m-4.4 3h0m6.3-31.3h0m-6.8-6.5h0m.6 15.9h0m9-14.8h0m-6 18.4h0m3.9-8.8h0m-10.3-6.4h0m1.9 6.6h0m-2.2 26h0m4.1-16.9h0m2.4 5.4h0m.7-13.2h0m1.8-1h0m3.6 14.6h0m-2.4-22.1h0m-6.9 15.4h0m6.8 20.7h0m-2.9-34.8h0m1.5-4.4h0m1.7 37.7h0m-11-33.1h0m9.7 19.5h0m-3.3-.7h0m4.4-9.8h0m-7.4 8.5h0m6.1-15.7h0m6.1 13.7h0m-5.3 2.4h0m-1.4-5.2h0m5.4 1.6h0m-8.1-8.7h0m1 9.4h0m1.6-11.1h0m-2.6 22.7h0m-.6-23.6h0m2.6 6.6h0m-7.8 15.2h0m4.6-17.1h0m1.7 12.6h0m6.6-1.4h0m-4.6 14.6h0m-6.1-38.8h0m12.2 24.8h0m-6.7-21.9h0m2 16.2h0m-6.8-12.7h0m4.1-5h0m-3.2-.3h0m5.4 20.4h0m-4-4.9h0m-.3 8h0m11.1 8.1h0m-9.2-4.3h0m1.6-14.3h0m3.9 9.1h0m-9.2 13.3h0m11.5-29.4h0m-7.8 12.3h0m3.1-7.1h0m5.1-1.9h0m-11.4 15.1h0m7.3-19.4h0m-8.3 28.7h0m-3.5-15.3h0m12.4 2.7h0m-7.2-17.5h0m4.2 27.7h0m-4.3 5.2h0m2.1-18h0m3.3 9.7h0m-.1-23h0m-4.9 8.7h0m1.9 10.2h0m8.1-1.1h0m-7.6-7.1h0m.7 3.9h0m-4.1 14h0m8.2-18.6h0m-1.6-14.8h0m2.2 12.6h0m-5.5 8.7h0m.9 14.6h0m-1-37.6h0m1.5 25.5h0m-.4-20.8h0m5.3-4.2h0m-8.4 19.2h0m6.3-15.5h0m-7.7-2.5h0m12.1 26.3h0m-3.9-8.6h0m-5.2-15.9h0m-1.1 18.8h0m1.7 17.6h0m-3.4-2.6h0m2.6-24.7h0m1.2 23h0m-2.9-.8h0m-2.6-17.1h0m5.1 19.8h0m-1.2 .5h0m1.6-9h0m4.3-6.8h0m1.9 5.5h0m-10.5-18.2h0m6-6h0m1.2 19.3h0m-8.2-17.7h0m6.8 14.6h0m-9.8-.3h0m11.4-16.6h0m-5.3 10.5h0m-6.1-12.1h0m10.8 .5h0m-5.9 18.8h0m9.1 4.7h0m-14 8.8h0m2-4.6h0m3.4-12.2h0m-2.4 21h0m7.8-17.5h0m-1.2 8.5h0m-3.1-12.2h0m4.1 19h0m-7.4-3.2h0m6.5 5.7h0m-.8-37.8h0m-3.8 16.8h0m6.3-12.3h0m-.4 11.9h0m3.3 9.7h0m-14.3-24.3h0m.6 3.4h0m8.4 18.3h0m-1.7 7.2h0m1-7.6h0m1.6-13.2h0m7.1 26.4h0m-8.9-8.9h0m.5-7.5h0m-2.7 3.9h0m4.2-16.2h0m-5.1 30.7h0m.1-7.2h0m.3-13.1h0m7.1 15.3h0m2.2 10.1h0m-3.5-1.2h0m-1.1-9.1h0m1.4-.6h0m-.5 10.6h0m-.5-6.7h0m.7 1.9h0m-1.2 1.3h0m3.6-.7h0m-4.9-7.3h0m2.9-1.4h0m-.8 1.2h0m1.1-.2h0m.9-.8h0m-1.1 12.3h0m-.9 1.7h0m3.7-7.4h0m-2-.5h0m-2.5-3.1h0m3.1 9.3h0m.5-6.9h0m1.2 5.8h0m-4.2-2.6h0m2.9 3.8h0m91.2-69.1h0m-3.2-7.3h0m2.8 9.9h0m-1.2 24.8h0m2.5-24.5h0m3.1-8h0m-1.5 6.3h0m-.7-14h0m1.9 26.7h0m-3.3-7.9h0m2.4-15.6h0m-6.2 28.7h0m2.3-25.3h0m-.2 14.7h0m5.5 15.6h0m-4.3-11.8h0m1.4 4.5h0m-.7-10.2h0m.2-10.5h0m.1 8.3h0m-2.2 1h0m1.1 1.2h0m1.3-20.6h0m-5.5 20.5h0m-.6-6.4h0m2.4 25.3h0m2.9 .6h0m3.2-22h0m-2.4 21.9h0m3.8-12.4h0m.1 13.3h0m-9.5-14.7h0m4.4 5.2h0m1.2 12.4h0m-5.1-40.6h0m4.3 26.9h0m-.3 1.8h0m.6-27.9h0m-1.5 14h0m1.4 2h0m5.1-6h0m-1.5 26h0m-5.7-22.2h0m-.1 2h0m.4 14.9h0m-2.3-5.8h0m7.1-9.6h0m-1.3-13.3h0m-2.5 3.2h0m3.5 1h0m-2.3 28.4h0m5.7-30.9h0m-5.6 10.8h0m3.3 7.2h0m-1.6 17h0m-7.8-40.3h0m0 20.3h0m1.7-23.2h0m7.7 12.3h0m-2.5 8.6h0m-.6 .5h0m2.9-14.8h0m-6.3 14.2h0m.7 10.1h0m-.1-2.9h0m7.2-18h0m-10.7 12.7h0m3-2.9h0m4.5 17.9h0m-2-15.4h0m-3 15.4h0m.7-39.5h0m6 33.4h0m-1-25.2h0m-4.5 7.8h0m1.3 5.4h0m.9 14.5h0m1.8-29.5h0m-3.6-1.3h0m1.6 2.7h0m.6 .7h0m-3.8 11.7h0m.9 22.9h0m8.3-34.4h0m-5.3 15.7h0m-2.9-18.6h0m.6 4h0m3.6-7.2h0m-1.5-3.6h0m-.1 33.1h0m-.3-16.7h0m1.8-1h0m-3.1 13.1h0m3.8-8.7h0m.6 20h0m-5.1 6.7h0m5.5-18.3h0m-9.3 17.8h0m4.6-19.3h0m2.7 10.1h0m-4.2 8.2h0m5.7 .5h0m-1.4-21h0m.5 22h0m2.8-32.7h0m-1.1 23.4h0m-.8-2.3h0m.7-28.3h0m2 22.7h0m-10.1-19.7h0m5.8 12.3h0m-2.9 10.7h0m-2-9h0m4-9h0m5.4 10.9h0m-3.8-7.4h0m-5.7 5.4h0m-.2-23.4h0m-.6 43.8h0m4.7-18h0m1.8-5.1h0m-6.6 23.3h0m5.2-5.3h0m-1.4-33.5h0m2.4 31.5h0m-1.4 5.1h0m2.6-17.9h0m-2.1 22.3h0m0-31.9h0m-1.2 10.3h0m-1.5-8.7h0m2.7-14.8h0m2.3 35.9h0m-2.6-17.4h0m.7 15h0m.7 2.5h0m-2-30.7h0m-2.8 13.7h0m2.3-16.8h0m-1.1 8.3h0m-1.9 29h0m8.7-28.4h0m-6.1 15.6h0m2.2 4.6h0m.8-13.3h0m-2.2 18.8h0m-3.8-31.4h0m3.1 17.3h0m2.8 0h0m-2.7 10.7h0m-4.2-1.2h0m8.8 12h0m-2.6-40.5h0m.8-5.2h0m-3.2 9.4h0m4.4 5.2h0m-1.6 22.1h0m4.3-20.4h0m-9.2-5.3h0m.4 7.7h0m6 .1h0m-3.6 4.9h0m2.2 2.4h0m-.6 15.3h0m4 3.9h0m-7.2-1h0m-1-19.9h0m-1.6-13h0m1.8-5.5h0m2.9 20.6h0m-1.4-3.4h0m5.9 18h0m-5.6-30.6h0m4-6.5h0m-2.7 2.6h0m2.7 36.8h0m-5.7-18.7h0m4.1 7.8h0m.5 .2h0m-4.1-7.2h0m4.4-16.3h0m1.9 14.7h0m-2.7-10.7h0m-2.7-4.9h0m-.1 3.2h0m-.5 4.7h0m3.3 12.3h0m-6.8 31h0m3.1-18.9h0m-3.3 9.2h0m.2-4.1h0m2.6 15.6h0m.6-4h0m-2 7.7h0m1.5-18.7h0m-2.5 16.2h0m2-8.5h0m-.5 8.9h0m-.1-13.3h0m2.7-8.4h0m-3.5 10.1h0m.8 .9h0m-2.1 11.8h0m.9-15.3h0m.8-3.1h0m-.6 14.3h0m1.4-16.7h0m-1.7 11.9h0m.5 11.8h0m1.8-20.8h0m-1.2 14.5h0m.3-3.1h0m-.8-12.3h0m1.7 8.8h0m-3.9-8h0m2.5 14.8h0m.7 5.6h0m14.2 44.6h0m2.1-30.1h0m1.3 46.6h0m4.1-22.2h0m-3.7-.7h0m5.3-4.7h0m-9.2 7.7h0m9.7 19.6h0m-4.9-1.4h0m-6.8-13.5h0m7.9 4.6h0m-1.5-8.3h0m1.7 24h0m0-36.3h0m-3.5 27.2h0m4.6-18.3h0m2.7-7.2h0m-2.9-7h0m-3.6 41.6h0m-.3-38.2h0m4.3 38.2h0m-4.2-25.2h0m.6-9.8h0m8.5 4.7h0m-5.6 21h0m1.2-15.7h0m1.8 1.2h0m-8.3 25.4h0m5.5-35.7h0m-2.5 9.4h0m1.4 21.3h0m0-12.2h0m-6.3-14.9h0m10.2-10.9h0m1.7 17.6h0m2-13.6h0m-5.8 3h0m.4 23.7h0m-1.9-1.4h0m4.7 6h0m-7.9-15.6h0m3.9-2.4h0m-1.2 20.6h0m4.1-40.8h0m-5.3 10.3h0m2.2 3.1h0m-2.2 13h0m2.5-15.1h0m-1.4-2h0m1 31h0m1.9-19.9h0m-.7-.9h0m-5.3-8.7h0m-2.2 11.4h0m-.1 17.9h0m5.2-41.2h0m-2 22.9h0m5.5 1.8h0m-2.9-3h0m1.9-17h0m-3.1 10.7h0m2.9 11h0m-8.4 14.5h0m7.6-12.5h0m-1.3-10.1h0m-3.3 12.6h0m9.2-14.9h0m-7.1-.8h0m1.7-5.2h0m-1.2 35.6h0m-2.5-8.9h0m-3-33.6h0m4.3 29.7h0m1.6-12h0m-.7-.4h0m8.1-16.5h0m-9.5-2.8h0m1.1-2.4h0m-5.7 38.7h0m9.4-33.6h0m-5.9 30h0m-1.3-12.8h0m8.4 13.9h0m-4.8 9.3h0m2-24.2h0m-2.2 .6h0m4.8 11.1h0m-7.9-12.4h0m4.3-11.5h0m4.6 39h0m-2.8-20h0m-5.4-5.2h0m-3.4-24.1h0m9.4 7.3h0m4.3-.6h0m-.6 18.9h0m-1 5.1h0m-8.4-18.3h0m-1-9.2h0m4.4 17.7h0m-4.8-6.5h0m4.4-8.2h0m-136.4 44.7h0m0 8.1h0m-.2 8.1h0m-1.1 8.3h0m-1 5.4h0m139.4-21.5h0m0 9.4h0m-6.1-18.8h0m0 4.3h0m0-15.1h0m-2-49.9h0m0 8.1h0m.7 10.8h0m-2.7-79.5h0m1.3 9.5h0m1.4 9.4h0m-1.4 7.4h0m-11.4-33h0m27.1 128.9h0m.8-1h0m.8-.7h0m.7-1.1h0m.6 0h0m.5-.8h0m1 1.1h0m.3-1.1h0m.5 .9h0m1.3-1.6h0m-.4 .8h0m1.2 .2h0m.6 0h0m.9-.2h0m.6-.2h0m.6 1.2h0m1-.1h0m.5-1.2h0m1.2 .1h0m.1 .3h0m1-.9h0m-.1-.1h0m1.1-1.3h0m.1 .9h0m.3-1.9h0m.4 .6h0m.9 1.2h0m-.5-.5h0m1.6 .3h0m.6 2.2h0m.8-.7h0m.3 1.9h0m.1 .2h0m.7 .8h0m-.5 0h0m.5-.2h0m.1 1h0m.8 1h0m.4 .4h0m1.6 .4h0m-.9 1.2h0m.5-1.1h0m1.5 .9h0m-.1 1h0m.8 .8h0m.7 .8h0m-.2 0h0m1.4-.3h0m-.7 1.7h0m.4 .7h0m.2-.1h0m-.1 .4h0m.8 1.1h0m-.1 .1h0m-.4 2.4h0m.6 .7h0m.8-.3h0m.1 1.6h0m.1 .4h0m-.1 .1h0m0 1.6h0m-.4-.3h0m.8 .6h0m.2 .1h0m-.1 2h0m0 .9h0m.3 .6h0m-.4 0h0m1 1h0m-.3 .3h0m.4 1.3h0m-.2 1.2h0m-.3 .5h0m-.4-.9h0m1.6 1.5h0m-.4 1.7h0m-.5 .2h0m.7-.4h0m.3 1.4h0m-.1 .4h0m-.2 1.6h0m.4-.7h0m.7 1.7h0m-.6 1.2h0m-.7 .1h0m1 .5h0m-.3 .3h0m.2 .2h0m.3 2.2h0m-.2 .3h0m.3-.4h0m0 2.5h0m.5-.3h0m-.3 1.4h0m.1 .4h0m.1 0h0m-.1 1.8h0m0 .2h0m-.4 .9h0m.6 .6h0m.4 .9h0m-.6-.8h0m.1 1.3h0m.6 .5h0m.4 1.4h0m-.3 .1h0m.1 2h0m.6-.8h0m.6 .5h0m-.8 .8h0m-.4 1.5h0m.5 1.1h0m.5 .5h0m-.6 .1h0m.6 .4h0m.1 1.7h0m-.2 .3h0m-.8 .4h0m.9 1.8h0m.6 .1h0m-.6 1.1h0m0 .3h0m.9 .4h0m.3 1.5h0m-.2-.6h0m.6 1.4h0m-.2-.2h0m-.4 1.8h0m-.3 .5h0m.3 1.6h0m.6-.3h0m-.1 1.1h0m.2 .9h0m-.7 1.3h0m.5 .7h0m.7-.2h0m-1-.9h0m1.1 0h0m-1 .1h0m.9 1.6h0m-.8 4.4h0m.8-1.1h0m.3 .8h0m0-2.4h0m.7 3.3h0m-1.6 1h0m.9 1.2h0m.7-1.5h0m-.8-.4h0m-.4-2.1h0m1.2 2.5h0m-.5 2.9h0m.1-.8h0m.9 3.3h0m-.6-5.8h0m-1.2 3.3h0m1.6-2.8h0m-.8 4h0m1.3 .3h0m-1.2-2.6h0m.2 2.1h0m.2 1.9h0m.3 1.9h0m-.1-.6h0m-1-2.5h0m.9-2h0m1.2 4.7h0m0 .3h0m-.6-1.2h0m-.1 1.4h0m.8 .3h0m-.1-.6h0m-.4-1.9h0m-1 1.5h0m.9 1.3h0m1.3-3.9h0m-2.5 9h0m2.6-1.6h0m-2.2-5.7h0m1.9 4.2h0m-1.6-2.7h0m2.3 5.4h0m-2.3 .9h0m1.3 0h0m-1.6-4.9h0m1.2-.4h0m0 5.3h0m-.8-3.4h0m2.2 4.5h0m-.4-6.6h0m-2.1 6.4h0m1-1.6h0m.4-1h0m-1.1 5.1h0m.9-.4h0m1.9-5.7h0m-1.5 3.6h0m.2-5.4h0m-1.5 9.3h0m2-1.6h0m-.4 .8h0m.2-6.8h0m-.4 5.8h0m1.8-2.1h0m-.6 5h0m.6 0h0m-3.3-3.6h0m3.5-6.1h0m-2.4 6h0m2.7 4.8h0m-.8-2.3h0m-1.1-6.5h0m-1.6 .8h0m3.4 4.5h0m-.1 6.5h0m-1.8-5.2h0m-1.4 .4h0m.9 4.5h0m-1.1-6.6h0m1.7-2.8h0m-1.3 4.7h0m2.8 5.5h0m-1.7-3.1h0m.3-2h0m.3 7.2h0m-.8-6h0m2.4 6.3h0m-3.3-6.5h0m.7 3.4h0m-.1-2.5h0m-.9 0h0m4.2-5.2h0m0 1.9h0m-.2 7.5h0m-2.2 3.5h0m-1.3-7.2h0m1.3 4h0m-.4-7.1h0m1.7 11.2h0m1.4-7.7h0m-1 2.9h0m-3.2-4.1h0m4 7.8h0m-3.2-5.2h0m.6 .6h0m1.3 5h0m.4-5.1h0m.6 7h0m-1.8-8.3h0m2-4.9h0m-2.4 7h0m.3-3.1h0m-.7 7.2h0m2.6-1.5h0m-2.8-1.5h0m.2 4.5h0m-.5-6.7h0m1 7.9h0m-1.4-5.2h0m.3-1.7h0m2.5 1.5h0m-1.5 3.2h0m1.8-2.3h0m1.3 4.9h0m-3.6-8.5h0m1.4 11.8h0m.9-5.2h0m-1.9-9.7h0m.9 3.7h0m1.1 5.3h0m-2.2-5.1h0m3.9-2.8h0m-2.8 3.1h0m2.4 7.2h0m-2 .3h0m1.7-4.4h0m-3 .8h0m.5-.2h0m1.5 2.3h0m.8-1.9h0m-1.4 2.8h0m.1 4.3h0m1.1-6.7h0m0 7.5h0m-2.3-.6h0m1.8 1.2h0m-.3-12.4h0m1.9 .9h0m-3.3 11h0m3-4.5h0m-2 .7h0m-.7-9.2h0m1.9 10.6h0m2.4-.1h0m-2.7-.9h0m1.4 4.7h0m-2.2-2.4h0m3.4 3.7h0m-3.1-.8h0m1.5-6h0m.3-2.3h0m1.1 9.3h0m.6-9.7h0m-.4 4.5h0m-2.6-7.8h0m3.1 .2h0m-1.8 8.5h0m-.8 4h0m-.7-7.9h0m1.4 2.6h0m-1.2-5.9h0m.1 9.1h0m-.5-9.9h0m-.5 3.6h0m3.8-4.1h0m-2.6 9.6h0m1.8-3.9h0m-2.2-1.5h0m0-3h0m4.1 9.8h0m-.5-11.3h0m-3.7 2.9h0m4.2 1.3h0m-2.3-2h0m1.7 5h0m.3-6.3h0m-1.8 9.5h0m1.6-4.2h0m-3.3 1.5h0m1.6-8.7h0m2.8 10.8h0m-2.1-.2h0m1.3-8.2h0m-2.2-1.1h0m2.4-6.9h0m.2 14.5h0m-.9-12h0m-.7 3.5h0m1.5 1.1h0m-2.1-4.1h0m2 10.9h0m-3-5.6h0m1.4-1.7h0m2.4-3.9h0m.2-3.8h0m-1.2 4h0m-1.2 1.7h0m2.3 2.4h0m-1.9-5.9h0m1.5 4.1h0m.5-2.5h0m-.5 3.4h0m-1.8 3.3h0m-1.6-12h0m1.1 14.2h0m2.7-10.1h0m-3.6-5h0m1 2.3h0m.5 4.4h0m-.7 2h0m1-7.6h0m-.7 8.4h0m2 1.2h0m.1-5.7h0m-1.8-3.9h0m1.9-2.1h0m-1.2 .4h0m-.8 8.9h0m2.4-3h0m-1.6-4.8h0m.4 2.9h0m.5 6.9h0m.8-5h0m-.5-1.1h0m-2.1 0h0m.8-4.7h0m.9-1.7h0m1.1 4.7h0m-.5 4.3h0m-.6-.2h0m.7-6.4h0m.2 3h0m-1.2 1.4h0m2.3 2.3h0m-1.9-6.1h0m-1.9-3.6h0m.3 7.9h0m2-6h0m-.4 2.6h0m-.1-5.6h0m1.7-1.4h0m-2.3 7.2h0m.7 0h0m.5-6.5h0m.5 3.6h0m-2-1h0m1.1-3.3h0m.8 1h0m1.4 4.4h0m-3 2.9h0m.6-4.5h0m2-2.8h0m-.8 3.4h0m-.3-.4h0m-1.3 1.7h0m2.4-2.8h0m.2 1.3h0m-2.1-.4h0m2.1-2.2h0m-.8 3.7h0m-1.6-1h0m-.2-1.6h0m2 4.2h0m.8-5.9h0m-1.8 1.1h0m-.3-4.6h0m1.7 4.3h0m0-1h0m.1-1.3h0m-1.1-4.1h0m2.1 2.7h0m-1.4-3.6h0m-.1 4.5h0m-.8 .8h0m.8 2.3h0m.3-4h0m.8-4.1h0m-.9 8h0m-.2-4h0m-1.2-.5h0m.9-.7h0m1.7-3.3h0m-1.6-2h0m2 9h0m-.5-6.1h0m-.6 .3h0m-.5-1.1h0m.4 .7h0m-.8 3.8h0m.9-5.9h0m.5 .2h0m-.9 4h0m1-.4h0m-.7 0h0m-.3-6.2h0m.5 5.6h0m-.3-5.6h0m1 1.9h0m-.2 .2h0m.5-2h0m.7 2h0m-1.7-4.8h0m.1 2.8h0m.2-.5h0m1.3-2.1h0m-.7-.6h0m1.2-1.3h0m-1.4 3h0m1-1.4h0m-.3-.3h0m.4-.2h0m-.9-1h0m1.3-3.4h0m-.8-.1h0m.2 2.5h0m1.2-1.7h0m-1.1-.2h0m-.1-2.4h0m.7 1.2h0m.6-2.5h0m-.3-.2h0m0-.7h0m.1 .5h0m.7-1.7h0m-1.2-1.4h0m1.7 .2h0m-.9-1h0m.3-1.3h0m-.2-.7h0m.9 0h0m-1-.6h0m1.1-.2h0m-.1-1.5h0m.2-.5h0m-.2-1.3h0m.4-.7h0m-.1-.8h0m.2-.9h0m.9-.4h0m.3-.8h0m-1.3 1.1h0m.7-1.7h0m-.3-.2h0m1.1-1.5h0m-.2 .4h0m0-.4h0m.4-2.3h0m-.9 .7h0m1.1-1.1h0m.2-.5h0m-.4-.9h0m.8-.5h0m-.5-1.5h0m.2 .1h0m.3-1.4h0m.1-.7h0m.3-.2h0m.2-1.9h0m-.3 .1h0m1.2 0h0m-.9-.1h0m.9-.7h0m.2-.9h0m.7-.2h0m-.7-1.1h0m-.7-2.2h0m1.5-.2h0m-.3 .6h0m.2-2.1h0m.5 1.4h0m.3-2.4h0m-.3-.4h0m-.3-2.2h0m.2 .1h0m1.2-1.5h0m0-1.7h0m-.9 .7h0m0 3.4h0m.9-2.3h0m-.5 .7h0m.4-.9h0m.7 1.3h0m-.1-2.6h0m-.1-4h0m-.2 6.9h0m0-.9h0m1.2-4h0m0 1.5h0m1.2-5h0m-.3-.1h0m-1.4 2.6h0m1.6-1.3h0m-.4 .7h0m1.2 .7h0m.3-2h0m.4-3.1h0m-.4 3.8h0m-.5-1.5h0m.3-1.7h0m1.2 5.7h0m.1-5h0m-1.7 4.1h0m1.7-3.5h0m-.2-2.4h0m-.3-3h0m.1 8.5h0m-.3-8.5h0m1.3 8.1h0m.1-1.7h0m-1.5-1.5h0m2.2-1.5h0m-.9-.2h0m-1.3-1.7h0m2.6 1.6h0m-2.5-5.9h0m1.2 5.2h0m-.3-4.5h0m1.7-1.6h0m.2 5.2h0m-.6 2.4h0m0-2.3h0m.2 3.1h0m.2-.3h0m-.1 1.2h0m-.2-3.8h0m.8 3.6h0m-1.9-5.3h0m1.3 0h0m1.4-3.7h0m-1.4 1.2h0m.7-1.9h0m-1.3 .9h0m-.6 2h0m3.2 1.9h0m-2-2.7h0m2-1.6h0m-.6-1.7h0m-1.1-.8h0m.3 9.7h0m2.1-3.8h0m-1 4.2h0m-.3-6h0m-1.6-5.1h0m.9 .8h0m2 2.7h0m-2.4 5.3h0m-.6 4.2h0m.4-6.3h0m.6 2.2h0m.7-6.8h0m.3 1h0m.5 4h0m-2.1-3.7h0m2.9 .9h0m-1.2 .7h0m-1.2 .3h0m-.3 8.1h0m.7-2.1h0m1.8-3.9h0m.4 3.4h0m-1.5 .4h0m-1.3-.3h0m2.3-.1h0m-.3 2.4h0m.4-4.9h0m.6 4.3h0m-1.6-1.7h0m-.5-1.9h0m2.2 7.5h0m-.5-4.5h0m-1 1.6h0m-1.9-4.2h0m3.9 6.6h0m-2.7-7.5h0m1.8 5.4h0m-2.9 0h0m1-6.3h0m2.9 5h0m-.3 .6h0m-3.1 6.9h0m.6-3.8h0m.2-7.7h0m1.8-.4h0m-2.3 3.3h0m2.5 6.2h0m-3.2-3.7h0m3.8-.4h0m.4-.7h0m-.7 3.9h0m0-5.6h0m-2.6 5.8h0m3 5.7h0m-2.6-5h0m0-2.5h0m-.2 1.5h0m-.1-2.4h0m3.1-2.6h0m-.1-2h0m-.8 3.8h0m.4 3.7h0m-.4-.8h0m.5 8.7h0m-.7-13.3h0m1 9.3h0m-3.4-1.1h0m-.6 4.9h0m.7-6.5h0m3.4-2.9h0m-1.6 .8h0m-1.6 1h0m-.6 8.1h0m0 .7h0m2.1-11.2h0m1.5 10.4h0m-1.7-10.7h0m2.2 .4h0m-3.7-3.1h0m3.8 6.8h0m-3.2-1.7h0m3 2.4h0m-1.8 3.4h0m-.6-.6h0m-1.3-5.2h0m1 2.9h0m-.6-2.6h0m.5-6.5h0m-.1 13.7h0m3.4-7.3h0m-2.9-6.9h0m1 4.7h0m-2.4 6.8h0m2.1 .8h0m0-9.8h0m.9 1.8h0m-.9 3h0m.3-5.2h0m-1 5h0m.1-1h0m2.5-.3h0m-3.5 .6h0m4.2 0h0m-2.8-1.6h0m-.6 6.9h0m2.5-7.4h0m-1.8-3.2h0m2.6 7.6h0m-3.4-6.3h0m-.6 2.5h0m3.2-5.7h0m-1.5-1.2h0m-.9 8.6h0m1.7-5.1h0m-2.4-5.2h0m4.2 8.1h0m-1.2-5.5h0m.3 6.7h0m.6-11.6h0m.1 7.5h0m-3.8-.5h0m2.5 2.2h0m-2.6-2.5h0m2.4-5.8h0m-1.9 6.8h0m.8-2.2h0m-.1-.1h0m.3 1.5h0m1.8-1.3h0m.9 6.2h0m-3.6-4.1h0m.2-5.6h0m.9-.1h0m-.1 3.2h0m3.2-.9h0m-4 .8h0m4.1 4.6h0m-3.5-10.6h0m3.4-2.6h0m-3.4 8h0m1.6 1.2h0m.2-5.3h0m.8 9.2h0m-2.7 1.4h0m1.1-11.6h0m1.1-1.1h0m.2 .3h0m-2.5 6.7h0m1.9-4.2h0m1.5 8.2h0m-3.5-9.7h0m-.4 3.9h0m2 6.2h0m-.7-15.7h0m-.3 10.6h0m-.4-5.4h0m.5 7.3h0m.8-7.3h0m1 6.2h0m.2 1.5h0m.6-.9h0m-2.3-7.3h0m.5-3h0m1.9 9.5h0m-.1-11.2h0m-3.3 6.1h0m.7-7.2h0m.9-.8h0m.8 14.1h0m-1.7-2.5h0m1.7-11.3h0m-2.6 2.4h0m2.1 10.2h0m-1.6-9.7h0m2.8 8.6h0m-3 1.3h0m4.4-1.9h0m-3-4.2h0m2.7-1.9h0m-2.7-7.4h0m2.9 11.6h0m-3.6-8.2h0m-.2-2.5h0m1.8 10.9h0m-1.4-4.9h0m2.6-7.5h0m-.5 9h0m0-1.6h0m-1.8 6.7h0m3-15h0m-2.1 9.9h0m1.4-4.1h0m-1.2 4.8h0m2.3-4.8h0m-.6 .5h0m-.5 0h0m-1.4-3.5h0m2.4 6.7h0m-2.2-7.6h0m1.3 0h0m-1.5 10.5h0m1.2-8.8h0m-1.2 3.5h0m1.8-2.1h0m-.9 4.1h0m.8-12.1h0m-.9 9.8h0m1.7 3.2h0m-2.8-4.1h0m-1.3-1.6h0m.5 .6h0m.1-1.6h0m1.1-4.1h0m.3 2.4h0m-1.2 7.2h0m-.2-9.3h0m.1-.8h0m1.2 1.7h0m-1.7-3.8h0m3.4 3.7h0m-.4 3.8h0m-2.1-9.7h0m-.1 10.3h0m1.5-5.3h0m-.4 2.1h0m-.9-2.2h0m-.6 1.8h0m-.3-6.9h0m1.3 5.7h0m-.9 3.3h0m1.1 2.5h0m.5-2.1h0m1.1-3.4h0m-2.8 6h0m3.4-7.3h0m.1 .2h0m-.8 .4h0m.6-1.5h0m.4 2.9h0m-.5 4.5h0m-2.6-7.9h0m2.2-5.1h0m.2 9.3h0m-1.9-7.1h0m-.4 6.5h0m1.3-6h0m-.5 2.4h0m-1.2 1.1h0m.1 2.8h0m2.3-1.8h0m-1.4-9.2h0m1.4 7h0m-.9 2.5h0m.1-1.3h0m.7-7.9h0m-2.2 6.1h0m0 1.4h0m1.7-.3h0m1.4-5.2h0m-.2-1.3h0m-2.5 1.4h0m1.4-.4h0m-1.6-4.7h0m2.6 8.3h0m-1.1-3.8h0m-1.2 6.3h0m2.5 0h0m-.4-10.2h0m1 2.4h0m-1.9 2.2h0m-.8 2.3h0m1-2.9h0m.5-.2h0m1.9-1.1h0m-3.3 1.2h0m.3-.1h0m3.6 3.2h0m-1-5.2h0m-2.2-5.2h0m2.7 5.7h0m-1.5-4.9h0m-.9 4.4h0m2.2 4.6h0m1.7-6.7h0m-3 8.6h0m3.9-5.9h0m-2.8 2h0m2.4-8.3h0m1.2 2.6h0m-1.6 9.3h0m.7 .6h0m-1.6-5.4h0m1.3 4.2h0m1.4-4.1h0m-.6-2h0m-.4-4.4h0m.6 5.3h0m-.8-2.4h0m-.8 5.6h0m.7-3.8h0m.2 .5h0m.2 .8h0m2.3-4.9h0m-.6 11.8h0m.1-8.2h0m-.9 8.8h0m-.7-5.7h0m1.6-.5h0m-1.1 3.5h0m-.6-3.5h0m-.1 4.7h0m.5-4.4h0m-.9 7.3h0m1.6-8.3h0m-1.2 3.5h0m2.1 3.3h0m.9-3.1h0m-.8-6.7h0m-.4 6.5h0m1.6 5.5h0m-3.5-7.5h0m1 2.1h0m-.4-2.4h0m2.9-.5h0m-3.1-1.3h0m1.9 9.4h0m.5 2.8h0m-.2 .1h0m1.4-2.5h0m-2.8-2.8h0m.8 1.3h0m-.3 .1h0m1.9 5.2h0m-2.7 .7h0m2.1-10.7h0m1.3-.3h0m-.1 5.7h0m-2 5.7h0m.2-4.7h0m-1.5-3.6h0m.9 4.6h0m1.1-1.5h0m-.6 3.5h0m-1-3.9h0m-.3-.2h0m.3-1.1h0m.4 3.8h0m2.8 .5h0m-1-3.6h0m-1.5 2.7h0m-.5 .5h0m1.9 .5h0m0 5.4h0m-.6-2.2h0m1.8-2.4h0m-3.2-4h0m.6 .4h0m2.1 4.3h0m-2.6 2.4h0m.4-2.7h0m1.3 2.7h0m.3 1.4h0m.9-3.1h0m-1.3-2.2h0m.4 .2h0m-1 1.8h0m.3-1.3h0m.5 0h0m-.4 .3h0m1.1 7.6h0m-.3 .9h0m.7-6.2h0m-.5 2.2h0m-1.7 2h0m2.3-.5h0m-1.3 .3h0m0-1.8h0m.4 4h0m-.1-2.6h0m-.6 1.4h0m1.1 .4h0m-.2 3.6h0m-.7-5.5h0m-.4 2.2h0m.5 1.9h0m-1.3-1.3h0m-.9 .9h0m-.1 1.9h0m-.5-1.6h0m-1 1.7h0m.6 1.3h0m-1 .7h0m.8-1.4h0m.5 .6h0m.4 .3h0m.6 1.6h0m.8 .5h0m.6 .3h0m.3 .1h0m1-.5h0m.4 .7h0m.4-.9h0m1.2 2.2h0m1.4 0h0m-.5-.8h0m1 .3h0m.3 .8h0m0 1.3h0m.8 .1h0m.5 .1h0m.2-.5h0m1.6 1.5h0m.2 0h0m-.1 1.3h0m1.8 .6h0m-.1-.8h0m1.1 .6h0m.1 .4h0m.2 1.8h0m.8-.4h0m-.2 0h0m.9 2h0m-.5-.5h0m1.9 .3h0m-.4 .8h0m.9 .4h0m.2 .8h0m1.4 .4h0m0 .5h0m.8 .2h0m.2 .6h0m.8 .6h0m1.2 .1h0m.1-.2h0m-.1 .6h0m.4 .8h0m.1 .5h0m.4 0h0m.8 1.3h0m.4-.1h0m.5 .6h0m.3 1h0m0 .6h0m.4 .8h0m.9 1.3h0m.2 .3h0m.2-.5h0m.9 .8h0m.3 1.8h0m0 1h0m.8 .3h0m.5-.7h0m.1 1.3h0m.6 .5h0m1 .9h0m-.2-.5h0m.1 .4h0m.3 1.8h0m.7 .9h0m1.2-.1h0m0-.4h0m.6 .2h0m-.8 1h0m1.2 .3h0m1.4 .4h0m-.5 1.7h0m1.3-1.2h0m1.1 1.9h0m0-.1h0m.7 .4h0m.7-.4h0m-.2-.2h0m1.1 .5h0m1.1 1.4h0m-.1-.4h0m1.4 .7h0m1.2 0h0m.5-.8h0m0 .5h0m.9-.9h0m.9 .7h0m0-.8h0m1.2 1.1h0m1.3 .8h0m.4-.5h0m-.2 .5h0m-.4 0h0m1.5 .5h0m.8 .6h0m0 1.4h0m.7 1h0m0-.5h0m1.1 1.8h0m.1 .3h0m.1 .1h0m.6-1.4h0m1.2-.1h0m.7 1.8h0m1.4-1.4h0m-.1 .7h0m1 .6h0m.3 .1h0m1.9 .5h0m-.5-1.3h0m1.4 .6h0m.3 0h0m1-.9h0m.7-.1h0m.4 1h0m.8-.9h0m1.3-.4h0m-.5 .3h0m1.5 .1h0m-.3-1.9h0m.5 .4h0m.5-.1h0m.4-1.9h0m.2-.5h0m-.1 .1h0m2.2-1.5h0m.4 1h0m-.6-.2h0m.3-1.3h0m1.2-.3h0m.5 .3h0m1.1 .8h0m0-.1h0m.3-.1h0m-.3 1.6h0m1 1h0m-.4 .2h0m1 .4h0m-.5 1.3h0m1.7 .9h0m-1.6-.1h0m.2 .1h0m.2 .6h0m.5 2.1h0m.2 .3h0m.6 .6h0m0 .1h0m.4 1.4h0m1.8-.5h0m-1.1 .1h0m1 1.4h0m.4 1.5h0m.4-1.1h0m.4 .7h0m.5 .6h0m.6 2h0m.7-.8h0m.1 .6h0m.8 .4h0m1.2-.2h0m.2 .5h0m.2 1.1h0m.7 1.1h0m.4 .7h0m.7-.2h0m-.5-.4h0m1.3 1.1h0m1 .8h0m.3 .8h0m.4 .2h0m.6-1.6h0m-.1 1.3h0m1.5 1.1h0m1.7-1.1h0m.1 0h0m-.1 .3h0m.9 .7h0m.6-.9h0m.3 .3h0m.4-1.7h0m-.7-1.2h0m1.1-.6h0m.6 .3h0m.2 .2h0m-.3 .4h0m.4 .4h0m.4-.6h0m0 .8h0m1.3 .8h0m.1 2.2h0m-.4-1.3h0m1 1.2h0m-.3 1.5h0m-.2-.5h0m.8 .5h0m.7 1.9h0m-.4 1.3h0m.2-.1h0m-.1 .3h0m1.7 .9h0m-.3-1.5h0m.7 .4h0m0-.9h0m.6-.6h0m.4-1.1h0m.4-1h0m.6 .9h0m.5-.5h0m.3-.9h0m.6-.1h0m-.4-.7h0m1.2-1.4h0m0 1.3h0m.5 1.2h0m-.2 .5h0m.3-.4h0m.3 1.5h0m-.1 .3h0m.4 1.2h0m.8 0h0m.4 1.9h0m-1.1-.6h0m.5 2.2h0m-.1 .3h0m-.3 0h0m1.9 1.3h0m-1.1 .8h0m1.1 0h0m.2-.2h0m.1 .9h0m.7-1.6h0m.9 .9h0m-.5-1.9h0m1.7-.7h0m-.3 1h0m-.9-1.2h0m1.4 .2h0m.2-1.6h0m.7-.8h0m.1 .1h0m.9 1.7h0m-.4-.6h0m.7 .7h0m.4 .6h0m.2 2.4h0m-.1-.6h0m-.5 .7h0m1.1 1.2h0m-.5 .2h0m.2 1.7h0m-.6-.5h0m.6 .9h0m.8 1.4h0m-.5 .5h0m.3 1.5h0m-.3 .2h0m.1 .9h0m1.4-.3h0m-.3 .8h0m-.5 1h0m.7 .9h0m.3-.8h0m1.2 2.3h0m-.1-1.3h0m-.4 2.5h0m1.8-.9h0m-1.1 .8h0m.1 1.7h0m1-.3h0m.4 1.3h0m.6-.8h0m.6 .8h0m.2 2h0m.7-.6h0m-.6 1.4h0m.6 .3h0m1.2 .7h0m.1 .6h0m.2 0h0m.5 .8h0m-.6 0h0m1.1 1.3h0m.9-.4h0m.4 2h0m0-.1h0m-.1 .3h0m.9 .4h0m.3 1.1h0m.7 .7h0m.6 .8h0m.6 .4h0m.5 .8h0m.5-.3h0m.7 .7h0m.2-.2h0m.1-.4h0m1.4 .9h0m.5 .2h0m.3 1.4h0m.2 .8h0m1.1-.2h0m-.2-.5h0m1.5 1.8h0m.8 0h0m.6-.3h0m.2 .1h0m1.4 1.8h0m-.9-.3h0m1-.3h0m1.7 .9h0m-.5-.1h0m.6 1.4h0m1.4-.4h0m.6 1h0m.1 1.1h0m.3-.2h0m1.1-.1h0m.6-.4h0m.6-.6h0m.6 0h0m1.3 0h0m.3 .3h0m.6-.6h0m.2 .3h0m.8-.6h0m.8-.3h0m1.2-.6h0m-.5-.3h0m2.3-.1h0m-.4-.7h0m.5 .4h0m.3-.4h0m1.1 .7h0m-1.3 .4h0m1.2 .6h0m1-.4h0m.6 .4h0m.1 1.7h0m.1 .2h0m.1 1.3h0m-.1 .7h0m.9 .7h0m0-.1h0m.5 1.4h0m-.1-.3h0m.1 1.5h0m1.3-.2h0m-.5 .7h0m-.1 1.1h0m.3 .2h0m.8 .9h0m.1 1.4h0m.6-.8h0m-.6 .5h0m.6 .5h0m1-.2h0m.3-1.1h0m.6 .8h0m-.1-1.2h0m-.2-.5h0m0-1.5h0m.7-.4h0m1.7 .6h0m-1-1.1h0m1.4 0h0m.4-.6h0m-.6 .9h0m.8-.2h0m.6 .8h0m.1 .7h0m-.2 1.1h0m.8 1.3h0m.6 .1h0m-.8 1h0m.8 .8h0m0-.4h0m.4 .6h0m.6-.1h0m.3 2.6h0m-.6-.6h0m1 .9h0m-.3 1.5h0m.3 .4h0m0-.7h0m.8 2.6h0m-.4 0h0m.7 .1h0m-.3 .7h0m-.1 1.7h0m-.2 .7h0m.7 .2h0m.4 .3h0m.2 1.7h0m-.3 0h0m-.3 0h0m1.1 .4h0m-.1 .7h0m0 .8h0m.2 1.1h0m-.2 .6h0m.3 1h0m.2-.3h0m0 1.3h0m.7 .1h0m0 2.4h0m.1 0h0m-.3-.4h0m.5 1.2h0m-.6 1.3h0m1.2 1.4h0m-.1-.8h0m.3 1.4h0m-.2 .1h0m.7 1.7h0m-.6 .6h0m.9-.8h0m-.3 1.9h0m.4-.3h0m-.2 1.3h0m.4 .4h0m1 .2h0m-.2 1.4h0m.7 .9h0m-.4 .5h0m.3 1h0m0-.3h0m.6 1.8h0m-.7-.1h0m1.2 .3h0m-.8 1.7h0m.6 .2h0m-.1 1.6h0m-.5 .5h0m0-.1h0m1 .5h0m.1 1.9h0m1.9 .8h0m-1.3-.4h0m.8 1.4h0m-.6 .6h0m-.2 .9h0m.2 .1h0m.3 .9h0m-.6-.4h0m1.1 1.2h0m.7 .8h0m-.5 .9h0m0 1.4h0m.7 .2h0m.5 .4h0m-.2 1.1h0m-.1 1h0m.5 .8h0m1.1-.9h0m-.9 1.1h0m-.2 .5h0m.2 .2h0m.4 2.3h0m.4-.3h0m.3 1.4h0m-.5 1.2h0m.3-.8h0m.4 .5h0m-.2 2.2h0m.5-1h0m.9 1.5h0m.6 .2h0m-.8 1.8h0m.3 .3h0m.9-.2h0m-.4 1.2h0m.2 .2h0m-.3 .5h0m.3 .3h0m.4 2.2h0m-.2 .8h0m.4-.5h0m.7 .6h0m1.1 1.3h0m-1-.4h0m.2 2.5h0m1.5-.4h0m-.8 1.3h0m-.2-.1h0m-.1 1.9h0m.9-.3h0m.4 .2h0m-.3 2.4h0m0 .6h0m0 .4h0m-.6-1.3h0m.9 3.4h0m.4 1.7h0m-1-2.6h0m1.2 3.5h0m-.4-1.6h0m-1 1.2h0m1 .7h0m-.1-.1h0m.1 1.8h0m.6 .3h0m-1.4-1.8h0m-.1 4.3h0m.5-3.6h0m1.2 2.1h0m0 .1h0m-.1 .9h0m-.6-1.1h0m-.7 3.6h0m1.3-2.9h0m-.5 .1h0m.7 1.9h0m-.3-.5h0m-.4 1.6h0m1-2.8h0m-.3 5.3h0m-.5-3.5h0m1.1 3.4h0m-.9-1.8h0m1.9 1.4h0m0-.1h0m-1.2-2.3h0m1.5 3.1h0m.2-3.2h0m-1.7 2h0m1.6 2.1h0m-1.5 3.1h0m.4 1h0m-.1 .7h0m.9-4.9h0m.7 1.8h0m.4 .8h0m-1.9 2.2h0m-.2-.9h0m1.9-1.2h0m-1.4 1.1h0m.7 1.8h0m0-.9h0m1.5-.5h0m-1.5 1.2h0m1.6 0h0m-1.5-.1h0m1.6 4.4h0m-.2-7.1h0m-.4 8.2h0m-1-8.6h0m.9 9.1h0m.1-4.1h0m-.6-.3h0m1.8 .9h0m-1 1.6h0m-.7-1.9h0m1.7 4.2h0m.8-4.4h0m-.9-.7h0m.2 1.9h0m.8-1.3h0m.5 4h0m-.4-.6h0m.5 .4h0m.6-3.8h0m.6 4.5h0m-1 2.1h0m1 1.8h0m-2 .1h0m1.5 .1h0m.6-2.4h0m.4-.1h0m-2-2.5h0m.7 2.7h0m.2-.1h0m-.5 2.4h0m2.5-1.8h0m.3 2.7h0m-1.1-.6h0m-.9 3.2h0m1.4-2.6h0m-.9 3.2h0m-.1-6.2h0m0 5.5h0m1.4 3.4h0m-1-5.6h0m2.7 5.1h0m-2.3-1.5h0m1.7-6.3h0m1 4.6h0m-2-1h0m.5-.1h0m-.2 2.5h0m-.7-.1h0m1.9-4.8h0m-1.4 2h0m0-1.6h0m2.3-1.6h0m-.8-2.2h0m.4 7h0m-.2-3.1h0m.7-3.6h0m-.9 4.8h0m1.5-.8h0m-.5-6.8h0m-.6 1h0m-1.2 6.6h0m2.2-.9h0m.7-5.9h0m-2.6 2.7h0m2-3h0m-1.8 1.2h0m2.4 3.2h0m-.5-5.6h0m-1.2 1.4h0m-.4 3.9h0m1.7-2.4h0m-.3 2.2h0m-1.1-6.1h0m.3 4.8h0m.2-8.1h0m2.3 3.5h0m-1.8-.4h0m-.6 2h0m2.2-1.2h0m-1.2-3.1h0m.5 .8h0m1.1 .6h0m-1.5-1.8h0m.5 2.1h0m.7-3h0m.6 2.4h0m.5-2.4h0m-.4-2.3h0m-1.5 .4h0m.6-1.9h0m-.2 .9h0m.9 4.9h0m-.2-3.6h0m-1-2.9h0m.7 1.6h0m.3 .4h0m.4-1h0m-.7 1.7h0m.5-4.3h0m.7 2.8h0m-1.7-.6h0m1.2 1.7h0m.3-6h0m-1.4-1h0m1.3 5.7h0m-1.7-.4h0m1.4-5.4h0m.8-.7h0m-.6 1.1h0m-.7-.8h0m.5-1.7h0m-.7 2.2h0m.4 3h0m-.1-3.9h0m.1 3.5h0m.3-5.6h0m.4 .2h0m-1.4 3h0m2.1-4.8h0m.2-.2h0m-1.6 2.6h0m.9 2.5h0m-1.1-7.4h0m0 4.5h0m.9 1.9h0m.5-5h0m.3-2.1h0m.3 3h0m-2-2.2h0m1.8 2.2h0m-1.1 .3h0m.8-3.4h0m-.4 2.1h0m.2-1.9h0m-.4-2.2h0m1.1 3.8h0m-1.4-2.5h0m.6-.7h0m-.8-.2h0m1.1-2.2h0m.4 3.8h0m-.6-3.7h0m1.1 4.3h0m-1.8-4.1h0m1.3 .1h0m-1 2.9h0m-.3-1.5h0m.5-2.8h0m-.1-.3h0m1-2.5h0m-.8 .5h0m.6 3.4h0m-1.1-1.8h0m.4-2.2h0m.2 .2h0m-1.3 1h0m.4-2.4h0m-.3-.5h0m.4-2.5h0m-.7 .1h0m.8 .5h0m-.9-.9h0m.8-1.1h0m-.3-2.2h0m.2 1.2h0m-.9-.8h0m.1-1.9h0m-.2 .4h0m.8-1.2h0m-.5-1.4h0m-.3-.6h0m.4-.3h0m.9 .3h0m-.4-2h0m.5 0h0m-.1-.2h0m.9-1.9h0m-.1-.3h0m.7 .7h0m.2-2h0m.1-.9h0m.5 .7h0m.1-1.8h0m.7-.8h0m.2-.6h0m.5 .8h0m-.2-1.9h0m.4 .6h0m.2-.5h0m1-.8h0m.2 1.1h0m.6 .1h0m-.1 .2h0m.7 .9h0m.7 .3h0m.3 1.3h0m.6 .4h0m.7-.5h0m-.2 .6h0m.8-.1h0m1.4 1.6h0m.3 .9h0m.2-1.5h0m.6 .9h0m.8 1.8h0m0-1.1h0m.2 1.3h0m1.4 .2h0m.8 1.2h0m.4-.9h0m.2 1.8h0m.5 .6h0m.3-1.4h0m.8 1.9h0m.1-.1h0m.8 1.6h0m-.1 .4h0m0 .5h0m1.1-.9h0m.1 2.3h0m1.7-.2h0m-.5 .7h0m.7 .5h0m-.7 .5h0m2.1-.4h0m-.9 1h0m1.5 .4h0m.1 .9h0m.9 1h0m.3-.2h0m.5-.3h0m.7 1.1h0m.4 1.1h0m.7 .3h0m1.2-.2h0m.2 .5h0m.7 .1h0m.6 1h0m-.2 .4h0m1.6-1.6h0m.3 1.1h0m1.2 1.1h0m-.6-.9h0m1.3 0h0m1 .7h0m.7-.1h0m-.1 .3h0m.9 .4h0m.8 1.5h0m.4 .4h0m.3 .7h0m.7 0h0m.9 1.2h0m.4 .4h0m0 .2h0m.3-.7h0m.9 .3h0m-.1 2h0m.5 .5h0m.8-.9h0m.9 1.2h0m.2-.3h0m.9 1.3h0m.7 1h0m.5-.3h0m-.4 .8h0m1.2 .7h0m.7-.3h0m.6 1.3h0m.6-.1h0m-.4 .8h0m1.1 1.4h0m0-.5h0m1.2 .7h0m.5-.3h0m-.2 .6h0m1.1 1.4h0m.3 .6h0m-.1-.5h0m1.1 .7h0m.6 .8h0m.3 .5h0m.7-.5h0m.8 1.1h0m-.4 .5h0m.7-.1h0m1.1 .6h0m.5 1.6h0m-.2-.2h0m1.2 .5h0m.5 .1h0m0 2h0m1-1.2h0m.3 2h0m.5 .4h0m.8-.7h0m.7 1.5h0m.7-.5h0m0 .5h0m.3 .8h0m1.2 .8h0m.8 0h0m.2-.7h0m-.2 .8h0m.9 1.5h0m.7 .1h0m1.4 .4h0m.3 .5h0m.4 .2h0m.8 0h0m.6-.1h0m-.1 1.2h0m.6 .5h0m.7 1h0m-.3 .5h0m1.5-1.2h0m0 1h0m.8-.1h0m.5 .5h0m.7 .6h0m.3 2.1h0m.8-.3h0m1.1 .9h0m.1 .7h0m.5-1h0m.1 1.4h0m1-.8h0m-570.3-105h0m209.4-128.4h0m0 9.1h0m74 21.9h0m2.7-7.3h0m-27.4 62.1h0m-1.8 7.3h0m1.8 12.8h0m-1.8 3.6h0" fill="none" stroke="#ff0000" stroke-width="5.0" stroke-linecap="round" />
<path d="M158.3 546.7L176.6 536.3L194.8 525.7L213.1 515.3L231.4 502.9L249.7 490.6L268 477.8L280.8 469.6L286.3 471.4L291.7 479.6L297.2 487.9L305.4 485.1L310 467.8L315.5 456.8L321 447.6L330.1 439.4L340 436.7L340 434.8L351 430.8L354.6 432.1L372.9 423L380.2 415.6L389.4 411.1L394.8 403.8L404 397.4L413.1 392.8L422.3 388.2L438.7 381.8L442.4 380.4L442.4 379.9L453.3 372.8L460.7 372.8L471.6 368.2L488.1 364.6L489.9 360.9L500.9 359.7L504.5 361.8L515.5 360L530.1 361.3L540 362.2L551 363.1L561.9 363.7L565.6 358.2L570.2 350.9L575.6 349.4L580.2 353.6L583.9 363.7L587.5 379.9L587.9 381.8L590.3 387.3L594.8 388.8L598.9 387.3L600.3 380L603.1 367.3L606.7 360L611.3 356.7L615 361.8L622.3 368.2L627.8 374.6L633.2 379.9L635.1 380.9L642.4 385.5L647.9 388.2L649.7 391L664.3 398.3L666.1 401.9L675.3 405.6L678.9 410.2L684.4 410.7L693.6 414.7L699 415.6L715.5 424.8L730.1 433L740 441.2L740 440.3L751 447.6L767.4 458.6L780.2 467.4L785.7 473.2L793 475.1L798.5 479.6L803.1 487.9L807.6 498.8L812.2 511.6L821.4 516.2L825 509.8L829.6 506.1L835.1 505.8L840.5 508.9L849.7 516.2L864.3 522.6L875.3 529.9L886.3 535.9L901.8 541.8" fill="none" stroke="#000" stroke-width="4.4" stroke-linejoin="round"/>
<path d="M158.3 557L176.6 551.8L194.8 546.7L213.1 541.8L231.4 535.4L249.7 529L268 522.6L275.3 520.8L282.6 524.4L288.1 531.7L291.7 539L295.4 549.1L297.2 551.8L306.4 551.8L308.2 544.5L310 535.4L315.5 522.6L321 513.5L330.1 505.2L340 500.7L351 497.9L372.9 493.3L389.4 486.9L405.8 479.6L425.9 475.1L449.7 470.5L455.2 466.3L471.6 464.5L488.1 463.2L491.7 460.1L500.9 459.5L506.4 461.4L515.5 459.9L530.1 460.4L540 461.4L551 461.7L560.1 462.3L563.8 459L567.4 457.7L570.2 459.5L576.6 469.6L581.1 482.4L584.8 500.7L587.5 520.8L589.4 532.7L592.1 535.4L596.7 535.4L599.4 531.7L601.2 515.3L604 493.3L608.6 475.1L612.2 467.8L616.8 465L624.1 464.5L629.6 467.8L636.9 471.4L642.4 476L649.7 479.6L664.3 483.3L668 485.1L675.3 486.9L678.9 489.7L695.4 492.4L715.5 497L730.1 501.6L740 506.1L758.3 510.7L780.2 519.3L792.1 521.7L798.5 527.2L804 535.4L809.5 548.2L813.1 555.9L821.4 556.4L824.1 551.8L826.8 544.5L831.4 540L836.9 538.5L842.4 539.4L849.7 542.3L864.3 546.4L875.3 550L886.3 552.4L901.8 555.5" fill="none" stroke="#000" stroke-width="4.4" stroke-linejoin="round"/>
<path d="M158.3 540L176.6 524.4L194.8 508.9L213.1 493.3L231.4 475.1L249.7 456.8L268 436.7L274.4 430.8L278.9 429L284.4 433L289.9 447.6L294.5 465.9L298.1 476.9L305.4 475.1L308.2 453.1L311.8 425.7L316.4 407.4L321 394.6L330.1 381.8L340 372.8L351 365.1L354.6 367L372.9 350.9L378.4 342.7L389.4 334.4L394.8 324.4L404 313.4L412.2 307L415.9 307.9L419.5 302.4L431.4 295.1L444.2 288.2L449.7 286.9L452.4 284.1L453.3 277.8L457 275.6L460.7 276.8L470.7 272.3L471.6 267.7L474.4 270.4L488.1 266.8L489.9 258.6L500.9 256.2L504.5 259.5L515.5 256.7L530.1 258.9L540 260.4L551 261.7L560.1 262.8L562.9 260.4L566.5 251.2L570.2 247.6L572.9 249.4L576.6 254.9L580.2 270.4L583.9 296L586.6 328.9L588.4 352.7L591.2 359.1L596.7 360L598.5 350.9L600.3 321.6L603.1 296L605.8 281.4L610.4 263.1L613.1 261.8L620.4 265L625.9 271.4L630.5 283.2L636 288.7L639.6 295.1L646 300.6L647.9 306.1L655.2 310.7L657.9 314.3L664.3 318L666.1 322.5L674.4 328.6L677.1 334.4L680.8 337.2L684.4 335.3L695.4 343.6L699 344.5L713.7 356.4L719.2 359.1L730.1 370.1L740 379.2L740 382.7L751 392.8L767.4 409.3L780.2 423L785.7 429.4L793 433L798.5 440.3L803.1 453.1L806.7 469.6L810.4 489.7L813.1 504.3L821.4 509.8L824.1 498.8L826.8 487.9L830.5 482.4L836 480.5L840.5 484.2L849.7 494.3L860.7 501.6L875.3 515.3L886.3 524.4L901.8 533.6" fill="none" stroke="#000" stroke-width="4.4" stroke-linejoin="round"/>
</g>
<path d="M109.5 564.5v-9.3M109.5 89.5v9.3M214.5 564.5v-9.3M214.5 89.5v9.3M320.5 564.5v-9.3M320.5 89.5v9.3M425.5 564.5v-9.3M425.5 89.5v9.3M531.5 564.5v-9.3M531.5 89.5v9.3M636.5 564.5v-9.3M636.5 89.5v9.3M741.5 564.5v-9.3M741.5 89.5v9.3M847.5 564.5v-9.3M847.5 89.5v9.3M952.5 564.5v-9.3M952.5 89.5v9.3M109.5 564.5h9.3M952.5 564.5h-9.3M109.5 485.5h9.3M952.5 485.5h-9.3M109.5 405.5h9.3M952.5 405.5h-9.3M109.5 326.5h9.3M952.5 326.5h-9.3M109.5 247.5h9.3M952.5 247.5h-9.3M109.5 168.5h9.3M952.5 168.5h-9.3M109.5 89.5h9.3M952.5 89.5h-9.3M109.5 89.5H952.5V564.5H109.5Z" stroke="#262626" stroke-width="1" fill="none"/>
<text transform="translate(109.5,594) scale(1,1.04)" font-size="21" text-anchor="middle" fill="#262626">11</text>
<text transform="translate(214.5,594) scale(1,1.04)" font-size="21" text-anchor="middle" fill="#262626">12</text>
<text transform="translate(320.5,594) scale(1,1.04)" font-size="21" text-anchor="middle" fill="#262626">13</text>
<text transform="translate(425.5,594) scale(1,1.04)" font-size="21" text-anchor="middle" fill="#262626">14</text>
<text transform="translate(531.5,594) scale(1,1.04)" font-size="21" text-anchor="middle" fill="#262626">15</text>
<text transform="translate(636.5,594) scale(1,1.04)" font-size="21" text-anchor="middle" fill="#262626">16</text>
<text transform="translate(741.5,594) scale(1,1.04)" font-size="21" text-anchor="middle" fill="#262626">17</text>
<text transform="translate(847.5,594) scale(1,1.04)" font-size="21" text-anchor="middle" fill="#262626">18</text>
<text transform="translate(952.5,594) scale(1,1.04)" font-size="21" text-anchor="middle" fill="#262626">19</text>
<text transform="translate(100.4,573) scale(1,1.04)" font-size="21" text-anchor="end" fill="#262626">0</text>
<text transform="translate(100.4,494) scale(1,1.04)" font-size="21" text-anchor="end" fill="#262626">0.2</text>
<text transform="translate(100.4,414) scale(1,1.04)" font-size="21" text-anchor="end" fill="#262626">0.4</text>
<text transform="translate(100.4,335) scale(1,1.04)" font-size="21" text-anchor="end" fill="#262626">0.6</text>
<text transform="translate(100.4,256) scale(1,1.04)" font-size="21" text-anchor="end" fill="#262626">0.8</text>
<text transform="translate(100.4,177) scale(1,1.04)" font-size="21" text-anchor="end" fill="#262626">1</text>
<text transform="translate(100.4,98) scale(1,1.04)" font-size="21" text-anchor="end" fill="#262626">1.2</text>
<text transform="translate(531,80) scale(1,1.04)" font-size="23" font-weight="bold" text-anchor="middle" fill="#000">jO3 for 170213 2017ATOM2</text>
<text transform="translate(58,326.6) rotate(-90) scale(1,1.04)" font-size="23.1" letter-spacing="0.85" text-anchor="middle" fill="#262626">j[O3]</text>
<text x="110" y="86.7" font-size="24.5" fill="#262626">×</text>
<text transform="translate(126.5,83.8) scale(1,1.04)" font-size="21" fill="#262626">10</text>
<text transform="translate(150,74) scale(1,1.04)" font-size="17.2" fill="#262626">-4</text>
<rect x="772.5" y="128.5" width="150" height="160" fill="#fff" stroke="#262626" stroke-width="1"/>
<circle cx="809.5" cy="143.6" r="2.8" fill="#0000ff"/>
<text transform="translate(845.5,151.5) scale(1,1.04)" font-size="18.9" fill="#000">CAFS-Z</text>
<circle cx="809.5" cy="169.3" r="2.8" fill="#00ff00"/>
<text transform="translate(845.5,177.2) scale(1,1.04)" font-size="18.9" fill="#000">CAFS-N</text>
<circle cx="809.5" cy="194.5" r="2.8" fill="#ff0000"/>
<text transform="translate(845.5,202.4) scale(1,1.04)" font-size="18.9" fill="#000">CAFS-T</text>
<path d="M778.6 221.3H840.6" stroke="#000" stroke-width="4.5"/>
<text transform="translate(845.5,229.2) scale(1,1.04)" font-size="18.9" fill="#000">TUV-Z</text>
<path d="M778.6 246.4H840.6" stroke="#000" stroke-width="4.5"/>
<text transform="translate(845.5,254.3) scale(1,1.04)" font-size="18.9" fill="#000">TUV-N</text>
<path d="M778.6 272.4H840.6" stroke="#000" stroke-width="4.5"/>
<text transform="translate(845.5,280.3) scale(1,1.04)" font-size="18.9" fill="#000">TUV-T</text>
<path d="M109.5 609.5V994.5M214.5 609.5V994.5M320.5 609.5V994.5M425.5 609.5V994.5M531.5 609.5V994.5M636.5 609.5V994.5M741.5 609.5V994.5M847.5 609.5V994.5M952.5 609.5V994.5" stroke="#262626" stroke-opacity=".15" stroke-width="1" fill="none"/>
<path d="M109.5 994.5H952.5M109.5 898.5H952.5M109.5 801.5H952.5M109.5 705.5H952.5M109.5 609.5H952.5" stroke="#262626" stroke-opacity=".15" stroke-width="1" fill="none"/>
<clipPath id="c2"><rect x="110" y="609" width="842" height="386"/></clipPath>
<g clip-path="url(#c2)">
<path d="M158.3 877.7H160V877.7H161.7V877.7H163.4V877.7H165.1V877.7H166.8V877.7H168.5V757.7H170.2V755.1H171.9V752.4H173.6V749.7H175.3V749H177V748.6H178.7V748.3H180.4V747.9H182.1V747.5H183.8V749.5H185.5V751.4H187.2V753.3H188.9V755.2H190.6V758.2H192.3V761.6H194V765H195.7V766.7H197.4V766.7H199.1V766.7H200.8V766.7H202.5V766.4H204.2V765.1H205.9V763.7H207.6V753.7H209.3V753H211V753H212.7V744.1H214.4V735.6H216.1V735.6H217.8V735.6H219.5V769.6H221.2V780.7H222.9V791.7H224.6V801.4H226.3V801.4H228V801.4H229.7V801.4H231.4V801.4H233.1V751.2H234.8V744.3H236.5V741.7H238.2V734.7H239.9V726.2H241.6V724.7H243.3V724.7H245V724.7H246.7V749.3H248.4V759H250.1V758.5H251.8V758H253.5V757.5H255.2V757H256.9V756.4H258.6V755.8H260.3V751.4H262V752H263.7V754.3H265.4V756.6H267.1V759H268.8V761.5H270.5V763.6H272.2V764.8H273.9V765.7H275.6V765.3H277.3V764.9H279V764.6H280.7V764.2H282.4V766.1H284.1V771.2H285.8V783H287.5V787.4H289.2V788.3H290.9V788.3H292.6V787.8H294.3V787.2H296V773.1H297.7V772.8H299.4V772.6H301.1V772.3H302.8V775.5H304.5V781.2H306.2V785.5H307.9V789.7H309.6V793.3H311.3V795.6H313V793.9H314.7V793.2H316.4V793.2H318.1V793.2H319.8V793.2H321.5V800H323.2V800H324.9V801H326.6V800H328.3V800H330V801H331.7V801H333.4V800H335.1V800H336.8V800H338.5V800H340.2V800H341.9V803H343.6V805H345.3V806H347V810H348.7V814H350.4V812H352.1V811H353.8V810H355.5V809H357.2V810H358.9V811H360.6V809H362.3V811H364V813H365.7V814H367.4V816H369.1V818H370.8V819H372.5V820H374.2V823H375.9V821H377.6V821H379.3V820H381V820H382.7V819H384.4V820H386.1V822H387.8V821H389.5V822H391.2V822H392.9V823H394.6V822.8H396.3V818.5H398V804.2H399.7V797H401.4V790.7H403.1V782.2H404.8V774.5H406.5V767.7H408.2V762.6H409.9V761.3H411.6V759.9H413.3V706.3H415V705.1H416.7V704H418.4V702.9H420.1V689H421.8V677.1H423.5V677.1H425.2V677.1H426.9V681.9H428.6V690.4H430.3V700.7H432V713.4H433.7V720H435.4V709.4H437.1V699.9H438.8V699.6H440.5V699.3H442.2V681.8H443.9V676.9H445.6V676.6H447.3V676.3H449V690.2H450.7V710H452.4V733.9H454.1V753.9H455.8V762.4H457.5V770.5H459.2V777.3H460.9V783.3H462.6V784.1H464.3V785H466V785.8H467.7V786.7H469.4V785.4H471.1V783.7H472.8V782H474.5V780.3H476.2V777.7H477.9V774.3H479.6V772.2H481.3V772.2H483V772.2H484.7V772.2H486.4V772.7H488.1V779.5H489.8V786.3H491.5V793.1H493.2V797H494.9V800.4H496.6V782.4H498.3V773.8H500V776.3H501.7V775.3H503.4V770.2H505.1V765.4H506.8V761.5H508.5V757.5H510.2V754H511.9V754.8H513.6V755.7H515.3V761.4H517V767.3H518.7V737.5H520.4V730.7H522.1V707.7H523.8V702.9H525.5V698.2H527.2V694H528.9V690.6H530.6V687.2H532.3V684.6H534V685.2H535.7V685.9H537.4V707.6H539.1V736H540.8V742H542.5V742H544.2V742H545.9V770.4H547.6V770.4H549.3V770.4H551V770.4H552.7V796.5H554.4V813.4H556.1V819H557.8V819H559.5V819H561.2V819H562.9V819H564.6V820H566.3V819H568V821H569.7V827H571.4V832H573.1V837H574.8V840H576.5V842H578.2V844H579.9V844H581.6V840H583.3V838H585V831.1H586.7V821.1H588.4V815.1H590.1V809.2H591.8V808.5H593.5V808.5H595.2V811.2H596.9V823.7H598.6V827.9H600.3V832.2H602V842.2H603.7V850H605.4V854H607.1V855H608.8V849.9H610.5V844.5H612.2V834.3H613.9V820.2H615.6V803.8H617.3V794H619V787.6H620.7V776.2H622.4V776.2H624.1V776.2H625.8V776.2H627.5V786.3H629.2V790.5H630.9V794.4H632.6V807H634.3V810H636V811H637.7V812H639.4V812H641.1V813H642.8V814H644.5V814H646.2V812H647.9V811H649.6V810H651.3V811H653V812H654.7V812H656.4V813H658.1V814H659.8V814H661.5V814H663.2V813H664.9V812H666.6V810H668.3V808H670V805H671.7V802H673.4V798.6H675.1V795.9H676.8V795.7H678.5V795.6H680.2V796H681.9V795H683.6V795H685.3V793.4H687V790.1H688.7V787H690.4V783H692.1V781H693.8V780H695.5V780H697.2V780H698.9V781H700.6V781H702.3V781H704V781H705.7V782H707.4V782H709.1V782H710.8V784H712.5V783H714.2V785H715.9V784H717.6V785H719.3V784H721V784H722.7V786H724.4V787H726.1V787H727.8V787H729.5V785H731.2V784H732.9V781H734.6V776H736.3V770H738V768H739.7V767H741.4V771H743.1V771H744.8V772H746.5V773H748.2V773H749.9V774H751.6V775H753.3V775H755V774H756.7V773H758.4V772H760.1V771H761.8V769H763.5V769H765.2V768H766.9V768H768.6V766H770.3V763H772V761H773.7V758H775.4V757H777.1V756H778.8V756H780.5V757H782.2V757H783.9V755H785.6V749.2H787.3V748.5H789V748.1H790.7V749.1H792.4V754.2H794.1V766H795.8V777H797.5V784.9H799.2V790.7H800.9V795.4H802.6V798.3H804.3V800.7H806V800.7H807.7V800.7H809.4V800.7H811.1V800.7H812.8V800.7H814.5V800.7H816.2V800.7H817.9V800.7H819.6V800.7H821.3V800.7H823V800.7H824.7V800.7H826.4V768.5H828.1V768.5H829.8V768.5H831.5V783H833.2V780H834.9V774H836.6V769H838.3V763H840V757H841.7V753H843.4V751H845.1V749H846.8V745H848.5V740H850.2V737H851.9V735H853.6V732H855.3V731H857V728H858.7V729H860.4V728H862.1V728H863.8V728H865.5V728H867.2V727H868.9V727H870.6V725H872.3V725H874V724H875.7V723H877.4V723H879.1V723H880.8V723H882.5V723H884.2V722H885.9V722H887.6V721.5H889.3V726.2H891V732.4H892.7V733.6H894.4V734.2H896.1V734.4H897.8V734.5H899.5V734.7H901.2V734.9H902.9V735H904.6V737H906.3V747V747H904.6V746.6H902.9V746.5H901.2V746.3H899.5V746.2H897.8V746H896.1V745.8H894.4V745.8H892.7V745.8H891V738.6H889.3V732.9H887.6V732H885.9V732.2H884.2V732.9H882.5V732.9H880.8V732.9H879.1V733.4H877.4V732.6H875.7V734.7H874V735.6H872.3V735.3H870.6V736.8H868.9V736.7H867.2V737.8H865.5V737.6H863.8V738.3H862.1V738.3H860.4V739.2H858.7V737.5H857V740.5H855.3V741.9H853.6V745.6H851.9V747.1H850.2V750.1H848.5V755.7H846.8V759H845.1V760.6H843.4V763.2H841.7V767.2H840V772.7H838.3V779H836.6V784.1H834.9V789.5H833.2V792.5H831.5V926.9H829.8V899.1H828.1V910.7H826.4V922.2H824.7V933.8H823V945.3H821.3V956.9H819.6V968.4H817.9V980H816.2V991.5H814.5V970.1H812.8V942.1H811.1V919.6H809.4V895.7H807.7V868.5H806V859.7H804.3V852.9H802.6V846.1H800.9V827.8H799.2V796.3H797.5V787.1H795.8V775.9H794.1V768.7H792.4V766.4H790.7V765.9H789V765.9H787.3V765.9H785.6V765.1H783.9V766.7H782.2V766.8H780.5V765.6H778.8V766.2H777.1V767.1H775.4V767.9H773.7V770.9H772V772.6H770.3V776.5H768.6V777.8H766.9V778.2H765.2V779.8H763.5V778.6H761.8V780.8H760.1V782.9H758.4V783.2H756.7V784H755V784.9H753.3V784.9H751.6V783.9H749.9V782.8H748.2V783.1H746.5V781.6H744.8V781.4H743.1V780.9H741.4V776.7H739.7V778.2H738V780.2H736.3V785.8H734.6V790.9H732.9V794.1H731.2V794.5H729.5V796.6H727.8V796.9H726.1V796.9H724.4V796.2H722.7V794.4H721V794.1H719.3V795.5H717.6V793.6H715.9V795H714.2V793.4H712.5V793.5H710.8V791.9H709.1V791.8H707.4V791.9H705.7V790.7H704V791.3H702.3V790.9H700.6V790.6H698.9V790.1H697.2V789.9H695.5V790.3H693.8V791.1H692.1V792.9H690.4V796.8H688.7V802.3H687V804.5H685.3V804.6H683.6V804.8H681.9V805.8H680.2V806.8H678.5V808H676.8V809.2H675.1V810.9H673.4V812.5H671.7V815.2H670V817.6H668.3V819.8H666.6V821.8H664.9V822.7H663.2V823.7H661.5V824.1H659.8V823.9H658.1V822.7H656.4V821.9H654.7V822.6H653V820.9H651.3V820.1H649.6V820.9H647.9V821.7H646.2V824.5H644.5V824.2H642.8V822.6H641.1V822.5H639.4V822.1H637.7V821.5H636V820.1H634.3V817H632.6V813.4H630.9V816.1H629.2V823.7H627.5V857.1H625.8V884.1H624.1V884.1H622.4V884.1H620.7V884.1H619V884.1H617.3V884.1H615.6V880.9H613.9V878.6H612.2V878.6H610.5V878.6H608.8V866.7H607.1V863.7H605.4V859.5H603.7V856.1H602V855.5H600.3V854.9H598.6V928.5H596.9V934.2H595.2V935.3H593.5V935.3H591.8V935.3H590.1V914.5H588.4V857H586.7V849.3H585V847.6H583.3V849.6H581.6V854H579.9V853.8H578.2V852.8H576.5V850H574.8V846.9H573.1V841.8H571.4V836.9H569.7V830.6H568V828.7H566.3V830.2H564.6V829.3H562.9V829.3H561.2V830.3H559.5V828.6H557.8V830.8H556.1V836.6H554.4V836.6H552.7V836.6H551V836.6H549.3V874H547.6V889.6H545.9V889.6H544.2V889.6H542.5V886.7H540.8V869.5H539.1V869.5H537.4V869.5H535.7V866.2H534V833.7H532.3V823.1H530.6V817.8H528.9V812.4H527.2V808.6H525.5V822.9H523.8V822.9H522.1V822.9H520.4V822.9H518.7V822.9H517V822.9H515.3V822.4H513.6V814.3H511.9V806.3H510.2V805.5H508.5V805.5H506.8V805.5H505.1V805.5H503.4V847.2H501.7V847.2H500V847.2H498.3V847.2H496.6V830.2H494.9V814.6H493.2V814.6H491.5V814.6H489.8V814.6H488.1V812.4H486.4V817.5H484.7V820.1H483V820.1H481.3V820.1H479.6V818.7H477.9V802.7H476.2V802.9H474.5V803H472.8V803.1H471.1V803.2H469.4V803.3H467.7V803.4H466V803.4H464.3V803.5H462.6V803.6H460.9V803.6H459.2V803.6H457.5V803.5H455.8V800.3H454.1V780.6H452.4V767.8H450.7V755.9H449V745.1H447.3V734.4H445.6V725.7H443.9V725.7H442.2V727H440.5V760.1H438.8V761.9H437.1V769.4H435.4V773.2H433.7V773.2H432V773.2H430.3V767.6H428.6V758.1H426.9V748.6H425.2V780.5H423.5V780.5H421.8V780.5H420.1V780.5H418.4V792.4H416.7V792.6H415V792.9H413.3V793.1H411.6V795.9H409.9V804.6H408.2V839.3H406.5V839.2H404.8V837.5H403.1V835.8H401.4V834.1H399.7V832.4H398V847.5H396.3V869.5H394.6V863.8H392.9V832.6H391.2V831.8H389.5V830.9H387.8V831.8H386.1V830H384.4V829H382.7V829.7H381V829.7H379.3V831.3H377.6V831.2H375.9V833.1H374.2V829.5H372.5V828.5H370.8V827.6H369.1V825.8H367.4V824H365.7V822.5H364V820.8H362.3V819.9H360.6V820.7H358.9V819.6H357.2V819.2H355.5V820H353.8V821H352.1V822H350.4V823.8H348.7V820.7H347V815.6H345.3V815H343.6V812.6H341.9V810H340.2V809.8H338.5V809.9H336.8V809.7H335.1V809.6H333.4V811.3H331.7V810.6H330V810.3H328.3V810.5H326.6V811.7H324.9V809.6H323.2V849.6H321.5V849.9H319.8V960.9H318.1V960.9H316.4V960.9H314.7V960.9H313V854.9H311.3V854.9H309.6V851.6H307.9V833.5H306.2V815.3H304.5V837.4H302.8V840.3H301.1V840.3H299.4V840.3H297.7V840.7H296V841.2H294.3V841.8H292.6V842.3H290.9V963.5H289.2V994.6H287.5V994.6H285.8V994.6H284.1V994.6H282.4V952.5H280.7V881H279V812.9H277.3V806.1H275.6V806.1H273.9V806.1H272.2V806.1H270.5V806.1H268.8V806.1H267.1V854.9H265.4V821.1H263.7V806.1H262V806.1H260.3V806.1H258.6V806.1H256.9V806.1H255.2V806.1H253.5V806.1H251.8V806.1H250.1V806.1H248.4V806.1H246.7V856.7H245V856.7H243.3V856.7H241.6V856.7H239.9V856.3H238.2V855.9H236.5V878.4H234.8V929.9H233.1V929.9H231.4V929.9H229.7V929.9H228V962.6H226.3V970.6H224.6V970.6H222.9V970.6H221.2V806.1H219.5V806.1H217.8V806.1H216.1V806.1H214.4V869.4H212.7V872.8H211V879.2H209.3V879.2H207.6V879.2H205.9V879.2H204.2V816.1H202.5V800.6H200.8V798.3H199.1V796.1H197.4V793.8H195.7V791.5H194V789.3H192.3V789.3H190.6V793.4H188.9V797.4H187.2V764H185.5V764H183.8V764H182.1V764H180.4V764H178.7V840.8H177V840.8H175.3V840.8H173.6V902H171.9V993.7H170.2V994.6H168.5V994.6H166.8V994.6H165.1V994.6H163.4V994.6H161.7V994.6H160V994.6H158.3Z" fill="#0000ff"/>
<path d="M158.3 979.2L159.2 891.4L160.1 800L161 689.1L161.9 682.7L162.9 762.2L163.8 714.7L164.7 692.8L165.6 764L166.5 733L167.4 711L168.3 674.5L169.3 650.7L170.2 624.2L171.1 641.6L172 659.8L172.9 714.7L173.8 698.2L174.7 733L175.6 751.3L178.4 733L180.2 689.1L181.1 714.7L182 733L183 678.1L183.9 641.6L184.8 608.7L185.7 641.6L186.6 714.7L187.9 712.9L188.4 769.5L189.4 805L188.4 800L189 823.8L191.2 809.1L193 765.9L194.8 787.8L195.8 818.3L197.6 742.1L199 709.2L200.3 751.3L202.2 787.8L202.2 840.2L204.9 854.8L207.6 876.8L209.5 862.2L213.1 836.6L215 851.2L218.6 891.4L221.4 928L223.2 970L225.9 978.2L228.7 957.2L229.6 931.6L230.5 891.4L231 787.8L231.4 751.3L232.9 718L234.1 743.9L235.4 734.8L236.9 769.5L237.8 805L238.7 821.9L242.4 829.3L246 836.6L248.8 860.3L251.5 861.2L255.2 843.9L257.9 836.6L259.7 864L260.7 882.3L262.1 787.8L262.9 694.2L264.3 733L265.2 787.8L266.1 836.6L269.8 840.2L273.5 860.3L276.2 899.6L278.9 880.4L281.7 898.7L284.4 946.3L286.3 994.5L289 946.3L291.7 949.9L293.6 902.4L295.4 873.1L297.2 840.2L300.9 800L302.7 800L304.5 836.6L306.4 887.8L308.2 913.3L310.9 909.7L313.7 928L315.5 985.6L316.4 928L319.2 924.3L320.1 907.9L322.8 906L326.5 895.1L332 889.6L334.7 882.3L335.2 994.5L336 882.3L340 873.1L340 875L342.7 869.5L348.2 864L351.9 858.5L354.6 844.8L358.3 842L361.6 840.6L363.8 843.9L366.5 850.3L370.2 852.1L372.9 854.8L376.6 880.4L379.3 875.9L383 881.4L385.7 854.8L387.9 829.3L389.4 854.8L392.1 895.1L394.8 914.3L397 913.3L398.9 891.4L399.4 818.3L400 787.8L400.3 771.4L401.2 787.8L401.8 845.7L402.2 723.8L403.1 769.5L404 873.1L404.9 899.6L405.8 703.7L406.7 608.7L408 595.9L409.5 608.7L410.4 669L412.2 696.4L414 608.7L415 595.9L415.9 608.7L416.8 623.3L417.7 595.9L418.6 608.7L419.5 641.6L420.4 595.9L432.3 595.9L432.3 608.7L434.1 634.3L435.1 608.7L436 595.9L450.6 595.9L451.5 608.7L454.3 641.6L456.1 678.1L457.9 663.5L459.7 733L462.5 769.5L464.3 778.7L467.1 714.7L469.8 665.3L471.6 683.6L474.4 704.6L476.7 612.3L479.9 656.2L482.2 622.4L484.4 687.3L486.3 729.3L489 751.3L491.7 776.8L494.5 802.4L495 825.6L497.2 769.5L499 720.2L500.9 751.3L503.6 687.3L505.4 714.7L506.7 733L508.2 678.1L510.9 608.7L512.8 678.1L513.7 778.7L515.1 745.8L517.3 780.5L520.1 733L522.8 650.7L524.6 623.3L525.6 608.7L526.5 595.9L527.4 623.3L528.3 608.7L529.2 650.7L531 626.9L532.9 648.9L534.7 683.6L536.5 714.7L538.4 805L540 811L541.8 827.4L544.6 869.5L547.3 885.9L549.1 892.3L551 878.6L558.3 879.5L561.9 881.4L563.8 902.4L567.4 928L571.1 946.3L572.9 938.9L573.8 917L575.6 909.7L577.1 891.4L578.4 918.8L579.9 869.5L581.1 918.8L583 939.9L585.3 900.5L586.6 836.6L587.5 804.6L588.4 906L590.3 884.1L592.1 928L593.9 891.4L596.7 867.6L598.5 882.3L601.2 935.3L604 954.5L607.3 949.9L610.4 957.2L612.2 965.4L613.7 955.4L616.8 982.8L618.2 949L620.4 948.1L622.3 891.4L625 856.7L626.8 882.3L628.7 829.3L630.5 891.4L632.3 907.9L635.1 887.8L636.5 895.1L638.7 870.4L640.5 885L644.2 875.9L646 877.7L647.9 859.4L649.7 874L654.3 880.4L657 885.9L661.6 905.1L664.3 904.2L666.1 895.1L671.6 885.9L675.3 883.2L678.9 881.4L681.7 873.1L683.5 885L687.2 886.8L689.9 882.3L692.7 836.6L695.4 828.3L697.2 842L699 809.1L700.9 843.9L703.6 869.5L706.4 877.7L709.1 873.1L711.8 866.7L715.5 876.8L718.2 867.6L721 809.1L722.8 864L724.6 869.5L726.5 854.8L729.2 809.1L730.5 765.9L732 818.3L734.7 851.2L736.5 836.6L738.4 760.4L740 760.4L740 762.2L741.8 769.5L742.7 800L744.6 827.4L746.4 851.2L748.2 854.8L751 873.1L752.8 883.2L755.5 885.9L759.2 882.3L762.9 874L766.5 872.2L770.2 867.6L772.9 858.5L774.7 836.6L776.6 800L777.5 773.2L778.8 769.5L780.2 800L782 823.8L783.5 827.4L785.3 847.5L787.2 827.4L787.9 751.3L789 735.7L790.3 751.3L793 800L793.9 836.6L795.4 864.9L797 860.3L798.9 900.5L800.3 898.7L802.2 854.8L803.1 836.6L804.9 898.7L806.2 836.6L807.3 743.9L808 805L809.5 787.8L810.4 698.2L811.3 787.8L813.1 743L815 787.8L816.8 742.1L818.6 787.8L819.5 760.4L821.4 787.8L821.9 760.4L824.1 805L824.5 971.8L825 944.4L825.9 733L826.8 608.7L827.8 601.3L828.7 608.7L829.6 678.1L831.8 636.1L833.2 714.7L834.1 769.5L835.4 754.9L836.9 787.8L838.7 798.8L841.5 789.6L843.3 800L845.1 836.6L846 854.8L848.2 845.7L850.6 860.3L852.4 861.2L855.2 851.2L856.1 856.7L857 836.6L858.8 827.4L860.7 811L864.3 784.2L867.1 798.8L868.9 797L870.7 805.5L873.5 809.1L876.2 805.5L878 786L879.9 776.8L882.6 758.6L885.3 771.4L887.2 776.8L889 797L891.7 809.1L895.4 778.7L897.2 763.1L899 778.7L900.9 785.1L903.1 773.2" fill="none" stroke="#00ff00" stroke-width="2.1" stroke-linejoin="round"/>
<path d="M160.1 994.5L161 946.3L161.9 818.3L162.9 909.7L163.8 809.1L164.7 928L165.6 854.8L166.5 864L167.4 915.2L168.3 836.6L169.3 787.8L170.2 733L171.1 711L172 769.5L172.9 742.1L173.8 797L174.7 787.8L176.6 760.4L178.4 769.5L179.3 751.3L180.6 762.2L182 736.6L183 714.7L183.9 690.9L184.8 707.4L185.7 733L186.6 769.5L187.5 751.3L188.4 787.8L189.4 787.8L191.2 804.3L193 797L194.8 769.5L196.3 797L197.6 787.8L199 749.4L200.3 769.5L201.2 787.8L204 814.6L205.8 845.7L207.6 876.8L208.6 836.6L209.5 854.8L210.4 818.3L211.3 773.2L212.2 804.3L213.1 787.8L215.3 767.7L216.8 802.4L217.7 827.4L220.4 860.3L222.3 836.6L223.2 909.7L225 971.8L225.9 891.4L226.8 918.8L228.7 885.9L229.6 928L231.4 873.1L232.3 818.3L233.2 769.5L235.1 743.9L236 797L236.9 778.7L238.4 802.4L239.6 765.9L241.5 787.8L243.3 750.3L244.2 787.8L246 805.5L247.9 811L248.8 834.7L249.7 803.7L251.5 787.8L253.3 802.4L256.1 780.5L257 797L259.7 786L261.6 787.8L262.9 739.4L264.3 769.5L265.2 787.8L268 787.8L271.6 798.8L270.7 818.3L272.5 805.5L275.3 832.9L276.2 884.1L277.5 836.6L278.9 818.3L280.8 845.7L282.6 854.8L284.4 928L285.3 994.5L286.3 946.3L287.2 928L288.1 873.1L289 845.7L290.3 873.1L291.7 895.1L292.7 836.6L293.6 818.3L295.4 802.4L298.1 778.7L300.9 786L304.5 791.5L306.4 802.4L307.3 836.6L308.2 865.8L309.1 836.6L311.8 840.2L313.7 854.8L314.6 891.4L315.5 966.4L316.4 825.6L318.2 845.7L320.1 869.5L320.4 834.7L326.5 832.9L328.3 832L332 833.8L334.7 830.2L335.1 949.9L335.6 829.3L340 826.5L340 825.6L343.7 829.3L347.3 828.3L351 833.8L354.6 822.9L358.3 823.4L362.9 822.9L367.4 832L372 832L374.7 840.2L377.5 845.7L380.2 839.3L383 843.9L385.7 836.6L387.9 823.8L390.3 836.6L393 854.8L394.8 883.2L396.7 851.2L398.1 871.3L399.4 818.3L401.2 796.3L403.1 843.9L404 818.3L404.9 856.7L405.8 796.3L406.7 703.7L409.1 689.1L410.4 718.3L412.2 758.6L415 700.1L415.9 626.9L416.8 714.7L418.6 632.4L421.4 742.1L423.7 608.7L425 641.6L426.8 647L428.7 692.8L429.6 669L431.4 658.9L433.2 714.7L436 665.3L437.8 672.6L439.6 620.5L441.1 616L442.4 632.4L444.2 608.7L446 608.7L447.9 641.6L449.7 680L451.5 700.1L454.3 723.8L457 769.5L458.8 736.6L460.7 765.9L463.4 786L466.1 769.5L468.9 751.3L470.3 743.9L472.5 756.7L474.4 765.9L476.2 720.2L478 733L479.9 738.5L481.7 717.4L483.5 745.8L485.3 747.6L488.1 769.5L490.8 787.8L492.7 776.8L494.5 802.4L495.4 820.7L497.2 805L500 758.6L501.8 780.5L503.6 747.6L505.4 760.4L507.3 764L510.9 700.1L512.8 751.3L514.6 787.8L516.4 776.8L518.2 805L519.2 811.6L521 769.5L522.8 714.7L524.6 678.1L527.4 661.7L530.1 674.5L531 751.3L532 714.7L534.7 683.6L536.5 805L537.1 855.5L538.4 787.8L540 805L540.9 787.8L541.8 760.4L542.7 797L542.7 836.6L543.7 880.4L545.5 818.3L548.2 809.1L549.1 849.4L551 832.9L552.8 850.3L553.7 840.2L558.3 841.7L561.9 842.4L565.6 853L569.3 864L572 873.1L574.7 864L577.5 860.3L579.3 868.6L580.2 851.2L583 870.4L585.7 836.6L588.4 885.9L590.3 827.4L591.2 909.7L593 816.5L594.8 928L595.8 836.6L597 891.4L598.5 845.7L601.2 869.5L604 882.3L608.6 886.8L611.3 887.8L612.2 903.3L614 873.1L615.9 895.1L616.8 920.7L618.2 847.5L620.4 902.4L621.9 864L623.2 800L624.1 818.3L625.9 854.8L626.8 798.2L627.8 800L629.6 827.4L631.4 844.8L635.1 842L638.7 833.8L640.5 839.3L646 837.5L647.9 827.4L650.6 833.8L655.2 839.3L659.7 844.8L664.3 844.8L666.1 838.4L671.6 833.8L675.3 829.3L677.1 824.7L680.8 821.9L683.5 828.3L688.1 821.9L690.8 816.5L693.6 800L695.4 797L699 792.4L700.9 805L703.6 813.7L708.2 813.7L711.8 811L716.4 816.5L720.1 809.1L721.4 795.1L722.8 814.6L726.5 809.1L730.5 778.7L732.9 805.5L735.6 807.3L738.4 769.5L740 767.7L740 769.5L742.7 778.7L745.5 797L749.1 807.3L752.8 811.9L756.5 810.1L761.9 804.6L769.3 798.8L772.9 789.6L776.6 769.5L778.8 761.3L781.1 776.8L783.9 780.5L785.7 787.8L787.5 760.4L789.4 745.8L791.2 769.5L793.9 795.1L796.7 809.1L798.5 827.4L803.1 836.6L807.6 805L809.5 775L810.4 887.8L813.1 776.8L814 928L816.8 769.5L817.7 994.5L820.4 771.4L822.3 994.5L824.1 854.8L825.9 994.5L826.8 743.9L828.7 728.4L829.6 751.3L831.4 733L833.2 751.3L834.1 767.7L836 778.7L838.7 780.5L841.5 770.4L844.2 778.7L846 784.2L848.8 775L851.5 776.8L856.1 765.9L859.7 754L864.3 747.6L866.1 751.3L871.6 749.4L874.4 751.3L878.9 742.1L882.6 735.7L886.3 740.3L889 756.7L891.7 759.5L894.5 754.9L897.2 745.8L899 753.1L901.8 749.4L902.7 754.9" fill="none" stroke="#ff0000" stroke-width="2.1" stroke-linejoin="round"/>
<path d="M160.5 926.7l.9-51.4l.9-33.9l.9-4.5l.9-4.6l.9-4.5l.9-4.4l.9-4.5l.9-5.9l.9-9.5l0 55.2l-.9 24.7l-.9 10l-.9 4.2l-.9 4.3l-.9 4.6l-.9 4.7l-.9 4.8l-.9 24.7l-.9 36.9Z" fill="#ff0000"/>
<path d="M160.5 939.7L161.4 914.7L162.3 867.8L163.2 911.8L164.1 861.4L165 899.7L165.9 821.6L166.8 891L167.7 815.2L168.6 859.1" fill="none" stroke="#ff0000" stroke-width="1.8" stroke-linejoin="round"/>
<path d="M216.8 800.7L217.8 840.6L218.8 830.9L219.8 864.1L220.8 828.4L221.8 879.8L222.8 863.7L223.8 894.7L224.8 852.3L225.8 914L226.8 851.1L227.8 943.8L228.8 818.1L229.8 889.9L230.8 827.2" fill="none" stroke="#ff0000" stroke-width="1.8" stroke-linejoin="round"/>
<path d="M232.3 781.5L233.3 808.1L234.3 769.5L235.3 808.5L236.3 763L237.3 801.1L238.3 773.6L239.3 786.8L240.3 756.5L241.3 806.8L242.3 765.2L243.3 818.8L244.3 783.5L245.3 814.5L246.3 799.8L247.3 813.4L248.3 801.1L249.3 827L250.3 795.3L251.3 827.3L252.3 798L253.3 814.9L254.3 789.5L255.3 825.6L256.3 801.4L257.3 810.6L258.3 798.3L259.3 813.6L260.3 797.4L261.3 815.6L262.3 798.4L263.3 811.7L264.3 794.8L265.3 814.1L266.3 797.4L267.3 808.8L268.3 789.7L269.3 812.2L270.3 792.3L271.3 815.1L272.3 800.5L273.3 811.7L274.3 798.2" fill="none" stroke="#ff0000" stroke-width="1.8" stroke-linejoin="round"/>
<path d="M275.3 812.3L276.8 863.4L278.3 821.9L279.8 872.1L281.3 810.6L282.8 858.2L284.3 813L285.8 958.7L287.3 829.2L288.8 886.3L290.3 816.1L291.8 889L293.3 812.1L294.8 823.4" fill="none" stroke="#ff0000" stroke-width="1.8" stroke-linejoin="round"/>
<path d="M406.7 718.6L408.3 774.7L409.9 708.7L411.5 739.2L413.1 661.9L414.7 707.3L416.3 648.2L417.9 725.2L419.5 670.6L421.1 719L422.7 643.1L424.3 691.4L425.9 655.8L427.5 704.8L429.1 674.7" fill="none" stroke="#ff0000" stroke-width="1.8" stroke-linejoin="round"/>
<path d="M521 759.1L522.6 764.6L524.2 688.4L525.8 785.1L527.4 680.1L529 787.2L530.6 703.5L532.2 792.7L533.8 712.2L535.4 763.3L537 747.9" fill="none" stroke="#ff0000" stroke-width="1.8" stroke-linejoin="round"/>
<path d="M540 764.9L541.2 825.1L542.4 774.7L543.6 840.2" fill="none" stroke="#ff0000" stroke-width="1.8" stroke-linejoin="round"/>
<path d="M543.7 813.6L544.9 838.1L546.1 825.8L547.3 843L548.5 825.8L549.7 841.9L550.9 823.2L552.1 837.3L553.3 823.7" fill="none" stroke="#ff0000" stroke-width="1.8" stroke-linejoin="round"/>
<path d="M584.8 845.7l.9-.9l.9-.9l.9-.9l.9-.9l.9-.9l.9 1.3l.9 1.9l.9 2l.9-1.2l.9 2.6l.9 3.3l.9 .7l.9 .3l.9 .2l.9 .2l0 15.9l-.9 8.9l-.9 8.9l-.9 8.9l-.9 7.4l-.9-.3l-.9-.1l-.9 0l-.9-9.4l-.9-9.5l-.9-8.7l-.9-2.1l-.9-2.1l-.9-2.1l-.9-2.1l-.9-2.1Z" fill="#ff0000"/>
<path d="M584.8 851.7L585.7 861.9L586.6 841.3L587.5 867.8L588.4 835.2L589.3 877.9L590.2 844.1L591.1 885.5L592 834.2L592.9 924.8L593.8 833.2L594.7 903.5L595.6 847.2L596.5 877.2L597.4 844.3L598.3 867.7" fill="none" stroke="#ff0000" stroke-width="1.8" stroke-linejoin="round"/>
<path d="M611.3 885.5L612.6 891.4L613.9 878.4L615.2 893.2L616.5 871L617.8 916.5L619.1 847.4L620.4 900.3L621.7 821.5L623 883.8L624.3 807.3L625.6 846L626.9 802.8L628.2 835.7L629.5 829.1" fill="none" stroke="#ff0000" stroke-width="1.8" stroke-linejoin="round"/>
<path d="M808 793.5l.9-6.6l.9-3.4l.9 1.9l.9 1.9l.9 1.9l.9 .8l.9-1.3l.9-1.3l.9-1.3l.9-.4l.9 2l.9 1l.9 1l.9 1l.9 .5l.9-2l.9-1.9l.9-7.1l.9-12.8l.9-18.2l.9-6.9l.9-5.9l.9 9.4l.9 9.5l.9 10.9l0 19.1l-.9 11.3l-.9 11.5l-.9 11.5l-.9 12.7l-.9 12.8l-.9 117.2l-.9 14.8l-.9 .6l-.9 .2l-.9 .1l-.9 0l-.9-.1l-.9-.1l-.9-.1l-.9-11.7l-.9-15.1l-.9-15l-.9-14.2l-.9-14l-.9-9.7l-.9-7.9l-.9-7.9l-.9-8.2l-.9-8l-.9-7.7Z" fill="#ff0000"/>
<path d="M808 816.4L808.9 848.1L809.8 814.5L810.7 886.2L811.6 818.1L812.5 901.1L813.4 823.2L814.3 889.8L815.2 783.2L816.1 943.1L817 781.6L817.9 914.1L818.8 852.9L819.7 902.9L820.6 809.1L821.5 913.3L822.4 831.1L823.3 906.1L824.2 805.4L825.1 937.8L826 774.1L826.9 830.2L827.8 740.5L828.7 796.3L829.6 767.1L830.5 780.2" fill="none" stroke="#ff0000" stroke-width="1.8" stroke-linejoin="round"/>
</g>
<path d="M109.5 994.5v-9.3M109.5 609.5v9.3M214.5 994.5v-9.3M214.5 609.5v9.3M320.5 994.5v-9.3M320.5 609.5v9.3M425.5 994.5v-9.3M425.5 609.5v9.3M531.5 994.5v-9.3M531.5 609.5v9.3M636.5 994.5v-9.3M636.5 609.5v9.3M741.5 994.5v-9.3M741.5 609.5v9.3M847.5 994.5v-9.3M847.5 609.5v9.3M952.5 994.5v-9.3M952.5 609.5v9.3M109.5 994.5h9.3M952.5 994.5h-9.3M109.5 898.5h9.3M952.5 898.5h-9.3M109.5 801.5h9.3M952.5 801.5h-9.3M109.5 705.5h9.3M952.5 705.5h-9.3M109.5 609.5h9.3M952.5 609.5h-9.3M109.5 609.5H952.5V994.5H109.5Z" stroke="#262626" stroke-width="1" fill="none"/>
<text transform="translate(109.5,1024.8) scale(1,1.04)" font-size="21" text-anchor="middle" fill="#262626">11</text>
<text transform="translate(214.5,1024.8) scale(1,1.04)" font-size="21" text-anchor="middle" fill="#262626">12</text>
<text transform="translate(320.5,1024.8) scale(1,1.04)" font-size="21" text-anchor="middle" fill="#262626">13</text>
<text transform="translate(425.5,1024.8) scale(1,1.04)" font-size="21" text-anchor="middle" fill="#262626">14</text>
<text transform="translate(531.5,1024.8) scale(1,1.04)" font-size="21" text-anchor="middle" fill="#262626">15</text>
<text transform="translate(636.5,1024.8) scale(1,1.04)" font-size="21" text-anchor="middle" fill="#262626">16</text>
<text transform="translate(741.5,1024.8) scale(1,1.04)" font-size="21" text-anchor="middle" fill="#262626">17</text>
<text transform="translate(847.5,1024.8) scale(1,1.04)" font-size="21" text-anchor="middle" fill="#262626">18</text>
<text transform="translate(952.5,1024.8) scale(1,1.04)" font-size="21" text-anchor="middle" fill="#262626">19</text>
<text transform="translate(100.4,1003) scale(1,1.04)" font-size="21" text-anchor="end" fill="#262626">-0.4</text>
<text transform="translate(100.4,907) scale(1,1.04)" font-size="21" text-anchor="end" fill="#262626">-0.2</text>
<text transform="translate(100.4,810) scale(1,1.04)" font-size="21" text-anchor="end" fill="#262626">0</text>
<text transform="translate(100.4,714) scale(1,1.04)" font-size="21" text-anchor="end" fill="#262626">0.2</text>
<text transform="translate(100.4,618) scale(1,1.04)" font-size="21" text-anchor="end" fill="#262626">0.4</text>
<text transform="translate(51.2,800.7) rotate(-90) scale(1,1.04)" font-size="23.1" text-anchor="middle" fill="#262626">Ratio CAFS to TUV (ln)</text>
<rect x="684.5" y="616.5" width="115" height="83" fill="#fff" stroke="#262626" stroke-width="1"/>
<path d="M690.5 631.4H753.7" stroke="#0000ff" stroke-width="6.7"/>
<text transform="translate(757.6,638.7) scale(1,1.04)" font-size="18.9" fill="#000">Zen</text>
<path d="M690.5 657.5H753.7" stroke="#00ff00" stroke-width="1.8"/>
<text transform="translate(757.6,664.8) scale(1,1.04)" font-size="18.9" fill="#000">Nad</text>
<path d="M690.5 683.4H753.7" stroke="#ff0000" stroke-width="1.8"/>
<text transform="translate(757.6,690.7) scale(1,1.04)" font-size="18.9" fill="#000">Tot</text>
<path d="M109.5 1038.5V1425.5M213.5 1038.5V1425.5M318.5 1038.5V1425.5M423.5 1038.5V1425.5M527.5 1038.5V1425.5M632.5 1038.5V1425.5M736.5 1038.5V1425.5M841.5 1038.5V1425.5M945.5 1038.5V1425.5" stroke="#262626" stroke-opacity=".15" stroke-width="1" fill="none"/>
<path d="M109.5 1425.5H945.5M109.5 1361.5H945.5M109.5 1296.5H945.5M109.5 1232.5H945.5M109.5 1167.5H945.5M109.5 1103.5H945.5M109.5 1038.5H945.5" stroke="#262626" stroke-opacity=".15" stroke-width="1" fill="none"/>
<g fill="none" stroke-width="4.8" stroke-linecap="round" stroke-linejoin="round">
<path stroke="#3e26a8" d="M158.1 1161.6l.3-.9"/>
<path stroke="#402ab4" d="M158.4 1160.7l.4-2"/>
<path stroke="#422ec0" d="M158.8 1158.7l.3-1"/>
<path stroke="#4332cb" d="M159.1 1157.7l.4-1.9"/>
<path stroke="#4537d5" d="M159.5 1155.8l.3-1"/>
<path stroke="#463cde" d="M159.8 1154.8l.2-1"/>
<path stroke="#4741e5" d="M160 1153.8l.3-.9"/>
<path stroke="#4747eb" d="M160.3 1152.9l.3-1"/>
<path stroke="#4758f8" d="M160.6 1151.9l.2-.9"/>
<path stroke="#465efb" d="M160.8 1151l.3-1"/>
<path stroke="#4269fe" d="M161.1 1150l.3-1"/>
<path stroke="#3e6fff" d="M161.4 1149l.3-.9"/>
<path stroke="#327cfc" d="M161.7 1148.1l.2-1"/>
<path stroke="#2f81fa" d="M161.9 1147.1l.2-1"/>
<path stroke="#2e87f7" d="M162.1 1146.1l.7-2.9"/>
<path stroke="#2d8cf3" d="M162.8 1143.2l.9-3.9"/>
<path stroke="#2b91ef" d="M163.7 1139.3l.8-2.9"/>
<path stroke="#259be8" d="M164.5 1136.4l.3-1"/>
<path stroke="#23a0e5" d="M164.8 1135.4l.5-1.9"/>
<path stroke="#20a5e3" d="M165.3 1133.5l.5-1.9"/>
<path stroke="#1ca9df" d="M165.8 1131.6l.3-1"/>
<path stroke="#18addb" d="M166.1 1130.6l.3-.9"/>
<path stroke="#08b5d0" d="M166.4 1129.7l.3-1"/>
<path stroke="#01b8ca" d="M166.7 1128.7l.3-.9"/>
<path stroke="#02bac3" d="M167 1127.8l.4-1"/>
<path stroke="#0bbdbd" d="M167.4 1126.8l.3-.9"/>
<path stroke="#24c1ae" d="M167.7 1125.9l.3-1"/>
<path stroke="#2cc4a7" d="M168 1124.9l.3-.9"/>
<path stroke="#37c897" d="M168.3 1124l.4-1"/>
<path stroke="#4acb84" d="M168.7 1123l.4-.9"/>
<path stroke="#57cc7a" d="M169.1 1122.1l.5-.9"/>
<path stroke="#64cd6f" d="M169.6 1121.2l.8-1.8"/>
<path stroke="#57cc7a" d="M170.4 1119.4l.4-.9"/>
<path stroke="#4acb84" d="M170.8 1118.5l.5-.9"/>
<path stroke="#3fca8e" d="M171.3 1117.6l.4-.9"/>
<path stroke="#37c897" d="M171.7 1116.7l.8-.4"/>
<path stroke="#31c69f" d="M172.5 1116.3l2-.3"/>
<path stroke="#37c897" d="M174.5 1116l1.9-.2"/>
<path stroke="#3fca8e" d="M176.4 1115.8l5-.7"/>
<path stroke="#4acb84" d="M181.4 1115.1l2-.2"/>
<path stroke="#3fca8e" d="M183.4 1114.9l2-.3"/>
<path stroke="#37c897" d="M185.4 1114.6l2-.2"/>
<path stroke="#31c69f" d="M187.4 1114.4l1-.2"/>
<path stroke="#2cc4a7" d="M188.4 1114.2l2.9-.3"/>
<path stroke="#24c1ae" d="M191.3 1113.9l6-.8"/>
<path stroke="#19bfb6" d="M197.3 1113.1l1-.1"/>
<path stroke="#0bbdbd" d="M198.3 1113l2-.2"/>
<path stroke="#02bac3" d="M200.3 1112.8l2-.3"/>
<path stroke="#01b8ca" d="M202.3 1112.5l2-.2"/>
<path stroke="#08b5d0" d="M204.3 1112.3l1.9-.1"/>
<path stroke="#01b8ca" d="M206.2 1112.2l1-.1"/>
<path stroke="#08b5d0" d="M207.2 1112.1l4-.2"/>
<path stroke="#12b1d6" d="M211.2 1111.9l5-.2"/>
<path stroke="#18addb" d="M216.2 1111.7l4-.2"/>
<path stroke="#1ca9df" d="M220.2 1111.5l1-.1"/>
<path stroke="#20a5e3" d="M221.2 1111.4l1-.1"/>
<path stroke="#2797eb" d="M222.2 1111.3l1 0"/>
<path stroke="#2d8cf3" d="M223.2 1111.3l1-.1"/>
<path stroke="#327cfc" d="M224.2 1111.2l1-.1"/>
<path stroke="#2f81fa" d="M225.2 1111.1l1 0"/>
<path stroke="#2b91ef" d="M226.2 1111.1l1-.1"/>
<path stroke="#23a0e5" d="M227.2 1111l1-.1"/>
<path stroke="#18addb" d="M228.2 1110.9l1 0"/>
<path stroke="#01b8ca" d="M229.2 1110.9l2-.1"/>
<path stroke="#02bac3" d="M231.2 1110.8l1 0"/>
<path stroke="#0bbdbd" d="M232.2 1110.8l5-.3"/>
<path stroke="#19bfb6" d="M237.2 1110.5l2 0"/>
<path stroke="#0bbdbd" d="M239.2 1110.5l1-.1"/>
<path stroke="#02bac3" d="M240.2 1110.4l5-.2"/>
<path stroke="#0bbdbd" d="M245.2 1110.2l3-.1"/>
<path stroke="#19bfb6" d="M248.2 1110.1l1-.1"/>
<path stroke="#24c1ae" d="M249.2 1110l2 0"/>
<path stroke="#2cc4a7" d="M251.2 1110l1 0"/>
<path stroke="#24c1ae" d="M252.2 1110l6-.2"/>
<path stroke="#19bfb6" d="M258.2 1109.8l5-.2"/>
<path stroke="#0bbdbd" d="M263.2 1109.6l3 0"/>
<path stroke="#02bac3" d="M266.2 1109.6l1-.1"/>
<path stroke="#0bbdbd" d="M267.2 1109.5l.9 9"/>
<path stroke="#02bac3" d="M268.1 1118.5l.3 3"/>
<path stroke="#01b8ca" d="M268.4 1121.5l.1 .9"/>
<path stroke="#02bac3" d="M268.5 1122.4l.2 3"/>
<path stroke="#01b8ca" d="M268.7 1125.4l.2 2"/>
<path stroke="#02bac3" d="M268.9 1127.4l.2 2"/>
<path stroke="#01b8ca" d="M269.1 1129.4l.2 2"/>
<path stroke="#08b5d0" d="M269.3 1131.4l.3 4"/>
<path stroke="#12b1d6" d="M269.6 1135.4l.7 8"/>
<path stroke="#08b5d0" d="M270.3 1143.4l.4 5"/>
<path stroke="#01b8ca" d="M270.7 1148.4l.1 1"/>
<path stroke="#08b5d0" d="M270.8 1149.4l.1 1"/>
<path stroke="#01b8ca" d="M270.9 1150.4l.4 5"/>
<path stroke="#02bac3" d="M271.3 1155.4l.2 1.9"/>
<path stroke="#01b8ca" d="M271.5 1157.3l.8 10"/>
<path stroke="#02bac3" d="M272.3 1167.3l.5 6"/>
<path stroke="#01b8ca" d="M272.8 1173.3l.1 2"/>
<path stroke="#02bac3" d="M272.9 1175.3l.1 1"/>
<path stroke="#01b8ca" d="M273 1176.3l.4 7"/>
<path stroke="#08b5d0" d="M273.4 1183.3l.1 1"/>
<path stroke="#12b1d6" d="M273.5 1184.3l.2 3"/>
<path stroke="#18addb" d="M273.7 1187.3l.2 3"/>
<path stroke="#1ca9df" d="M273.9 1190.3l.2 3"/>
<path stroke="#20a5e3" d="M274.1 1193.3l.7 3.9"/>
<path stroke="#1ca9df" d="M274.8 1197.2l.5 1.9"/>
<path stroke="#18addb" d="M275.3 1199.1l.2 1"/>
<path stroke="#12b1d6" d="M275.5 1200.1l.2 2"/>
<path stroke="#08b5d0" d="M275.7 1202.1l0 1"/>
<path stroke="#01b8ca" d="M275.7 1203.1l.4 5"/>
<path stroke="#08b5d0" d="M276.1 1208.1l.1 2"/>
<path stroke="#01b8ca" d="M276.2 1210.1l.1 1"/>
<path stroke="#08b5d0" d="M276.3 1211.1l.1 1"/>
<path stroke="#12b1d6" d="M276.4 1212.1l.1 1"/>
<path stroke="#08b5d0" d="M276.5 1213.1l.3 4"/>
<path stroke="#01b8ca" d="M276.8 1217.1l.3 5"/>
<path stroke="#02bac3" d="M277.1 1222.1l.1 1"/>
<path stroke="#01b8ca" d="M277.2 1223.1l.3 4"/>
<path stroke="#08b5d0" d="M277.5 1227.1l.3 4"/>
<path stroke="#12b1d6" d="M277.8 1231.1l0 1"/>
<path stroke="#08b5d0" d="M277.8 1232.1l.2 2"/>
<path stroke="#12b1d6" d="M278 1234.1l0 1"/>
<path stroke="#08b5d0" d="M278 1235.1l.3 4"/>
<path stroke="#01b8ca" d="M278.3 1239.1l.1 1"/>
<path stroke="#02bac3" d="M278.4 1240.1l0 1"/>
<path stroke="#01b8ca" d="M278.4 1241.1l.2 2"/>
<path stroke="#02bac3" d="M278.6 1243.1l.3 4.9"/>
<path stroke="#01b8ca" d="M278.9 1248l.9 14"/>
<path stroke="#02bac3" d="M279.8 1262l.1 1"/>
<path stroke="#01b8ca" d="M279.9 1263l.2 3"/>
<path stroke="#02bac3" d="M280.1 1266l.3 4"/>
<path stroke="#01b8ca" d="M280.4 1270l.1 2"/>
<path stroke="#08b5d0" d="M280.5 1272l.3 3"/>
<path stroke="#12b1d6" d="M280.8 1275l.7 7"/>
<path stroke="#18addb" d="M281.5 1282l.4 4"/>
<path stroke="#20a5e3" d="M281.9 1286l.1 1"/>
<path stroke="#23a0e5" d="M282 1287l.1 1"/>
<path stroke="#259be8" d="M282.1 1288l.1 1"/>
<path stroke="#2797eb" d="M282.2 1289l0 .9"/>
<path stroke="#2b91ef" d="M282.2 1289.9l.1 1"/>
<path stroke="#2e87f7" d="M282.3 1290.9l.1 1"/>
<path stroke="#2f81fa" d="M282.4 1291.9l.1 1"/>
<path stroke="#327cfc" d="M282.5 1292.9l.1 1"/>
<path stroke="#3e6fff" d="M282.6 1293.9l.1 1"/>
<path stroke="#4269fe" d="M282.7 1294.9l0 1"/>
<path stroke="#4563fd" d="M282.7 1295.9l.1 1"/>
<path stroke="#465efb" d="M282.8 1296.9l.1 1"/>
<path stroke="#4758f8" d="M282.9 1297.9l.1 1"/>
<path stroke="#4852f4" d="M283 1298.9l.1 2"/>
<path stroke="#4747eb" d="M283.1 1300.9l.3 4"/>
<path stroke="#4741e5" d="M283.4 1304.9l.2 3"/>
<path stroke="#4747eb" d="M283.6 1307.9l.4 6"/>
<path stroke="#484df0" d="M284 1313.9l.2 3"/>
<path stroke="#4747eb" d="M284.2 1316.9l.2 2"/>
<path stroke="#484df0" d="M284.4 1318.9l.2 2"/>
<path stroke="#4852f4" d="M284.6 1320.9l.4 4"/>
<path stroke="#4758f8" d="M285 1324.9l.2 2"/>
<path stroke="#465efb" d="M285.2 1326.9l.2 2"/>
<path stroke="#4563fd" d="M285.4 1328.9l.3 2.9"/>
<path stroke="#4269fe" d="M285.7 1331.8l.1 1"/>
<path stroke="#3e6fff" d="M285.8 1332.8l.1 1"/>
<path stroke="#3875fe" d="M285.9 1333.8l.1 1"/>
<path stroke="#327cfc" d="M286 1334.8l.2 2"/>
<path stroke="#2f81fa" d="M286.2 1336.8l0 1"/>
<path stroke="#327cfc" d="M286.2 1337.8l.1 1"/>
<path stroke="#2e87f7" d="M286.3 1338.8l.5 5"/>
<path stroke="#2d8cf3" d="M286.8 1343.8l.1 1"/>
<path stroke="#2e87f7" d="M286.9 1344.8l0 1"/>
<path stroke="#2d8cf3" d="M286.9 1345.8l.2 2"/>
<path stroke="#2b91ef" d="M287.1 1347.8l.3 3"/>
<path stroke="#2d8cf3" d="M287.4 1350.8l.2 3"/>
<path stroke="#2b91ef" d="M287.6 1353.8l.1 1"/>
<path stroke="#2d8cf3" d="M287.7 1354.8l.2 2"/>
<path stroke="#2e87f7" d="M287.9 1356.8l.1 1"/>
<path stroke="#2f81fa" d="M288 1357.8l.3 1.9"/>
<path stroke="#2e87f7" d="M288.3 1359.7l.2 2"/>
<path stroke="#2d8cf3" d="M288.5 1361.7l.4 3"/>
<path stroke="#2b91ef" d="M288.9 1364.7l.1 1"/>
<path stroke="#2797eb" d="M289 1365.7l.3 2"/>
<path stroke="#259be8" d="M289.3 1367.7l.1 1"/>
<path stroke="#2797eb" d="M289.4 1368.7l.1 1"/>
<path stroke="#259be8" d="M289.5 1369.7l.4 3"/>
<path stroke="#23a0e5" d="M289.9 1372.7l.1 .9"/>
<path stroke="#259be8" d="M290 1373.6l.4 3"/>
<path stroke="#23a0e5" d="M290.4 1376.6l.4 3"/>
<path stroke="#259be8" d="M290.8 1379.6l.1 1"/>
<path stroke="#23a0e5" d="M290.9 1380.6l.2 2"/>
<path stroke="#20a5e3" d="M291.1 1382.6l.4 3"/>
<path stroke="#1ca9df" d="M291.5 1385.6l.1 1"/>
<path stroke="#18addb" d="M291.6 1386.6l1 7.9"/>
<path stroke="#1ca9df" d="M292.6 1394.5l.3 3"/>
<path stroke="#18addb" d="M292.9 1397.5l.7 6"/>
<path stroke="#12b1d6" d="M293.6 1403.5l.7 6.9"/>
<path stroke="#18addb" d="M294.3 1410.4l.1 1"/>
<path stroke="#12b1d6" d="M294.4 1411.4l.2 1"/>
<path stroke="#18addb" d="M294.6 1412.4l.1 1"/>
<path stroke="#1ca9df" d="M294.7 1413.4l.1 1"/>
<path stroke="#18addb" d="M294.8 1414.4l.2 2"/>
<path stroke="#12b1d6" d="M295 1416.4l.1 1"/>
<path stroke="#08b5d0" d="M295.1 1417.4l.1 1"/>
<path stroke="#12b1d6" d="M295.2 1418.4l.8 .3"/>
<path stroke="#08b5d0" d="M296 1418.7l3 .2"/>
<path stroke="#01b8ca" d="M299 1418.9l5 .3l.4-.6l.2-2"/>
<path stroke="#08b5d0" d="M304.6 1416.6l.4-4"/>
<path stroke="#12b1d6" d="M305 1412.6l.3-2"/>
<path stroke="#08b5d0" d="M305.3 1410.6l.1-1"/>
<path stroke="#12b1d6" d="M305.4 1409.6l.4-4"/>
<path stroke="#18addb" d="M305.8 1405.6l.2-2"/>
<path stroke="#12b1d6" d="M306 1403.6l.5-3.9"/>
<path stroke="#08b5d0" d="M306.5 1399.7l.7-7"/>
<path stroke="#12b1d6" d="M307.2 1392.7l.1-1"/>
<path stroke="#08b5d0" d="M307.3 1391.7l.1-1"/>
<path stroke="#12b1d6" d="M307.4 1390.7l.1-1"/>
<path stroke="#18addb" d="M307.5 1389.7l.3-3"/>
<path stroke="#1ca9df" d="M307.8 1386.7l.3-3"/>
<path stroke="#18addb" d="M308.1 1383.7l.1-1"/>
<path stroke="#12b1d6" d="M308.2 1382.7l.2-2"/>
<path stroke="#08b5d0" d="M308.4 1380.7l.1-1"/>
<path stroke="#12b1d6" d="M308.5 1379.7l.5-4.9"/>
<path stroke="#18addb" d="M309 1374.8l.1-1"/>
<path stroke="#12b1d6" d="M309.1 1373.8l.1-1"/>
<path stroke="#18addb" d="M309.2 1372.8l.2-2"/>
<path stroke="#12b1d6" d="M309.4 1370.8l.1-1"/>
<path stroke="#08b5d0" d="M309.5 1369.8l.2-2"/>
<path stroke="#01b8ca" d="M309.7 1367.8l.4-3"/>
<path stroke="#08b5d0" d="M310.1 1364.8l.1-1"/>
<path stroke="#01b8ca" d="M310.2 1363.8l.2-2"/>
<path stroke="#08b5d0" d="M310.4 1361.8l.2-1"/>
<path stroke="#12b1d6" d="M310.6 1360.8l.3-2.9"/>
<path stroke="#18addb" d="M310.9 1357.9l.2-1"/>
<path stroke="#1ca9df" d="M311.1 1356.9l.1-1"/>
<path stroke="#18addb" d="M311.2 1355.9l.1-1"/>
<path stroke="#1ca9df" d="M311.3 1354.9l.5-4"/>
<path stroke="#20a5e3" d="M311.8 1350.9l.1-1"/>
<path stroke="#1ca9df" d="M311.9 1349.9l.2-1"/>
<path stroke="#18addb" d="M312.1 1348.9l.1-1"/>
<path stroke="#1ca9df" d="M312.2 1347.9l.2-2"/>
<path stroke="#20a5e3" d="M312.4 1345.9l.3-1.9"/>
<path stroke="#259be8" d="M312.7 1344l.2-1"/>
<path stroke="#2b91ef" d="M312.9 1343l.1-1"/>
<path stroke="#2e87f7" d="M313 1342l.2-1"/>
<path stroke="#3875fe" d="M313.2 1341l.1-1"/>
<path stroke="#4563fd" d="M313.3 1340l.2-1"/>
<path stroke="#3e6fff" d="M313.5 1339l.2-1"/>
<path stroke="#327cfc" d="M313.7 1338l.2-.9"/>
<path stroke="#2d8cf3" d="M313.9 1337.1l.2-1"/>
<path stroke="#2797eb" d="M314.1 1336.1l.2-1"/>
<path stroke="#23a0e5" d="M314.3 1335.1l.1-1"/>
<path stroke="#1ca9df" d="M314.4 1334.1l.3-4"/>
<path stroke="#18addb" d="M314.7 1330.1l.1-2"/>
<path stroke="#1ca9df" d="M314.8 1328.1l.4-5"/>
<path stroke="#20a5e3" d="M315.2 1323.1l.1-2"/>
<path stroke="#1ca9df" d="M315.3 1321.1l.2-3"/>
<path stroke="#18addb" d="M315.5 1318.1l.1-1"/>
<path stroke="#1ca9df" d="M315.6 1317.1l.1-2"/>
<path stroke="#18addb" d="M315.7 1315.1l.2-3"/>
<path stroke="#1ca9df" d="M315.9 1312.1l.1-1"/>
<path stroke="#18addb" d="M316 1311.1l.1-2"/>
<path stroke="#1ca9df" d="M316.1 1309.1l.1-1"/>
<path stroke="#18addb" d="M316.2 1308.1l.1-2"/>
<path stroke="#1ca9df" d="M316.3 1306.1l.3-4"/>
<path stroke="#20a5e3" d="M316.6 1302.1l.1-1.9"/>
<path stroke="#1ca9df" d="M316.7 1300.2l.4-4"/>
<path stroke="#18addb" d="M317.1 1296.2l.4-4"/>
<path stroke="#12b1d6" d="M317.5 1292.2l.2-3"/>
<path stroke="#18addb" d="M317.7 1289.2l.2-2"/>
<path stroke="#1ca9df" d="M317.9 1287.2l.4-4"/>
<path stroke="#20a5e3" d="M318.3 1283.2l.1-1"/>
<path stroke="#1ca9df" d="M318.4 1282.2l.2-2"/>
<path stroke="#18addb" d="M318.6 1280.2l.3-4"/>
<path stroke="#1ca9df" d="M318.9 1276.2l.5-5"/>
<path stroke="#20a5e3" d="M319.4 1271.2l.2-1.9"/>
<path stroke="#1ca9df" d="M319.6 1269.3l.8-6"/>
<path stroke="#18addb" d="M320.4 1263.3l1.5-10.9"/>
<path stroke="#1ca9df" d="M321.9 1252.4l.4-3"/>
<path stroke="#18addb" d="M322.3 1249.4l.2-2"/>
<path stroke="#1ca9df" d="M322.5 1247.4l.2-1"/>
<path stroke="#18addb" d="M322.7 1246.4l.4-2.9"/>
<path stroke="#12b1d6" d="M323.1 1243.5l.4-3"/>
<path stroke="#18addb" d="M323.5 1240.5l.2-2"/>
<path stroke="#12b1d6" d="M323.7 1238.5l.2-1"/>
<path stroke="#18addb" d="M323.9 1237.5l.4-3"/>
<path stroke="#1ca9df" d="M324.3 1234.5l.8-6.9"/>
<path stroke="#20a5e3" d="M325.1 1227.6l.4-3"/>
<path stroke="#1ca9df" d="M325.5 1224.6l.3-3"/>
<path stroke="#18addb" d="M325.8 1221.6l2.1-17.9"/>
<path stroke="#1ca9df" d="M327.9 1203.7l.2-1"/>
<path stroke="#18addb" d="M328.1 1202.7l.6-2.9"/>
<path stroke="#1ca9df" d="M328.7 1199.8l.9-4.9"/>
<path stroke="#20a5e3" d="M329.6 1194.9l.2-1"/>
<path stroke="#23a0e5" d="M329.8 1193.9l.4-2"/>
<path stroke="#20a5e3" d="M330.2 1191.9l.1-1"/>
<path stroke="#23a0e5" d="M330.3 1190.9l.6-2.9"/>
<path stroke="#259be8" d="M330.9 1188l.4-2"/>
<path stroke="#23a0e5" d="M331.3 1186l.1-1"/>
<path stroke="#259be8" d="M331.4 1185l.6-3.9"/>
<path stroke="#2797eb" d="M332 1181.1l.4-3"/>
<path stroke="#2d8cf3" d="M332.4 1178.1l.2-1"/>
<path stroke="#2e87f7" d="M332.6 1177.1l.4-3"/>
<path stroke="#2f81fa" d="M333 1174.1l.1-1"/>
<path stroke="#327cfc" d="M333.1 1173.1h0"/>
<path stroke="#1ca9df" d="M334.5 1164.4l.6-3"/>
<path stroke="#20a5e3" d="M335.1 1161.4l1-4.9"/>
<path stroke="#23a0e5" d="M336.1 1156.5l.8-3.9"/>
<path stroke="#20a5e3" d="M336.9 1152.6l.4-1.9"/>
<path stroke="#1ca9df" d="M337.3 1150.7l.2-1"/>
<path stroke="#20a5e3" d="M337.5 1149.7l.2-1"/>
<path stroke="#1ca9df" d="M337.7 1148.7l1.5-6.9"/>
<path stroke="#20a5e3" d="M339.2 1141.8l.2-.9"/>
<path stroke="#1ca9df" d="M339.4 1140.9l.2-1"/>
<path stroke="#20a5e3" d="M339.6 1139.9l.6-3"/>
<path stroke="#1ca9df" d="M340.2 1136.9l.2-.9"/>
<path stroke="#18addb" d="M340.4 1136l1.9-8.8"/>
<path stroke="#1ca9df" d="M342.3 1127.2l.2-1"/>
<path stroke="#18addb" d="M342.5 1126.2l.9-3.9"/>
<path stroke="#12b1d6" d="M343.4 1122.3l.4-2"/>
<path stroke="#18addb" d="M343.8 1120.3l.2-.9"/>
<path stroke="#12b1d6" d="M344 1119.4l.7-3"/>
<path stroke="#18addb" d="M344.7 1116.4l1.7-7.8"/>
<path stroke="#1ca9df" d="M346.4 1108.6l.2-1"/>
<path stroke="#18addb" d="M346.6 1107.6l1.4-5.8"/>
<path stroke="#1ca9df" d="M348 1101.8l.2-1"/>
<path stroke="#18addb" d="M348.2 1100.8l.8-2.9"/>
<path stroke="#1ca9df" d="M349 1097.9l.4-1.9"/>
<path stroke="#18addb" d="M349.4 1096l.5-2"/>
<path stroke="#1ca9df" d="M349.9 1094l1.4-5.8l.5-.6l2-.1"/>
<path stroke="#18addb" d="M353.8 1087.5l7-.1"/>
<path stroke="#12b1d6" d="M360.8 1087.4l6-.2"/>
<path stroke="#18addb" d="M366.8 1087.2l3-.1"/>
<path stroke="#1ca9df" d="M369.8 1087.1l15-.4"/>
<path stroke="#18addb" d="M384.8 1086.7l3-.1"/>
<path stroke="#12b1d6" d="M387.8 1086.6l3-.1"/>
<path stroke="#18addb" d="M390.8 1086.5l1 0"/>
<path stroke="#12b1d6" d="M391.8 1086.5l2-.1"/>
<path stroke="#18addb" d="M393.8 1086.4l1 0"/>
<path stroke="#12b1d6" d="M394.8 1086.4l5-.2"/>
<path stroke="#08b5d0" d="M399.8 1086.2l1 0"/>
<path stroke="#01b8ca" d="M400.8 1086.2l1-.1"/>
<path stroke="#0bbdbd" d="M401.8 1086.1l1 0"/>
<path stroke="#24c1ae" d="M402.8 1086.1l1-.1"/>
<path stroke="#31c69f" d="M403.8 1086l1 0"/>
<path stroke="#37c897" d="M404.8 1086l1-.1"/>
<path stroke="#4acb84" d="M405.8 1085.9l1 0"/>
<path stroke="#64cd6f" d="M406.8 1085.9l1-.1"/>
<path stroke="#72cd64" d="M407.8 1085.8l1 0"/>
<path stroke="#8fcb4e" d="M408.8 1085.8l1-.1"/>
<path stroke="#abc739" d="M409.8 1085.7l1 0"/>
<path stroke="#b9c431" d="M410.8 1085.7l2-.1"/>
<path stroke="#c5c22a" d="M412.8 1085.6l4-.1"/>
<path stroke="#dcbd29" d="M416.8 1085.5l3-.1"/>
<path stroke="#e6bb2d" d="M419.8 1085.4l3 0"/>
<path stroke="#f0ba36" d="M422.8 1085.4l1-.1"/>
<path stroke="#f8ba3d" d="M423.8 1085.3l2-.1"/>
<path stroke="#febe3c" d="M425.8 1085.2l2 0"/>
<path stroke="#fec338" d="M427.8 1085.2l1-.1"/>
<path stroke="#fec934" d="M428.8 1085.1l1 0"/>
<path stroke="#fccf30" d="M429.8 1085.1l1-.1"/>
<path stroke="#fad62d" d="M430.8 1085l2 0"/>
<path stroke="#f7dc2a" d="M432.8 1085l6-.3"/>
<path stroke="#fad62d" d="M438.8 1084.7l1 0"/>
<path stroke="#fccf30" d="M439.8 1084.7l1 0"/>
<path stroke="#fec934" d="M440.8 1084.7l1-.1"/>
<path stroke="#fec338" d="M441.8 1084.6l3-.1"/>
<path stroke="#f8ba3d" d="M444.8 1084.5l1 0"/>
<path stroke="#dcbd29" d="M445.8 1084.5l1-.1"/>
<path stroke="#c5c22a" d="M446.8 1084.4l1 0"/>
<path stroke="#9dc943" d="M447.8 1084.4l1-.1"/>
<path stroke="#8fcb4e" d="M448.8 1084.3l1 0"/>
<path stroke="#72cd64" d="M449.8 1084.3l1-.1"/>
<path stroke="#81cc59" d="M450.8 1084.2l1 0"/>
<path stroke="#72cd64" d="M451.8 1084.2l1-.1"/>
<path stroke="#81cc59" d="M452.8 1084.1l1 0"/>
<path stroke="#72cd64" d="M453.8 1084.1l2-.1"/>
<path stroke="#64cd6f" d="M455.8 1084l2-.1"/>
<path stroke="#57cc7a" d="M457.8 1083.9l2-.1"/>
<path stroke="#64cd6f" d="M459.8 1083.8l6-.2"/>
<path stroke="#72cd64" d="M465.8 1083.6l2-.1"/>
<path stroke="#64cd6f" d="M467.8 1083.5l1 0"/>
<path stroke="#57cc7a" d="M468.8 1083.5l2-.1"/>
<path stroke="#4acb84" d="M470.8 1083.4l3-.1"/>
<path stroke="#3fca8e" d="M473.8 1083.3l2-.1"/>
<path stroke="#37c897" d="M475.8 1083.2l1-.1"/>
<path stroke="#31c69f" d="M476.8 1083.1l2 0"/>
<path stroke="#2cc4a7" d="M478.8 1083.1l2-.1"/>
<path stroke="#24c1ae" d="M480.8 1083l1-.1"/>
<path stroke="#19bfb6" d="M481.8 1082.9l6-.2"/>
<path stroke="#24c1ae" d="M487.8 1082.7l7-.2"/>
<path stroke="#2cc4a7" d="M494.8 1082.5l2-.1"/>
<path stroke="#24c1ae" d="M496.8 1082.4l4-.2"/>
<path stroke="#2cc4a7" d="M500.8 1082.2l3-.1"/>
<path stroke="#31c69f" d="M503.8 1082.1l1 0"/>
<path stroke="#37c897" d="M504.8 1082.1l1-.1"/>
<path stroke="#3fca8e" d="M505.8 1082l1 0"/>
<path stroke="#4acb84" d="M506.8 1082l3-.1"/>
<path stroke="#57cc7a" d="M509.8 1081.9l1 0"/>
<path stroke="#4acb84" d="M510.8 1081.9l1 0"/>
<path stroke="#57cc7a" d="M511.8 1081.9l5-.2"/>
<path stroke="#64cd6f" d="M516.8 1081.7l1 0"/>
<path stroke="#72cd64" d="M517.8 1081.7l1-.1"/>
<path stroke="#81cc59" d="M518.8 1081.6l1 0"/>
<path stroke="#8fcb4e" d="M519.8 1081.6l2-.1"/>
<path stroke="#9dc943" d="M521.8 1081.5l1-.1"/>
<path stroke="#abc739" d="M522.8 1081.4l1 0"/>
<path stroke="#b9c431" d="M523.8 1081.4l1-.1"/>
<path stroke="#c5c22a" d="M524.8 1081.3l1 0"/>
<path stroke="#d1bf27" d="M525.8 1081.3l1 0"/>
<path stroke="#abc739" d="M526.8 1081.3l1 0"/>
<path stroke="#81cc59" d="M527.8 1081.3l1 0"/>
<path stroke="#57cc7a" d="M528.8 1081.3l1 0"/>
<path stroke="#37c897" d="M529.8 1081.3l1 0"/>
<path stroke="#19bfb6" d="M530.8 1081.3l1 0"/>
<path stroke="#01b8ca" d="M531.8 1081.3l1-.1"/>
<path stroke="#08b5d0" d="M532.8 1081.2l1 0"/>
<path stroke="#12b1d6" d="M533.8 1081.2l1-.1"/>
<path stroke="#18addb" d="M534.8 1081.1l1 0"/>
<path stroke="#1ca9df" d="M535.8 1081.1l2-.1"/>
<path stroke="#20a5e3" d="M537.8 1081l2 0"/>
<path stroke="#1ca9df" d="M539.8 1081l2 0"/>
<path stroke="#20a5e3" d="M541.8 1081l1 0"/>
<path stroke="#1ca9df" d="M542.8 1081l4 0"/>
<path stroke="#20a5e3" d="M546.8 1081l2 0"/>
<path stroke="#1ca9df" d="M548.8 1081l1 0"/>
<path stroke="#20a5e3" d="M549.8 1081l6 0"/>
<path stroke="#1ca9df" d="M555.8 1081l1.9 .1"/>
<path stroke="#20a5e3" d="M557.7 1081.1l.4 5"/>
<path stroke="#1ca9df" d="M558.1 1086.1l0 1"/>
<path stroke="#20a5e3" d="M558.1 1087.1l.6 8"/>
<path stroke="#23a0e5" d="M558.7 1095.1l.1 1"/>
<path stroke="#20a5e3" d="M558.8 1096.1l.1 1"/>
<path stroke="#23a0e5" d="M558.9 1097.1l.1 2"/>
<path stroke="#20a5e3" d="M559 1099.1l.1 1"/>
<path stroke="#23a0e5" d="M559.1 1100.1l.1 .9"/>
<path stroke="#20a5e3" d="M559.2 1101l0 1"/>
<path stroke="#1ca9df" d="M559.2 1102l.2 2"/>
<path stroke="#18addb" d="M559.4 1104l.1 1"/>
<path stroke="#1ca9df" d="M559.5 1105l.4 5"/>
<path stroke="#20a5e3" d="M559.9 1110l.1 1"/>
<path stroke="#1ca9df" d="M560 1111l0 1"/>
<path stroke="#20a5e3" d="M560 1112l.5 6"/>
<path stroke="#23a0e5" d="M560.5 1118l.1 1"/>
<path stroke="#20a5e3" d="M560.6 1119l.1 1"/>
<path stroke="#23a0e5" d="M560.7 1120l.2 2"/>
<path stroke="#20a5e3" d="M560.9 1122l.3 4"/>
<path stroke="#1ca9df" d="M561.2 1126l.2 2"/>
<path stroke="#20a5e3" d="M561.4 1128l0 1"/>
<path stroke="#1ca9df" d="M561.4 1129l.1 1"/>
<path stroke="#20a5e3" d="M561.5 1130l.2 2"/>
<path stroke="#23a0e5" d="M561.7 1132l.7 8.9"/>
<path stroke="#20a5e3" d="M562.4 1140.9l.1 1"/>
<path stroke="#23a0e5" d="M562.5 1141.9l.4 6"/>
<path stroke="#20a5e3" d="M562.9 1147.9l.2 3"/>
<path stroke="#1ca9df" d="M563.1 1150.9l.1 2"/>
<path stroke="#18addb" d="M563.2 1152.9l.2 2"/>
<path stroke="#1ca9df" d="M563.4 1154.9l.1 2"/>
<path stroke="#20a5e3" d="M563.5 1156.9l.1 2"/>
<path stroke="#23a0e5" d="M563.6 1158.9l.2 2"/>
<path stroke="#259be8" d="M563.8 1160.9l.1 2"/>
<path stroke="#23a0e5" d="M563.9 1162.9l.2 3"/>
<path stroke="#20a5e3" d="M564.1 1165.9l.1 2"/>
<path stroke="#1ca9df" d="M564.2 1167.9l.1 1"/>
<path stroke="#20a5e3" d="M564.3 1168.9l.1 1"/>
<path stroke="#1ca9df" d="M564.4 1169.9l.1 2"/>
<path stroke="#20a5e3" d="M564.5 1171.9l.3 5"/>
<path stroke="#23a0e5" d="M564.8 1176.9l.1 1"/>
<path stroke="#20a5e3" d="M564.9 1177.9l.1 1"/>
<path stroke="#23a0e5" d="M565 1178.9l0 1"/>
<path stroke="#20a5e3" d="M565 1179.9l.2 1.9"/>
<path stroke="#1ca9df" d="M565.2 1181.8l.8 13"/>
<path stroke="#20a5e3" d="M566 1194.8l.3 5"/>
<path stroke="#23a0e5" d="M566.3 1199.8l.1 1"/>
<path stroke="#259be8" d="M566.4 1200.8l.1 1"/>
<path stroke="#23a0e5" d="M566.5 1201.8l.1 2"/>
<path stroke="#20a5e3" d="M566.6 1203.8l.2 3"/>
<path stroke="#23a0e5" d="M566.8 1206.8l.3 3"/>
<path stroke="#20a5e3" d="M567.1 1209.8l0 1"/>
<path stroke="#23a0e5" d="M567.1 1210.8l.7 8"/>
<path stroke="#20a5e3" d="M567.8 1218.8l0 1"/>
<path stroke="#23a0e5" d="M567.8 1219.8l.1 1"/>
<path stroke="#20a5e3" d="M567.9 1220.8l.3 3"/>
<path stroke="#1ca9df" d="M568.2 1223.8l.2 2.9"/>
<path stroke="#20a5e3" d="M568.4 1226.7l.7 9"/>
<path stroke="#1ca9df" d="M569.1 1235.7l.3 3"/>
<path stroke="#20a5e3" d="M569.4 1238.7l.4 5"/>
<path stroke="#23a0e5" d="M569.8 1243.7l.1 1"/>
<path stroke="#259be8" d="M569.9 1244.7l.1 2"/>
<path stroke="#23a0e5" d="M570 1246.7l1 11.9"/>
<path stroke="#259be8" d="M571 1258.6l.1 1"/>
<path stroke="#23a0e5" d="M571.1 1259.6l.2 2"/>
<path stroke="#259be8" d="M571.3 1261.6l.2 3"/>
<path stroke="#2797eb" d="M571.5 1264.6l.4 5"/>
<path stroke="#2b91ef" d="M571.9 1269.6l.2 2"/>
<path stroke="#2797eb" d="M572.1 1271.6l.3 3"/>
<path stroke="#259be8" d="M572.4 1274.6l.3 4"/>
<path stroke="#23a0e5" d="M572.7 1278.6l.3 4"/>
<path stroke="#259be8" d="M573 1282.6l.8 8.9"/>
<path stroke="#23a0e5" d="M573.8 1291.5l.3 4"/>
<path stroke="#259be8" d="M574.1 1295.5l.3 3"/>
<path stroke="#23a0e5" d="M574.4 1298.5l0 1"/>
<path stroke="#259be8" d="M574.4 1299.5l.2 2"/>
<path stroke="#2797eb" d="M574.6 1301.5l.3 4"/>
<path stroke="#259be8" d="M574.9 1305.5l.2 2"/>
<path stroke="#2797eb" d="M575.1 1307.5l.1 1"/>
<path stroke="#23a0e5" d="M575.2 1308.5l.4 5"/>
<path stroke="#20a5e3" d="M575.6 1313.5l.1 1"/>
<path stroke="#23a0e5" d="M575.7 1314.5l.1 1"/>
<path stroke="#20a5e3" d="M575.8 1315.5l.1 1"/>
<path stroke="#23a0e5" d="M575.9 1316.5l.4 4.9"/>
<path stroke="#259be8" d="M576.3 1321.4l.5 6"/>
<path stroke="#23a0e5" d="M576.8 1327.4l.3 4"/>
<path stroke="#20a5e3" d="M577.1 1331.4l.1 1"/>
<path stroke="#23a0e5" d="M577.2 1332.4l.1 2"/>
<path stroke="#20a5e3" d="M577.3 1334.4l.1 1"/>
<path stroke="#23a0e5" d="M577.4 1335.4l.1 1"/>
<path stroke="#20a5e3" d="M577.5 1336.4l.1 1"/>
<path stroke="#23a0e5" d="M577.6 1337.4l.3 4"/>
<path stroke="#20a5e3" d="M577.9 1341.4l.3 3"/>
<path stroke="#23a0e5" d="M578.2 1344.4l.4 5"/>
<path stroke="#259be8" d="M578.6 1349.4l.1 1"/>
<path stroke="#23a0e5" d="M578.7 1350.4l.1 .9"/>
<path stroke="#259be8" d="M578.8 1351.3l0 1"/>
<path stroke="#23a0e5" d="M578.8 1352.3l.3 3"/>
<path stroke="#259be8" d="M579.1 1355.3l.1 1"/>
<path stroke="#23a0e5" d="M579.2 1356.3l.2 3"/>
<path stroke="#259be8" d="M579.4 1359.3l.4 5"/>
<path stroke="#2797eb" d="M579.8 1364.3l.3 3"/>
<path stroke="#259be8" d="M580.1 1367.3l.3 4"/>
<path stroke="#23a0e5" d="M580.4 1371.3l.2 2"/>
<path stroke="#20a5e3" d="M580.6 1373.3l.1 1"/>
<path stroke="#1ca9df" d="M580.7 1374.3l.7 8.9"/>
<path stroke="#20a5e3" d="M581.4 1383.2l.2 2"/>
<path stroke="#1ca9df" d="M581.6 1385.2l1 12"/>
<path stroke="#20a5e3" d="M582.6 1397.2l.1 1"/>
<path stroke="#1ca9df" d="M582.7 1398.2l.2 2"/>
<path stroke="#20a5e3" d="M582.9 1400.2l.2 2"/>
<path stroke="#1ca9df" d="M583.1 1402.2l0 1"/>
<path stroke="#18addb" d="M583.1 1403.2l.3 3"/>
<path stroke="#12b1d6" d="M583.4 1406.2l.4 4"/>
<path stroke="#08b5d0" d="M583.8 1410.2l.1 .9"/>
<path stroke="#12b1d6" d="M583.9 1411.1l.1 2"/>
<path stroke="#18addb" d="M584 1413.1l.5 5l.5 .6l2 0"/>
<path stroke="#12b1d6" d="M587 1418.7l5 0"/>
<path stroke="#08b5d0" d="M592 1418.7l2 0"/>
<path stroke="#01b8ca" d="M594 1418.7l.4-1.9"/>
<path stroke="#08b5d0" d="M594.4 1416.8l.3-3"/>
<path stroke="#12b1d6" d="M594.7 1413.8l.2-2"/>
<path stroke="#18addb" d="M594.9 1411.8l.8-6.9"/>
<path stroke="#1ca9df" d="M595.7 1404.9l.5-4"/>
<path stroke="#23a0e5" d="M596.2 1400.9l.2-2"/>
<path stroke="#259be8" d="M596.4 1398.9l.7-6.9"/>
<path stroke="#23a0e5" d="M597.1 1392l.2-2"/>
<path stroke="#259be8" d="M597.3 1390l.3-4"/>
<path stroke="#23a0e5" d="M597.6 1386l.1-1"/>
<path stroke="#259be8" d="M597.7 1385l.3-4"/>
<path stroke="#23a0e5" d="M598 1381l.2-3"/>
<path stroke="#20a5e3" d="M598.2 1378l.1-1"/>
<path stroke="#23a0e5" d="M598.3 1377l.2-2"/>
<path stroke="#20a5e3" d="M598.5 1375l0-1"/>
<path stroke="#23a0e5" d="M598.5 1374l.9-11"/>
<path stroke="#259be8" d="M599.4 1363l.3-3.9"/>
<path stroke="#2797eb" d="M599.7 1359.1l.4-5"/>
<path stroke="#259be8" d="M600.1 1354.1l.1-1"/>
<path stroke="#2797eb" d="M600.2 1353.1l.4-4"/>
<path stroke="#2b91ef" d="M600.6 1349.1l.1-1"/>
<path stroke="#2797eb" d="M600.7 1348.1l.4-4"/>
<path stroke="#2b91ef" d="M601.1 1344.1l.3-3"/>
<path stroke="#2797eb" d="M601.4 1341.1l.3-3"/>
<path stroke="#2b91ef" d="M601.7 1338.1l.1-1"/>
<path stroke="#2797eb" d="M601.8 1337.1l.1-.9"/>
<path stroke="#259be8" d="M601.9 1336.2l.2-2"/>
<path stroke="#23a0e5" d="M602.1 1334.2l.3-3"/>
<path stroke="#259be8" d="M602.4 1331.2l.8-8"/>
<path stroke="#2797eb" d="M603.2 1323.2l.1-1"/>
<path stroke="#259be8" d="M603.3 1322.2l.5-5"/>
<path stroke="#2797eb" d="M603.8 1317.2l.6-6.9"/>
<path stroke="#2b91ef" d="M604.4 1310.3l.2-2"/>
<path stroke="#2797eb" d="M604.6 1308.3l.1-2"/>
<path stroke="#2b91ef" d="M604.7 1306.3l.2-3"/>
<path stroke="#2d8cf3" d="M604.9 1303.3l.3-5"/>
<path stroke="#2b91ef" d="M605.2 1298.3l.2-2"/>
<path stroke="#2d8cf3" d="M605.4 1296.3l0-1"/>
<path stroke="#2b91ef" d="M605.4 1295.3l.2-2"/>
<path stroke="#2d8cf3" d="M605.6 1293.3l.1-2"/>
<path stroke="#2b91ef" d="M605.7 1291.3l.1-2"/>
<path stroke="#2d8cf3" d="M605.8 1289.3l.2-2"/>
<path stroke="#2b91ef" d="M606 1287.3l0-1"/>
<path stroke="#2d8cf3" d="M606 1286.3l.1-1"/>
<path stroke="#2b91ef" d="M606.1 1285.3l.1-1"/>
<path stroke="#2797eb" d="M606.2 1284.3l0-1"/>
<path stroke="#2b91ef" d="M606.2 1283.3l.3-4"/>
<path stroke="#2d8cf3" d="M606.5 1279.3l.1-1"/>
<path stroke="#2b91ef" d="M606.6 1278.3l.1-2"/>
<path stroke="#2d8cf3" d="M606.7 1276.3l.1-2"/>
<path stroke="#2e87f7" d="M606.8 1274.3l.3-4"/>
<path stroke="#2d8cf3" d="M607.1 1270.3l.4-3.9"/>
<path stroke="#2b91ef" d="M607.5 1266.4l.1-2"/>
<path stroke="#2797eb" d="M607.6 1264.4l.5-5"/>
<path stroke="#2b91ef" d="M608.1 1259.4l.1-2"/>
<path stroke="#2e87f7" d="M608.2 1257.4l.1-1"/>
<path stroke="#2d8cf3" d="M608.3 1256.4l.5-6"/>
<path stroke="#2b91ef" d="M608.8 1250.4l.1-1"/>
<path stroke="#2797eb" d="M608.9 1249.4l.3-3"/>
<path stroke="#259be8" d="M609.2 1246.4l.1-1"/>
<path stroke="#2797eb" d="M609.3 1245.4l.4-4.9"/>
<path stroke="#2b91ef" d="M609.7 1240.5l.4-5"/>
<path stroke="#2797eb" d="M610.1 1235.5l.2-2"/>
<path stroke="#2b91ef" d="M610.3 1233.5l.2-2"/>
<path stroke="#2797eb" d="M610.5 1231.5l.6-6"/>
<path stroke="#2b91ef" d="M611.1 1225.5l.4-4"/>
<path stroke="#2d8cf3" d="M611.5 1221.5l.3-3"/>
<path stroke="#2e87f7" d="M611.8 1218.5l.8-7.9"/>
<path stroke="#2f81fa" d="M612.6 1210.6l.2-1"/>
<path stroke="#2e87f7" d="M612.8 1209.6l.1-1"/>
<path stroke="#2f81fa" d="M612.9 1208.6l.2-1"/>
<path stroke="#2e87f7" d="M613.1 1207.6l.1-1"/>
<path stroke="#2f81fa" d="M613.2 1206.6l.2-.9"/>
<path stroke="#2e87f7" d="M613.4 1205.7l.3-2"/>
<path stroke="#2f81fa" d="M613.7 1203.7l.2-1"/>
<path stroke="#2e87f7" d="M613.9 1202.7l.5-3"/>
<path stroke="#2d8cf3" d="M614.4 1199.7l.2-1"/>
<path stroke="#2b91ef" d="M614.6 1198.7l.6-3.9"/>
<path stroke="#2797eb" d="M615.2 1194.8l.5-3"/>
<path stroke="#259be8" d="M615.7 1191.8l.2-.9"/>
<path stroke="#23a0e5" d="M615.9 1190.9l.3-2"/>
<path stroke="#20a5e3" d="M616.2 1188.9l.5-3"/>
<path stroke="#1ca9df" d="M616.7 1185.9l.5-5"/>
<path stroke="#20a5e3" d="M617.2 1180.9l.9-7.9"/>
<path stroke="#1ca9df" d="M618.1 1173l.2-2"/>
<path stroke="#18addb" d="M618.3 1171l.6-5"/>
<path stroke="#12b1d6" d="M618.9 1166l.1-1"/>
<path stroke="#08b5d0" d="M619 1165l.3-2.9"/>
<path stroke="#01b8ca" d="M619.3 1162.1l.2-1"/>
<path stroke="#02bac3" d="M619.5 1161.1l.3-2"/>
<path stroke="#0bbdbd" d="M619.8 1159.1l.3-2"/>
<path stroke="#02bac3" d="M620.1 1157.1l.6-4"/>
<path stroke="#01b8ca" d="M620.7 1153.1l1-6.9"/>
<path stroke="#08b5d0" d="M621.7 1146.2l.3-2"/>
<path stroke="#01b8ca" d="M622 1144.2l.7-4.9"/>
<path stroke="#02bac3" d="M622.7 1139.3l.2-1"/>
<path stroke="#01b8ca" d="M622.9 1138.3l.1-1"/>
<path stroke="#02bac3" d="M623 1137.3l.6-3.9"/>
<path stroke="#01b8ca" d="M623.6 1133.4l.7-4"/>
<path stroke="#02bac3" d="M624.3 1129.4l.2-1"/>
<path stroke="#01b8ca" d="M624.5 1128.4l.1-1"/>
<path stroke="#02bac3" d="M624.6 1127.4l.3-1.9"/>
<path stroke="#01b8ca" d="M624.9 1125.5l.2-1"/>
<path stroke="#02bac3" d="M625.1 1124.5l.2-1"/>
<path stroke="#01b8ca" d="M625.3 1123.5l.1-1"/>
<path stroke="#08b5d0" d="M625.4 1122.5l.4-2"/>
<path stroke="#12b1d6" d="M625.8 1120.5l.3-1.9"/>
<path stroke="#18addb" d="M626.1 1118.6l.3-2"/>
<path stroke="#12b1d6" d="M626.4 1116.6l.2-1"/>
<path stroke="#18addb" d="M626.6 1115.6l.2-1"/>
<path stroke="#12b1d6" d="M626.8 1114.6l.3-2"/>
<path stroke="#18addb" d="M627.1 1112.6l2.4-9.6"/>
<path stroke="#12b1d6" d="M629.5 1103l.8-2.9"/>
<path stroke="#18addb" d="M630.3 1100.1l.6-2"/>
<path stroke="#12b1d6" d="M630.9 1098.1l.5-1.9"/>
<path stroke="#18addb" d="M631.4 1096.2l1.1-3.8"/>
<path stroke="#1ca9df" d="M632.5 1092.4l.3-1"/>
<path stroke="#18addb" d="M632.8 1091.4l.5-1.9"/>
<path stroke="#1ca9df" d="M633.3 1089.5l.2-1"/>
<path stroke="#18addb" d="M633.5 1088.5l.7-3.9"/>
<path stroke="#1ca9df" d="M634.2 1084.6l.2-1"/>
<path stroke="#18addb" d="M634.4 1083.6l.6-3"/>
<path stroke="#12b1d6" d="M635 1080.6l.2-.9"/>
<path stroke="#18addb" d="M635.2 1079.7l.2-1"/>
<path stroke="#1ca9df" d="M635.4 1078.7l.4-2"/>
<path stroke="#18addb" d="M635.8 1076.7l1.4-6.8"/>
<path stroke="#12b1d6" d="M637.2 1069.9l.8-4"/>
<path stroke="#18addb" d="M638 1065.9l.2-1"/>
<path stroke="#12b1d6" d="M638.2 1064.9l.4-1.9"/>
<path stroke="#18addb" d="M638.6 1063l.4-2"/>
<path stroke="#1ca9df" d="M639 1061l.2-.8l1 0"/>
<path stroke="#18addb" d="M640.2 1060.2l3 .2"/>
<path stroke="#1ca9df" d="M643.2 1060.4l1 .1"/>
<path stroke="#20a5e3" d="M644.2 1060.5l3 .1"/>
<path stroke="#1ca9df" d="M647.2 1060.6l1 .1"/>
<path stroke="#20a5e3" d="M648.2 1060.7l4 .2"/>
<path stroke="#1ca9df" d="M652.2 1060.9l1 .1"/>
<path stroke="#18addb" d="M653.2 1061l4 .2"/>
<path stroke="#12b1d6" d="M657.2 1061.2l2 0"/>
<path stroke="#18addb" d="M659.2 1061.2l2 0"/>
<path stroke="#1ca9df" d="M661.2 1061.2l4 0"/>
<path stroke="#20a5e3" d="M665.2 1061.2l5-.1"/>
<path stroke="#1ca9df" d="M670.2 1061.1l4-.1"/>
<path stroke="#18addb" d="M674.2 1061l2 0"/>
<path stroke="#1ca9df" d="M676.2 1061l1 0"/>
<path stroke="#18addb" d="M677.2 1061l3 0"/>
<path stroke="#1ca9df" d="M680.2 1061l3-.1"/>
<path stroke="#18addb" d="M683.2 1060.9l3 0"/>
<path stroke="#12b1d6" d="M686.2 1060.9l6-.1"/>
<path stroke="#18addb" d="M692.2 1060.8l6-.1"/>
<path stroke="#12b1d6" d="M698.2 1060.7l7-.2"/>
<path stroke="#18addb" d="M705.2 1060.5l4-.1"/>
<path stroke="#12b1d6" d="M709.2 1060.4l1 0"/>
<path stroke="#18addb" d="M710.2 1060.4l9-.1"/>
<path stroke="#12b1d6" d="M719.2 1060.3l5 .3"/>
<path stroke="#08b5d0" d="M724.2 1060.6l3 .1"/>
<path stroke="#01b8ca" d="M727.2 1060.7l7 .3"/>
<path stroke="#08b5d0" d="M734.2 1061l1 0"/>
<path stroke="#01b8ca" d="M735.2 1061l1 0"/>
<path stroke="#08b5d0" d="M736.2 1061l4 0"/>
<path stroke="#01b8ca" d="M740.2 1061l14 0"/>
<path stroke="#08b5d0" d="M754.2 1061l11 0"/>
<path stroke="#01b8ca" d="M765.2 1061l2 0"/>
<path stroke="#08b5d0" d="M767.2 1061l4 0"/>
<path stroke="#12b1d6" d="M771.2 1061l4 0"/>
<path stroke="#18addb" d="M775.2 1061l1 0"/>
<path stroke="#12b1d6" d="M776.2 1061l1 0"/>
<path stroke="#18addb" d="M777.2 1061l1 .1"/>
<path stroke="#12b1d6" d="M778.2 1061.1l.1 1.9"/>
<path stroke="#01b8ca" d="M778.3 1063l.3 3"/>
<path stroke="#02bac3" d="M778.6 1066l.1 1"/>
<path stroke="#0bbdbd" d="M778.7 1067l.1 1"/>
<path stroke="#02bac3" d="M778.8 1068l.6 6"/>
<path stroke="#01b8ca" d="M779.4 1074l.1 1"/>
<path stroke="#02bac3" d="M779.5 1075l.1 1"/>
<path stroke="#01b8ca" d="M779.6 1076l0 1"/>
<path stroke="#02bac3" d="M779.6 1077l.2 2"/>
<path stroke="#0bbdbd" d="M779.8 1079l.2 2"/>
<path stroke="#02bac3" d="M780 1081l.1 1"/>
<path stroke="#0bbdbd" d="M780.1 1082l.7 6.9"/>
<path stroke="#19bfb6" d="M780.8 1088.9l.1 2"/>
<path stroke="#24c1ae" d="M780.9 1090.9l.1 1"/>
<path stroke="#19bfb6" d="M781 1091.9l.2 2"/>
<path stroke="#24c1ae" d="M781.2 1093.9l.2 2"/>
<path stroke="#2cc4a7" d="M781.4 1095.9l.5 7"/>
<path stroke="#24c1ae" d="M781.9 1102.9l.3 3"/>
<path stroke="#2cc4a7" d="M782.2 1105.9l.3 4"/>
<path stroke="#31c69f" d="M782.5 1109.9l.2 2"/>
<path stroke="#37c897" d="M782.7 1111.9l.1 1"/>
<path stroke="#31c69f" d="M782.8 1112.9l.2 3"/>
<path stroke="#37c897" d="M783 1115.9l.8 8.9"/>
<path stroke="#31c69f" d="M783.8 1124.8l.2 3"/>
<path stroke="#2cc4a7" d="M784 1127.8l.2 3"/>
<path stroke="#24c1ae" d="M784.2 1130.8l.1 1"/>
<path stroke="#2cc4a7" d="M784.3 1131.8l.5 8"/>
<path stroke="#31c69f" d="M784.8 1139.8l.2 3"/>
<path stroke="#2cc4a7" d="M785 1142.8l.1 1"/>
<path stroke="#31c69f" d="M785.1 1143.8l.1 1"/>
<path stroke="#2cc4a7" d="M785.2 1144.8l.3 5"/>
<path stroke="#24c1ae" d="M785.5 1149.8l.2 3"/>
<path stroke="#19bfb6" d="M785.7 1152.8l.1 1"/>
<path stroke="#24c1ae" d="M785.8 1153.8l.1 1"/>
<path stroke="#19bfb6" d="M785.9 1154.8l.1 1"/>
<path stroke="#24c1ae" d="M786 1155.8l.1 2"/>
<path stroke="#19bfb6" d="M786.1 1157.8l.4 4.9"/>
<path stroke="#24c1ae" d="M786.5 1162.7l.4 5"/>
<path stroke="#19bfb6" d="M786.9 1167.7l.4 5"/>
<path stroke="#0bbdbd" d="M787.3 1172.7l.1 1"/>
<path stroke="#02bac3" d="M787.4 1173.7l.1 1"/>
<path stroke="#0bbdbd" d="M787.5 1174.7l.2 3"/>
<path stroke="#02bac3" d="M787.7 1177.7l.3 3"/>
<path stroke="#01b8ca" d="M788 1180.7l.1 1"/>
<path stroke="#02bac3" d="M788.1 1181.7l.2 3"/>
<path stroke="#01b8ca" d="M788.3 1184.7l.7 7.9"/>
<path stroke="#08b5d0" d="M789 1192.6l0 1"/>
<path stroke="#01b8ca" d="M789 1193.6l.5 6"/>
<path stroke="#08b5d0" d="M789.5 1199.6l.4 5"/>
<path stroke="#12b1d6" d="M789.9 1204.6l.7 9"/>
<path stroke="#08b5d0" d="M790.6 1213.6l.6 8"/>
<path stroke="#12b1d6" d="M791.2 1221.6l.3 3"/>
<path stroke="#18addb" d="M791.5 1224.6l0 1"/>
<path stroke="#12b1d6" d="M791.5 1225.6l.2 2"/>
<path stroke="#18addb" d="M791.7 1227.6l.1 .9"/>
<path stroke="#1ca9df" d="M791.8 1228.5l0 1"/>
<path stroke="#18addb" d="M791.8 1229.5l.1 1"/>
<path stroke="#1ca9df" d="M791.9 1230.5l.2 2"/>
<path stroke="#20a5e3" d="M792.1 1232.5l.1 1"/>
<path stroke="#1ca9df" d="M792.2 1233.5l0 1"/>
<path stroke="#20a5e3" d="M792.2 1234.5l.2 2"/>
<path stroke="#1ca9df" d="M792.4 1236.5l.3 3"/>
<path stroke="#18addb" d="M792.7 1239.5l0 1"/>
<path stroke="#12b1d6" d="M792.7 1240.5l.3 3"/>
<path stroke="#18addb" d="M793 1243.5l.1 1"/>
<path stroke="#12b1d6" d="M793.1 1244.5l.1 1"/>
<path stroke="#18addb" d="M793.2 1245.5l0 1"/>
<path stroke="#12b1d6" d="M793.2 1246.5l.3 3"/>
<path stroke="#18addb" d="M793.5 1249.5l.2 3"/>
<path stroke="#12b1d6" d="M793.7 1252.5l.1 1"/>
<path stroke="#18addb" d="M793.8 1253.5l.4 5"/>
<path stroke="#12b1d6" d="M794.2 1258.5l.4 3.9"/>
<path stroke="#08b5d0" d="M794.6 1262.4l.5 7"/>
<path stroke="#12b1d6" d="M795.1 1269.4l.7 8"/>
<path stroke="#18addb" d="M795.8 1277.4l.1 1"/>
<path stroke="#12b1d6" d="M795.9 1278.4l.2 3"/>
<path stroke="#18addb" d="M796.1 1281.4l.1 1"/>
<path stroke="#12b1d6" d="M796.2 1282.4l.1 1"/>
<path stroke="#18addb" d="M796.3 1283.4l.4 5"/>
<path stroke="#12b1d6" d="M796.7 1288.4l.7 7.9"/>
<path stroke="#18addb" d="M797.4 1296.3l.4 5"/>
<path stroke="#12b1d6" d="M797.8 1301.3l.1 1"/>
<path stroke="#18addb" d="M797.9 1302.3l.2 2"/>
<path stroke="#1ca9df" d="M798.1 1304.3l.1 2"/>
<path stroke="#18addb" d="M798.2 1306.3l.1 1"/>
<path stroke="#1ca9df" d="M798.3 1307.3l.3 4"/>
<path stroke="#18addb" d="M798.6 1311.3l.2 2"/>
<path stroke="#12b1d6" d="M798.8 1313.3l.3 3"/>
<path stroke="#08b5d0" d="M799.1 1316.3l0 1"/>
<path stroke="#12b1d6" d="M799.1 1317.3l.3 3"/>
<path stroke="#18addb" d="M799.4 1320.3l.4 4.9"/>
<path stroke="#1ca9df" d="M799.8 1325.2l.1 1"/>
<path stroke="#18addb" d="M799.9 1326.2l.2 2"/>
<path stroke="#12b1d6" d="M800.1 1328.2l.3 4"/>
<path stroke="#18addb" d="M800.4 1332.2l.3 4"/>
<path stroke="#12b1d6" d="M800.7 1336.2l.1 1"/>
<path stroke="#18addb" d="M800.8 1337.2l.1 1"/>
<path stroke="#12b1d6" d="M800.9 1338.2l.5 6"/>
<path stroke="#18addb" d="M801.4 1344.2l.2 3"/>
<path stroke="#1ca9df" d="M801.6 1347.2l.8 8.9"/>
<path stroke="#18addb" d="M802.4 1356.1l.2 3"/>
<path stroke="#1ca9df" d="M802.6 1359.1l.1 1"/>
<path stroke="#18addb" d="M802.7 1360.1l.7 8"/>
<path stroke="#12b1d6" d="M803.4 1368.1l.4 5"/>
<path stroke="#08b5d0" d="M803.8 1373.1l.6 7"/>
<path stroke="#01b8ca" d="M804.4 1380.1l.6 7.9"/>
<path stroke="#02bac3" d="M805 1388l.1 1"/>
<path stroke="#01b8ca" d="M805.1 1389l.4 4"/>
<path stroke="#02bac3" d="M805.5 1393l.2 3"/>
<path stroke="#01b8ca" d="M805.7 1396l.1 1"/>
<path stroke="#08b5d0" d="M805.8 1397l.4 4"/>
<path stroke="#12b1d6" d="M806.2 1401l.1 1"/>
<path stroke="#18addb" d="M806.3 1402l.4 5"/>
<path stroke="#1ca9df" d="M806.7 1407l.6 6"/>
<path stroke="#20a5e3" d="M807.3 1413l.3 3.9"/>
<path stroke="#1ca9df" d="M807.6 1416.9l.4 1.8"/>
<path stroke="#20a5e3" d="M808 1418.7l1 .1"/>
<path stroke="#23a0e5" d="M809 1418.8l1 .1"/>
<path stroke="#2797eb" d="M810 1418.9l1 .1"/>
<path stroke="#2b91ef" d="M811 1419l1 .2"/>
<path stroke="#2e87f7" d="M812 1419.2l1 0"/>
<path stroke="#327cfc" d="M813 1419.2l1 0"/>
<path stroke="#3e6fff" d="M814 1419.2l1 0"/>
<path stroke="#4269fe" d="M815 1419.2l1 0"/>
<path stroke="#4563fd" d="M816 1419.2l1 0"/>
<path stroke="#4758f8" d="M817 1419.2l.4-.6"/>
<path stroke="#4852f4" d="M817.4 1418.6l.1-2"/>
<path stroke="#4758f8" d="M817.5 1416.6l.1-2"/>
<path stroke="#465efb" d="M817.6 1414.6l.1-1"/>
<path stroke="#4563fd" d="M817.7 1413.6l.1-2"/>
<path stroke="#4269fe" d="M817.8 1411.6l.1-2"/>
<path stroke="#3e6fff" d="M817.9 1409.6l.1-1"/>
<path stroke="#3875fe" d="M818 1408.6l.3-6"/>
<path stroke="#327cfc" d="M818.3 1402.6l.2-3"/>
<path stroke="#2f81fa" d="M818.5 1399.6l.1-2"/>
<path stroke="#327cfc" d="M818.6 1397.6l.2-3"/>
<path stroke="#3875fe" d="M818.8 1394.6l.1-1"/>
<path stroke="#3e6fff" d="M818.9 1393.6l0-1"/>
<path stroke="#4269fe" d="M818.9 1392.6l.2-2"/>
<path stroke="#4563fd" d="M819.1 1390.6l0-1"/>
<path stroke="#465efb" d="M819.1 1389.6l.5-8"/>
<path stroke="#4563fd" d="M819.6 1381.6l.1-2"/>
<path stroke="#465efb" d="M819.7 1379.6l.1-1"/>
<path stroke="#4758f8" d="M819.8 1378.6l.1-2"/>
<path stroke="#4563fd" d="M819.9 1376.6l.1-1"/>
<path stroke="#3e6fff" d="M820 1375.6l.1-1"/>
<path stroke="#327cfc" d="M820.1 1374.6l.1-1"/>
<path stroke="#2f81fa" d="M820.2 1373.6l0-.9"/>
<path stroke="#2d8cf3" d="M820.2 1372.7l.1-1"/>
<path stroke="#2797eb" d="M820.3 1371.7l.1-1"/>
<path stroke="#23a0e5" d="M820.4 1370.7l.1-1"/>
<path stroke="#1ca9df" d="M820.5 1369.7l0-1"/>
<path stroke="#08b5d0" d="M820.5 1368.7l.1-1"/>
<path stroke="#01b8ca" d="M820.6 1367.7l.1-1"/>
<path stroke="#0bbdbd" d="M820.7 1366.7l.2-2"/>
<path stroke="#19bfb6" d="M820.9 1364.7l0-1"/>
<path stroke="#24c1ae" d="M820.9 1363.7l.1-1"/>
<path stroke="#2cc4a7" d="M821 1362.7l.4-4"/>
<path stroke="#31c69f" d="M821.4 1358.7l.3-4"/>
<path stroke="#37c897" d="M821.7 1354.7l.1-1"/>
<path stroke="#3fca8e" d="M821.8 1353.7l.1-2"/>
<path stroke="#4acb84" d="M821.9 1351.7l.3-3"/>
<path stroke="#57cc7a" d="M822.2 1348.7l.3-4"/>
<path stroke="#4acb84" d="M822.5 1344.7l0-1"/>
<path stroke="#57cc7a" d="M822.5 1343.7l.1-1"/>
<path stroke="#4acb84" d="M822.6 1342.7l.1-1"/>
<path stroke="#57cc7a" d="M822.7 1341.7l0-1"/>
<path stroke="#4acb84" d="M822.7 1340.7l.4-4.9"/>
<path stroke="#57cc7a" d="M823.1 1335.8l.3-4"/>
<path stroke="#64cd6f" d="M823.4 1331.8l.1-1"/>
<path stroke="#57cc7a" d="M823.5 1330.8l.3-5"/>
<path stroke="#4acb84" d="M823.8 1325.8l.5-7"/>
<path stroke="#3fca8e" d="M824.3 1318.8l.2-3"/>
<path stroke="#4acb84" d="M824.5 1315.8l.1-1"/>
<path stroke="#3fca8e" d="M824.6 1314.8l.6-7"/>
<path stroke="#4acb84" d="M825.2 1307.8l0-1"/>
<path stroke="#3fca8e" d="M825.2 1306.8l.3-3"/>
<path stroke="#37c897" d="M825.5 1303.8l.1-1"/>
<path stroke="#3fca8e" d="M825.6 1302.8l.2-3"/>
<path stroke="#37c897" d="M825.8 1299.8l.1-.9"/>
<path stroke="#31c69f" d="M825.9 1298.9l.4-4"/>
<path stroke="#37c897" d="M826.3 1294.9l.1-1"/>
<path stroke="#31c69f" d="M826.4 1293.9l.2-3"/>
<path stroke="#37c897" d="M826.6 1290.9l.1-1"/>
<path stroke="#31c69f" d="M826.7 1289.9l.5-6"/>
<path stroke="#2cc4a7" d="M827.2 1283.9l.3-3"/>
<path stroke="#24c1ae" d="M827.5 1280.9l.1-1"/>
<path stroke="#19bfb6" d="M827.6 1279.9l.3-4"/>
<path stroke="#0bbdbd" d="M827.9 1275.9l.6-5.9"/>
<path stroke="#19bfb6" d="M828.5 1270l.1-1"/>
<path stroke="#0bbdbd" d="M828.6 1269l.1-1"/>
<path stroke="#19bfb6" d="M828.7 1268l.3-3"/>
<path stroke="#0bbdbd" d="M829 1265l.9-8"/>
<path stroke="#02bac3" d="M829.9 1257l.1-1"/>
<path stroke="#19bfb6" d="M830 1256l.2-1"/>
<path stroke="#0bbdbd" d="M830.2 1255l.6-5.9"/>
<path stroke="#19bfb6" d="M830.8 1249.1l.1-1"/>
<path stroke="#24c1ae" d="M830.9 1248.1l.2-1"/>
<path stroke="#19bfb6" d="M831.1 1247.1l.3-3"/>
<path stroke="#0bbdbd" d="M831.4 1244.1l.4-4"/>
<path stroke="#02bac3" d="M831.8 1240.1l.2-1"/>
<path stroke="#0bbdbd" d="M832 1239.1l.1-1"/>
<path stroke="#02bac3" d="M832.1 1238.1l.1-.9"/>
<path stroke="#0bbdbd" d="M832.2 1237.2l.3-3"/>
<path stroke="#19bfb6" d="M832.5 1234.2l.5-4"/>
<path stroke="#0bbdbd" d="M833 1230.2l.1-1"/>
<path stroke="#19bfb6" d="M833.1 1229.2l.2-3"/>
<path stroke="#24c1ae" d="M833.3 1226.2l.1-1"/>
<path stroke="#19bfb6" d="M833.4 1225.2l.1-1"/>
<path stroke="#0bbdbd" d="M833.5 1224.2l.1-1"/>
<path stroke="#19bfb6" d="M833.6 1223.2l.1-1"/>
<path stroke="#0bbdbd" d="M833.7 1222.2l.1-1"/>
<path stroke="#19bfb6" d="M833.8 1221.2l.2-2"/>
<path stroke="#0bbdbd" d="M834 1219.2l.6-6.9"/>
<path stroke="#02bac3" d="M834.6 1212.3l.3-3"/>
<path stroke="#0bbdbd" d="M834.9 1209.3l.4-4"/>
<path stroke="#19bfb6" d="M835.3 1205.3l0-1"/>
<path stroke="#0bbdbd" d="M835.3 1204.3l1-10"/>
<path stroke="#19bfb6" d="M836.3 1194.3l.3-2.9"/>
<path stroke="#0bbdbd" d="M836.6 1191.4l.2-2"/>
<path stroke="#02bac3" d="M836.8 1189.4l1-10"/>
<path stroke="#0bbdbd" d="M837.8 1179.4l.2-2"/>
<path stroke="#02bac3" d="M838 1177.4l.4-4"/>
<path stroke="#01b8ca" d="M838.4 1173.4l.1-1"/>
<path stroke="#02bac3" d="M838.5 1172.4l0-1"/>
<path stroke="#01b8ca" d="M838.5 1171.4l.3-4.9"/>
<path stroke="#02bac3" d="M838.8 1166.5l.1-1"/>
<path stroke="#01b8ca" d="M838.9 1165.5l.1-1"/>
<path stroke="#02bac3" d="M839 1164.5l.8-14"/>
<path stroke="#0bbdbd" d="M839.8 1150.5l.4-8"/>
<path stroke="#19bfb6" d="M840.2 1142.5l.2-3"/>
<path stroke="#0bbdbd" d="M840.4 1139.5l.2-1"/>
<path stroke="#19bfb6" d="M840.6 1138.5l.2-1"/>
<path stroke="#0bbdbd" d="M840.8 1137.5l.4-2.9"/>
<path stroke="#02bac3" d="M841.2 1134.6l.4-2"/>
<path stroke="#0bbdbd" d="M841.6 1132.6l.3-2"/>
<path stroke="#19bfb6" d="M841.9 1130.6l.1-1"/>
<path stroke="#0bbdbd" d="M842 1129.6l.2-1"/>
<path stroke="#19bfb6" d="M842.2 1128.6l1.8-10.8"/>
<path stroke="#24c1ae" d="M844 1117.8l.1-1"/>
<path stroke="#19bfb6" d="M844.1 1116.8l.5-3"/>
<path stroke="#24c1ae" d="M844.6 1113.8l.1-1"/>
<path stroke="#19bfb6" d="M844.7 1112.8l.7-4.9"/>
<path stroke="#24c1ae" d="M845.4 1107.9l.3-2"/>
<path stroke="#19bfb6" d="M845.7 1105.9l.5-3"/>
<path stroke="#0bbdbd" d="M846.2 1102.9l.3-1.9"/>
<path stroke="#19bfb6" d="M846.5 1101l.3-2"/>
<path stroke="#0bbdbd" d="M846.8 1099l.1-1"/>
<path stroke="#19bfb6" d="M846.9 1098l.2-1"/>
<path stroke="#24c1ae" d="M847.1 1097l.3-2"/>
<path stroke="#19bfb6" d="M847.4 1095l.1-1"/>
<path stroke="#24c1ae" d="M847.5 1094l.3-1.9"/>
<path stroke="#19bfb6" d="M847.8 1092.1l.5-3"/>
<path stroke="#0bbdbd" d="M848.3 1089.1l.1-1"/>
<path stroke="#19bfb6" d="M848.4 1088.1l.4-3"/>
<path stroke="#24c1ae" d="M848.8 1085.1l.5-3.9"/>
<path stroke="#19bfb6" d="M849.3 1081.2l.2-1"/>
<path stroke="#24c1ae" d="M849.5 1080.2l.4-3"/>
<path stroke="#2cc4a7" d="M849.9 1077.2l.2-2"/>
<path stroke="#24c1ae" d="M850.1 1075.2l.2-1"/>
<path stroke="#2cc4a7" d="M850.3 1074.2l.4-3"/>
<path stroke="#24c1ae" d="M850.7 1071.2l.7-4.9"/>
<path stroke="#19bfb6" d="M851.4 1066.3l.6-5"/>
<path stroke="#24c1ae" d="M852 1061.3l.2-1"/>
<path stroke="#19bfb6" d="M852.2 1060.3l.2-.9"/>
<path stroke="#24c1ae" d="M852.4 1059.4l.7-2.9"/>
<path stroke="#2cc4a7" d="M853.1 1056.5l1.5-5.9"/>
<path stroke="#24c1ae" d="M854.6 1050.6l.2-.9"/>
<path stroke="#2cc4a7" d="M854.8 1049.7l2.5-5.5"/>
<path stroke="#24c1ae" d="M857.3 1044.2l.4-.9"/>
<path stroke="#2cc4a7" d="M857.7 1043.3l1.3-2.7l4.9-.2"/>
<path stroke="#31c69f" d="M863.9 1040.4l5 0"/>
<path stroke="#37c897" d="M868.9 1040.4l1 0"/>
<path stroke="#3fca8e" d="M869.9 1040.4l8 0"/>
<path stroke="#37c897" d="M877.9 1040.4l2 0"/>
<path stroke="#31c69f" d="M879.9 1040.4l1 0"/>
<path stroke="#37c897" d="M880.9 1040.4l1-.1"/>
<path stroke="#31c69f" d="M881.9 1040.3l4 0"/>
<path stroke="#2cc4a7" d="M885.9 1040.3l5-.1"/>
<path stroke="#31c69f" d="M890.9 1040.2l1 0"/>
<path stroke="#2cc4a7" d="M891.9 1040.2l3 0"/>
<path stroke="#31c69f" d="M894.9 1040.2l2-.1"/>
</g>
<path d="M109.5 1425.5v-8.4M213.5 1425.5v-8.4M318.5 1425.5v-8.4M423.5 1425.5v-8.4M527.5 1425.5v-8.4M632.5 1425.5v-8.4M736.5 1425.5v-8.4M841.5 1425.5v-8.4M945.5 1425.5v-8.4M109.5 1425.5h8.4M109.5 1361.5h8.4M109.5 1296.5h8.4M109.5 1232.5h8.4M109.5 1167.5h8.4M109.5 1103.5h8.4M109.5 1038.5h8.4M109.5 1038.5V1425.5H945.5" stroke="#262626" stroke-width="1" fill="none"/>
<text transform="translate(109.5,1455) scale(1,1.04)" font-size="21" text-anchor="middle" fill="#262626">11</text>
<text transform="translate(213.5,1455) scale(1,1.04)" font-size="21" text-anchor="middle" fill="#262626">12</text>
<text transform="translate(318.5,1455) scale(1,1.04)" font-size="21" text-anchor="middle" fill="#262626">13</text>
<text transform="translate(423.5,1455) scale(1,1.04)" font-size="21" text-anchor="middle" fill="#262626">14</text>
<text transform="translate(527.5,1455) scale(1,1.04)" font-size="21" text-anchor="middle" fill="#262626">15</text>
<text transform="translate(632.5,1455) scale(1,1.04)" font-size="21" text-anchor="middle" fill="#262626">16</text>
<text transform="translate(736.5,1455) scale(1,1.04)" font-size="21" text-anchor="middle" fill="#262626">17</text>
<text transform="translate(841.5,1455) scale(1,1.04)" font-size="21" text-anchor="middle" fill="#262626">18</text>
<text transform="translate(945.5,1455) scale(1,1.04)" font-size="21" text-anchor="middle" fill="#262626">19</text>
<text transform="translate(100.4,1434) scale(1,1.04)" font-size="21" text-anchor="end" fill="#262626">0</text>
<text transform="translate(100.4,1370) scale(1,1.04)" font-size="21" text-anchor="end" fill="#262626">2</text>
<text transform="translate(100.4,1305) scale(1,1.04)" font-size="21" text-anchor="end" fill="#262626">4</text>
<text transform="translate(100.4,1241) scale(1,1.04)" font-size="21" text-anchor="end" fill="#262626">6</text>
<text transform="translate(100.4,1176) scale(1,1.04)" font-size="21" text-anchor="end" fill="#262626">8</text>
<text transform="translate(100.4,1112) scale(1,1.04)" font-size="21" text-anchor="end" fill="#262626">10</text>
<text transform="translate(100.4,1047) scale(1,1.04)" font-size="21" text-anchor="end" fill="#262626">12</text>
<text transform="translate(63.8,1232.5) rotate(-90) scale(1,1.04)" font-size="23.1" text-anchor="middle" fill="#262626">Alt(km)</text>
<rect x="978.5" y="1418.5" width="42.0" height="6" fill="#3e26a8"/>
<rect x="978.5" y="1412.5" width="42.0" height="6.6" fill="#402ab4"/>
<rect x="978.5" y="1406.5" width="42.0" height="6.6" fill="#422ec0"/>
<rect x="978.5" y="1400.4" width="42.0" height="6.6" fill="#4332cb"/>
<rect x="978.5" y="1394.4" width="42.0" height="6.6" fill="#4537d5"/>
<rect x="978.5" y="1388.4" width="42.0" height="6.6" fill="#463cde"/>
<rect x="978.5" y="1382.4" width="42.0" height="6.6" fill="#4741e5"/>
<rect x="978.5" y="1376.4" width="42.0" height="6.6" fill="#4747eb"/>
<rect x="978.5" y="1370.4" width="42.0" height="6.6" fill="#484df0"/>
<rect x="978.5" y="1364.3" width="42.0" height="6.6" fill="#4852f4"/>
<rect x="978.5" y="1358.3" width="42.0" height="6.6" fill="#4758f8"/>
<rect x="978.5" y="1352.3" width="42.0" height="6.6" fill="#465efb"/>
<rect x="978.5" y="1346.3" width="42.0" height="6.6" fill="#4563fd"/>
<rect x="978.5" y="1340.3" width="42.0" height="6.6" fill="#4269fe"/>
<rect x="978.5" y="1334.3" width="42.0" height="6.6" fill="#3e6fff"/>
<rect x="978.5" y="1328.2" width="42.0" height="6.6" fill="#3875fe"/>
<rect x="978.5" y="1322.2" width="42.0" height="6.6" fill="#327cfc"/>
<rect x="978.5" y="1316.2" width="42.0" height="6.6" fill="#2f81fa"/>
<rect x="978.5" y="1310.2" width="42.0" height="6.6" fill="#2e87f7"/>
<rect x="978.5" y="1304.2" width="42.0" height="6.6" fill="#2d8cf3"/>
<rect x="978.5" y="1298.2" width="42.0" height="6.6" fill="#2b91ef"/>
<rect x="978.5" y="1292.2" width="42.0" height="6.6" fill="#2797eb"/>
<rect x="978.5" y="1286.1" width="42.0" height="6.6" fill="#259be8"/>
<rect x="978.5" y="1280.1" width="42.0" height="6.6" fill="#23a0e5"/>
<rect x="978.5" y="1274.1" width="42.0" height="6.6" fill="#20a5e3"/>
<rect x="978.5" y="1268.1" width="42.0" height="6.6" fill="#1ca9df"/>
<rect x="978.5" y="1262.1" width="42.0" height="6.6" fill="#18addb"/>
<rect x="978.5" y="1256.1" width="42.0" height="6.6" fill="#12b1d6"/>
<rect x="978.5" y="1250" width="42.0" height="6.6" fill="#08b5d0"/>
<rect x="978.5" y="1244" width="42.0" height="6.6" fill="#01b8ca"/>
<rect x="978.5" y="1238" width="42.0" height="6.6" fill="#02bac3"/>
<rect x="978.5" y="1232" width="42.0" height="6.6" fill="#0bbdbd"/>
<rect x="978.5" y="1226" width="42.0" height="6.6" fill="#19bfb6"/>
<rect x="978.5" y="1220" width="42.0" height="6.6" fill="#24c1ae"/>
<rect x="978.5" y="1214" width="42.0" height="6.6" fill="#2cc4a7"/>
<rect x="978.5" y="1207.9" width="42.0" height="6.6" fill="#31c69f"/>
<rect x="978.5" y="1201.9" width="42.0" height="6.6" fill="#37c897"/>
<rect x="978.5" y="1195.9" width="42.0" height="6.6" fill="#3fca8e"/>
<rect x="978.5" y="1189.9" width="42.0" height="6.6" fill="#4acb84"/>
<rect x="978.5" y="1183.9" width="42.0" height="6.6" fill="#57cc7a"/>
<rect x="978.5" y="1177.9" width="42.0" height="6.6" fill="#64cd6f"/>
<rect x="978.5" y="1171.8" width="42.0" height="6.6" fill="#72cd64"/>
<rect x="978.5" y="1165.8" width="42.0" height="6.6" fill="#81cc59"/>
<rect x="978.5" y="1159.8" width="42.0" height="6.6" fill="#8fcb4e"/>
<rect x="978.5" y="1153.8" width="42.0" height="6.6" fill="#9dc943"/>
<rect x="978.5" y="1147.8" width="42.0" height="6.6" fill="#abc739"/>
<rect x="978.5" y="1141.8" width="42.0" height="6.6" fill="#b9c431"/>
<rect x="978.5" y="1135.8" width="42.0" height="6.6" fill="#c5c22a"/>
<rect x="978.5" y="1129.7" width="42.0" height="6.6" fill="#d1bf27"/>
<rect x="978.5" y="1123.7" width="42.0" height="6.6" fill="#dcbd29"/>
<rect x="978.5" y="1117.7" width="42.0" height="6.6" fill="#e6bb2d"/>
<rect x="978.5" y="1111.7" width="42.0" height="6.6" fill="#f0ba36"/>
<rect x="978.5" y="1105.7" width="42.0" height="6.6" fill="#f8ba3d"/>
<rect x="978.5" y="1099.7" width="42.0" height="6.6" fill="#febe3c"/>
<rect x="978.5" y="1093.6" width="42.0" height="6.6" fill="#fec338"/>
<rect x="978.5" y="1087.6" width="42.0" height="6.6" fill="#fec934"/>
<rect x="978.5" y="1081.6" width="42.0" height="6.6" fill="#fccf30"/>
<rect x="978.5" y="1075.6" width="42.0" height="6.6" fill="#fad62d"/>
<rect x="978.5" y="1069.6" width="42.0" height="6.6" fill="#f7dc2a"/>
<rect x="978.5" y="1063.6" width="42.0" height="6.6" fill="#f5e327"/>
<rect x="978.5" y="1057.5" width="42.0" height="6.6" fill="#f5e924"/>
<rect x="978.5" y="1051.5" width="42.0" height="6.6" fill="#f6ef20"/>
<rect x="978.5" y="1045.5" width="42.0" height="6.6" fill="#f7f51b"/>
<rect x="978.5" y="1039.5" width="42.0" height="6.6" fill="#f9fb15"/>
<rect x="978.5" y="1039.5" width="42.0" height="385.0" fill="none" stroke="#262626" stroke-width="1"/>
<path d="M1020.5 1096.5h-4.3" stroke="#262626" stroke-width="1"/>
<text transform="translate(1027.8,1103.8) scale(1,1.04)" font-size="18.9" fill="#262626">1.4</text>
<path d="M1020.5 1172.5h-4.3" stroke="#262626" stroke-width="1"/>
<text transform="translate(1027.8,1179.8) scale(1,1.04)" font-size="18.9" fill="#262626">1.2</text>
<path d="M1020.5 1248.5h-4.3" stroke="#262626" stroke-width="1"/>
<text transform="translate(1027.8,1255.8) scale(1,1.04)" font-size="18.9" fill="#262626">1</text>
<path d="M1020.5 1324.5h-4.3" stroke="#262626" stroke-width="1"/>
<text transform="translate(1027.8,1331.8) scale(1,1.04)" font-size="18.9" fill="#262626">0.8</text>
<path d="M1020.5 1400.5h-4.3" stroke="#262626" stroke-width="1"/>
<text transform="translate(1027.8,1407.8) scale(1,1.04)" font-size="18.9" fill="#262626">0.6</text>
<text transform="translate(1080.5,1231.4) rotate(-90) scale(1,1.04)" font-size="19.2" text-anchor="middle" fill="#262626">Ratio CAFS to TUV</text>
</svg>
</body></html>
